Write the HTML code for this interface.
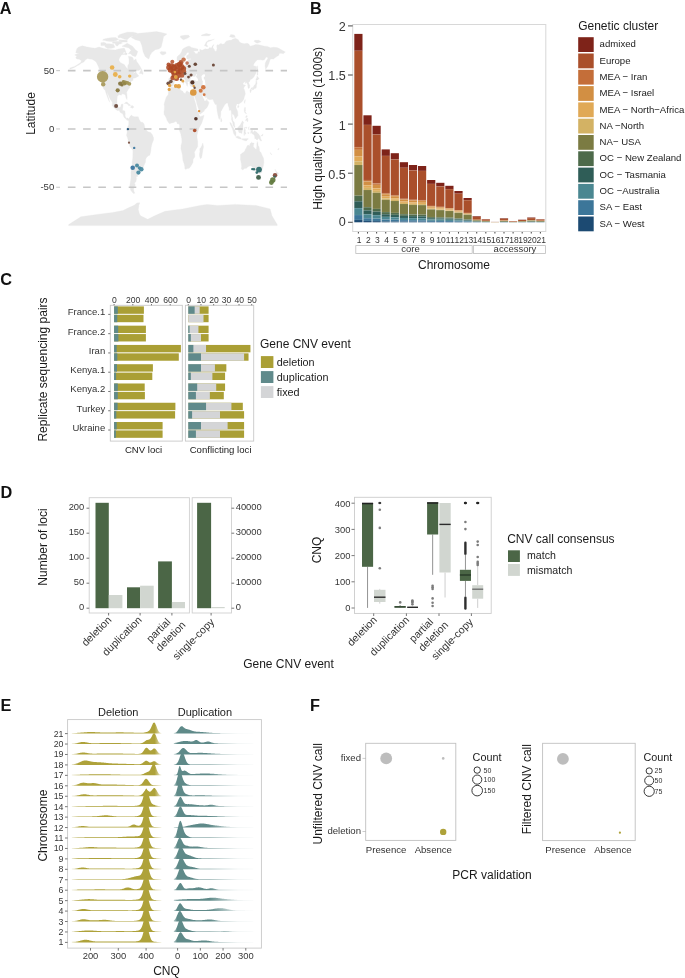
<!DOCTYPE html>
<html><head><meta charset="utf-8"><style>
html,body{margin:0;padding:0;background:#fff;}
svg{display:block;will-change:transform;}
text{font-family:"Liberation Sans", sans-serif;}
</style></head><body>
<svg width="685" height="978" viewBox="0 0 685 978">
<rect width="685" height="978" fill="#fff"/>
<text x="-0.3" y="14.4" font-size="16.3" text-anchor="start" fill="#111" font-weight="bold">A</text>
<text x="310.1" y="14.4" font-size="16.3" text-anchor="start" fill="#111" font-weight="bold">B</text>
<text x="0.3" y="285.2" font-size="16.3" text-anchor="start" fill="#111" font-weight="bold">C</text>
<text x="0.5" y="497.5" font-size="16.3" text-anchor="start" fill="#111" font-weight="bold">D</text>
<text x="0.5" y="710.9" font-size="16.3" text-anchor="start" fill="#111" font-weight="bold">E</text>
<text x="309.9" y="711" font-size="16.3" text-anchor="start" fill="#111" font-weight="bold">F</text>
<path d="M75.72 52.58 L76.89 48.73 L78.65 47.1 L82.45 45.81 L86.25 46.86 L91.52 47.8 L95.03 48.15 L99.12 47.1 L103.8 48.5 L106.73 49.08 L110.82 49.66 L115.5 49.9 L118.43 49.08 L121.35 48.5 L124.28 47.91 L126.03 51.99 L123.69 54.33 L121.35 54.91 L119.01 58.99 L119.01 60.51 L120.18 62.49 L122.52 63.65 L124.28 64.47 L126.03 67.15 L127.78 68.9 L127.78 65.4 L128.96 63.65 L128.96 58.99 L128.37 56.31 L131.3 56.66 L133.05 57.82 L133.63 60.39 L135.97 58.99 L136.56 61.32 L138.31 63.65 L140.66 67.15 L141.24 68.9 L138.9 70.42 L135.39 70.42 L132.47 74.15 L135.97 71.82 L136.27 72.98 L138.31 75.31 L138.9 75.9 L135.39 77.88 L133.05 78.23 L133.05 80.33 L130.71 81.73 L129.54 85.81 L129.83 87.56 L128.37 89.31 L126.62 92.22 L127.2 97.47 L126.97 99.57 L126.03 98.05 L125.44 95.14 L124.28 94.32 L121.94 93.74 L121.35 95.14 L119.01 94.44 L117.25 96.54 L116.96 100.97 L116.96 103.88 L117.84 106.8 L118.72 107.73 L120.77 107.03 L121.06 104.46 L123.11 103.88 L122.81 107.38 L122.34 110.29 L124.86 110.88 L125.27 113.79 L125.04 116.12 L126.32 118.46 L127.49 117.87 L128.66 119.04 L128.37 120.55 L127.2 120.2 L126.32 119.62 L123.98 117.29 L122.81 113.79 L120.47 112.63 L119.01 110.29 L117.55 110.64 L115.5 109.13 L112.28 105.63 L112.28 102.37 L110.24 99.22 L108.48 95.14 L106.9 91.99 L107.31 93.97 L108.48 97.47 L109.65 102.13 L108.48 99.8 L107.13 96.3 L105.73 92.22 L105.26 90.47 L103.51 88.72 L102.34 85.22 L101.46 81.73 L101.17 78.81 L101.46 75.31 L101.05 72.63 L102.05 71.82 L99.7 70.07 L97.95 65.4 L96.2 61.9 L93.86 60.16 L92.1 59.34 L89.76 58.99 L87.42 58.41 L85.08 60.16 L83.91 61.9 L81.57 63.07 L79.23 64.82 L77.77 65.4 L74.55 67.39 L69.87 69.13 L69.87 68.08 L74.55 66.45 L78.06 64.35 L80.4 62.72 L81.57 60.74 L79.23 59.22 L76.89 58.99 L75.72 57.82 L76.89 56.07 L74.55 54.91 L76.89 54.09 L79.82 53.74 L76.89 53.28 Z M131.3 37.42 L134.22 35.09 L138.9 33.34 L147.68 32.41 L156.45 31.59 L162.3 32.75 L166.98 33.92 L163.47 36.84 L162.88 40.33 L161.72 45 L161.13 47.33 L158.79 49.08 L155.28 49.66 L151.77 52.58 L150.01 55.49 L148.84 58.99 L147.09 58.06 L145.34 56.66 L144.16 54.33 L143 51.41 L142.41 47.91 L141.82 45.58 L140.07 40.92 L135.39 39.75 Z M128.66 119.04 L130.12 116.36 L131.88 114.96 L132.17 116.12 L134.22 116.71 L136.56 116.71 L138.31 116.71 L138.9 119.04 L140.66 121.95 L143 122.54 L144.16 124.29 L144.75 127.2 L145.34 128.95 L147.97 131.86 L150.6 132.45 L152.35 134.78 L153.53 137.69 L153.53 140.03 L152.06 143.52 L151.19 147.61 L150.6 152.27 L149.72 155.19 L148.26 155.77 L146.5 157.52 L145.63 159.27 L145.45 162.18 L144.16 165.1 L143 168.01 L142.12 169.53 L140.66 169.18 L139.78 168.83 L140.66 171.51 L140.36 173.26 L137.73 174.42 L137.55 176.52 L135.97 176.76 L136.56 178.5 L135.97 181.42 L134.51 183.17 L135.39 184.92 L133.93 187.83 L133.63 189.58 L133.93 191.33 L134.81 193.08 L133.93 193.66 L132.47 192.5 L130.71 190.16 L129.83 185.5 L130.71 180.25 L131 177.34 L130.89 172.09 L132.17 166.26 L132.17 162.18 L132.76 158.1 L132.93 150.52 L129.83 146.44 L128.96 142.94 L127.49 137.69 L126.5 135.36 L127.2 131.86 L126.62 130.12 L127.2 127.78 L127.96 126.62 L128.66 124.87 L128.78 121.95 L128.66 120.2 Z M163.94 111.81 L164.17 114.61 L165.22 116.12 L166.22 118.11 L167.27 120.79 L169.32 123.82 L171.66 122.89 L174 122.42 L175.17 121.6 L176.63 121.72 L177.51 123.94 L178.97 123.7 L179.56 125.45 L179.56 127.78 L179.26 130.12 L180.9 134.2 L181.2 135.95 L181.72 138.86 L181.9 142.36 L181.02 145.86 L180.9 148.77 L181.9 152.85 L182.48 155.19 L182.89 160.43 L183.94 163.35 L184.71 166.26 L184.82 168.59 L185.7 169.53 L187.16 168.59 L189.21 168.24 L190.38 166.84 L191.84 164.51 L193.01 162.18 L193.13 159.27 L194.77 156.93 L194.77 154.02 L194.3 152.27 L195.35 150.52 L197.69 146.44 L197.69 141.78 L196.99 137.11 L197.11 134.78 L197.99 131.28 L199.45 127.2 L201.79 123.12 L203.25 118.46 L204.01 115.19 L202.08 115.89 L200.03 116.71 L199.33 115.31 L198.86 114.37 L197.99 112.04 L196.81 109.71 L196.41 107.38 L195.76 103.88 L194.88 101.32 L194.18 98.63 L193.6 96.3 L193.01 93.97 L192.9 92.45 L190.97 92.92 L188.62 92.1 L186.87 90.71 L185.7 92.45 L185.7 93.39 L184.82 93.39 L183.07 92.22 L182.89 91.29 L180.73 90.24 L179.97 88.96 L180.44 87.56 L179.85 85.57 L178.68 85.92 L175.75 86.04 L173.41 87.56 L170.78 87.09 L170.31 88.14 L168.44 91.05 L168.27 94.55 L166.98 96.3 L166.28 96.88 L165.22 100.38 L164.46 102.71 L164.06 104.46 L164.46 106.21 L164.35 109.13 Z M168.74 78.81 L168.56 83.48 L168.79 85.81 L170.49 86.39 L170.78 86.97 L172.83 86.16 L174 83.83 L174.29 81.73 L175.87 80.09 L175.75 78.58 L177.51 78.7 L178.68 77.76 L179.85 77.65 L180.44 79.39 L181.31 80.56 L183.07 82.31 L183.36 84.64 L183.65 82.66 L184.06 81.73 L184.82 82.08 L183.36 80.56 L182.19 79.39 L181.31 77.06 L181.2 75.9 L181.96 75.55 L182.78 77.06 L184.24 78.81 L185.41 80.21 L185.41 82.31 L186.28 84.06 L186.87 85.81 L187.45 86.39 L187.45 84.64 L188.04 84.06 L187.45 82.31 L188.04 81.38 L189.21 81.38 L189.5 82.08 L189.33 82.89 L189.79 84.64 L190.09 85.81 L190.97 86.39 L192.72 86.74 L194.18 86.04 L195.06 86.39 L195.06 88.14 L194.59 90.47 L194.18 92.22 L193.01 92.57 L194.01 96.54 L194.47 95.72 L195.35 98.63 L196.23 100.97 L196.93 103.88 L197.87 106.8 L198.86 109.71 L199.33 113.79 L200.32 114.03 L202.08 112.63 L204.13 111.11 L204.6 109.71 L206.41 108.2 L207.34 107.03 L208.22 105.05 L208.98 102.71 L208.4 101.43 L207.34 100.97 L206.94 98.75 L206.76 99.92 L205.88 100.73 L204.42 100.97 L204.13 99.8 L203.84 98.63 L203.37 98.63 L203.02 97.47 L202.31 95.72 L202.02 93.97 L202.96 93.97 L203.54 95.14 L204.13 96.54 L205.59 97.82 L206.94 97.23 L207.64 98.98 L209.98 99.68 L211.44 99.45 L212.96 99.33 L213.49 100.97 L214.37 102.71 L215.24 104.46 L216.59 104.46 L216.7 106.8 L217 110.29 L217.58 113.21 L218.17 116.12 L218.75 118.57 L219.34 119.51 L219.75 118.57 L220.39 116.94 L220.74 114.96 L220.92 111.46 L221.97 109.71 L223.43 107.03 L224.89 104.46 L226.06 103.53 L226.94 103.06 L227.7 102.95 L228 104.46 L228.41 106.21 L229.17 107.96 L229.28 110.29 L229.87 110.53 L231.04 109.71 L231.45 113.79 L231.62 117.29 L231.51 119.62 L232.62 122.54 L233.08 125.45 L234.55 127.43 L234.96 127.32 L234.55 124.29 L234.37 122.54 L233.79 121.72 L232.79 120.2 L232.5 117.87 L232.03 116.12 L232.5 113.44 L232.97 114.14 L233.96 114.96 L235.31 118.92 L236.3 117.87 L237.88 115.54 L237.76 112.63 L237.47 110.88 L236.3 108.54 L235.89 106.8 L236.59 104.46 L237.47 103.76 L238.35 104.46 L239.23 103.76 L240.4 102.95 L241.27 102.37 L242.74 100.97 L243.91 98.63 L244.49 96.3 L245.37 93.97 L245.08 92.22 L244.49 89.89 L243.62 88.14 L244.49 86.39 L245.66 85.46 L244.78 84.88 L243.32 84.64 L243.03 83.24 L245.08 81.38 L245.55 81.96 L244.96 83.59 L246.54 82.54 L247.71 84.64 L248 88.14 L249.17 88.14 L249.7 86.97 L249.76 85.22 L249.06 83.94 L248.59 82.31 L249.87 81.14 L250.34 79.39 L251.81 79.05 L253.27 77.65 L254.44 75.9 L256.02 72.98 L256.19 70.65 L256.78 67.73 L256.49 66.57 L254.44 65.99 L253.27 65.17 L254.44 63.07 L256.19 60.74 L257.65 59.81 L260.58 59.81 L262.92 60.16 L264.68 59.57 L266.14 57.01 L268.19 57.82 L266.14 61.32 L265.26 63.07 L265.03 65.99 L265.67 69.48 L266.66 67.73 L267.6 66.57 L269.06 63.07 L269.53 61.32 L270.52 58.99 L273.45 58.99 L274.91 57.82 L277.54 56.07 L278.71 55.49 L279.3 53.39 L281.06 53.16 L283.28 53.86 L285.33 51.88 L282.23 50.24 L279.3 48.61 L276.96 47.56 L273.45 47.33 L270.52 47.8 L267.6 46.4 L264.68 46.16 L261.75 45.58 L258.82 44.76 L255.9 44.41 L252.97 45.46 L250.05 46.16 L248.88 44.07 L247.12 43.25 L244.2 43.83 L241.27 43.02 L239.52 42.08 L238.35 39.75 L235.43 38.35 L232.5 39.17 L231.33 40.33 L229.57 40.33 L226.65 40.92 L224.89 42.67 L224.6 43.83 L221.97 44.3 L221.09 43.25 L218.46 45 L217.88 44.41 L216.7 45.58 L217 48.5 L216.41 51.29 L214.95 51.18 L214.07 49.08 L212.9 47.91 L213.08 46.4 L214.07 44.41 L212.61 45.58 L211.44 47.91 L209.39 47.56 L208.51 49.08 L206.47 49.08 L205.3 48.73 L202.08 50.24 L199.74 49.2 L199.74 51.99 L198.28 51.64 L197.4 53.74 L195.35 53.39 L194.47 51.99 L193.31 51.06 L197.99 50.83 L197.99 49.08 L194.47 48.15 L191.55 47.56 L189.79 46.16 L188.04 46.16 L185.7 47.33 L183.36 48.5 L182.19 49.66 L181.6 51.41 L181.02 52.81 L180.14 54.33 L178.68 55.26 L177.22 56.66 L176.93 58.99 L177.22 60.39 L178.09 61.32 L178.97 61.09 L180.14 59.92 L180.55 60.74 L181.02 63.07 L181.49 64.12 L182.37 64.12 L183.36 63.42 L183.65 61.9 L183.65 60.16 L184.82 59.57 L184.53 58.06 L184.24 56.07 L185.99 54.91 L186.58 53.16 L188.04 52.23 L188.92 53.16 L188.8 54.33 L186.58 55.73 L186.58 57.82 L187.16 58.99 L188.62 58.64 L190.38 58.41 L191.55 58.99 L190.38 59.57 L188.04 59.81 L187.75 60.74 L188.33 61.9 L186.87 61.9 L186.28 62.72 L186.28 64.24 L185.41 65.4 L184.24 65.05 L182.48 65.99 L181.02 65.75 L180.44 65.99 L180.32 64.82 L179.85 61.9 L178.97 62.37 L178.8 64.24 L179.09 65.99 L178.09 66.57 L176.93 66.92 L176.34 68.55 L175.17 69.48 L174.88 70.65 L174 71 L173.24 71.12 L172.95 72.17 L171.37 72.4 L171.54 73.22 L172.71 73.91 L173.3 75.31 L173.24 77.3 L172.95 78.35 L171.66 78.23 L169.32 78 Z M68.7 225.61 L68.7 224.56 L80.81 216.87 L95.03 214.77 L112.58 212.44 L122.99 210.57 L130.01 207.07 L134.22 205.32 L136.85 202.99 L139.78 202.64 L138.9 205.32 L138.31 209.4 L139.49 214.07 L140.6 215.82 L147.62 219.31 L154.58 215.82 L164.99 211.27 L182.6 208.94 L199.97 205.44 L206.99 204.39 L217.7 205.44 L235.19 204.39 L256.19 205.44 L270.17 208.94 L271.99 215.82 L277.19 224.56 L277.19 225.61 Z M137.73 51.41 L136.56 54.91 L135.39 56.66 L132.17 55.49 L130.71 53.74 L128.37 53.74 L131 50.24 L128.96 47.91 L126.03 47.33 L121.94 46.16 L127.2 43.25 L132.47 46.16 L135.39 49.66 Z M105.56 47.33 L107.9 48.5 L111.99 48.26 L114.92 47.33 L113.75 44.41 L109.65 43.83 L104.97 43.83 L104.39 45.58 Z M102.63 40.33 L105.56 40.57 L108.48 40.92 L112.58 41.15 L116.67 40.57 L118.43 39.17 L115.5 37.42 L110.82 37.65 L106.14 38.58 L103.22 39.17 Z M112.58 43.25 L116.67 43.6 L120.18 44.07 L122.52 42.9 L120.18 41.5 L115.5 41.5 L112.58 42.08 Z M127.2 39.75 L129.54 37.42 L133.05 35.67 L137.73 33.34 L133.05 32.17 L127.2 32.17 L121.35 33.92 L119.01 35.09 L121.35 38 L124.86 39.17 Z M118.43 39.75 L127.2 40.33 L127.2 42.08 L120.18 42.08 Z M100.88 45.58 L103.8 45.58 L106.14 43.25 L103.8 42.2 L100.88 42.67 Z M115.5 45 L117.25 46.16 L119.01 44.41 L117.84 42.67 L115.5 43.25 Z M106.14 40.92 L112.58 41.5 L115.5 40.92 L112.58 39.17 L107.31 39.17 L105.56 40.33 Z M118.43 38 L124.28 36.84 L122.52 34.5 L117.84 35.67 Z M123.11 54.33 L126.62 54.91 L127.2 53.16 L123.69 51.99 Z M139.31 73.45 L141.53 68.78 L142.41 71.23 L143.17 73.56 L142.7 74.5 L141.24 73.56 Z M98.94 69.72 L101.75 72.52 L101.17 72.28 L99.7 70.65 Z M124.28 103.53 L126.03 102.02 L127.2 102.13 L128.66 103.65 L130.12 104.81 L130.59 105.4 L128.66 105.75 L128.37 104.81 L126.62 103.76 L124.86 103.41 Z M130.42 107.38 L131.41 105.75 L133.05 105.86 L133.93 107.26 L132.47 108.31 Z M170.67 70.65 L172.25 69.95 L174.76 69.37 L174.99 67.5 L174.18 66.69 L173.71 65.4 L173.12 64.24 L172.71 63.07 L172.95 61.79 L171.95 60.62 L171.07 60.62 L170.78 61.9 L170.67 63.42 L171.07 64.24 L171.95 65.29 L172.25 66.22 L171.37 66.92 L171.54 68.08 L170.9 68.55 L171.95 69.02 Z M170.49 68.08 L170.37 66.22 L170.78 65.17 L169.91 64.47 L169.03 64.82 L168.15 65.99 L168.27 67.73 L167.97 68.55 L169.03 68.78 Z M161.13 54.33 L159.96 52.58 L161.13 51.53 L163.47 51.76 L165.52 51.64 L166.1 53.16 L165.22 54.09 L163 55.03 Z M180.44 37.42 L183.36 39.75 L186.87 38.58 L189.79 36.84 L188.62 35.32 L184.53 35.32 L180.44 35.9 Z M204.42 45.58 L206.76 46.63 L207.93 46.51 L206.47 44.41 L207.34 42.08 L210.27 40.92 L214.37 39.17 L212.61 39.75 L208.51 40.33 L206.18 42.08 L205.59 43.25 Z M229.57 36.84 L232.5 37.42 L235.43 37.19 L234.25 35.09 L230.75 34.5 Z M254.14 41.5 L257.07 43.25 L261.16 41.85 L258.82 40.33 L254.73 40.33 Z M201.5 35.67 L209.1 35.67 L210.85 34.5 L206.18 33.57 L201.5 35.09 Z M257.07 75.31 L257.95 74.73 L257.65 71.82 L258.53 71.82 L257.77 68.55 L257.65 65.64 L257.25 66.57 L256.95 68.9 L257.07 71.82 Z M250.58 89.31 L251.51 87.67 L253.27 87.44 L254.03 85.46 L255.02 84.76 L255.9 82.89 L255.84 81.61 L256.37 80.79 L256.78 81.73 L257.07 83.48 L256.49 85.22 L256.37 87.21 L255.9 88.14 L255.02 88.61 L254.14 88.61 L253.27 89.89 L252.97 88.61 L251.81 88.96 Z M249.82 90.12 L250.34 92.8 L250.93 92.22 L251.16 89.89 L250.52 89.42 Z M251.51 90.47 L252.86 89.54 L252.57 89.07 L251.69 89.42 Z M255.9 80.56 L256.6 80.21 L257.83 79.98 L259.12 78.46 L258.53 77.65 L256.95 75.9 L256.78 78.23 L255.9 78.81 Z M244.32 102.71 L244.67 103.41 L245.31 100.38 L245.08 99.45 L244.32 101.55 Z M237.59 107.38 L238.35 107.73 L238.94 106.21 L238.64 105.4 L237.76 105.63 Z M220.68 119.62 L220.8 117.52 L221.5 119.04 L221.85 120.79 L221.38 121.95 L220.8 121.72 Z M244.2 110.29 L244.55 107.38 L245.49 107.38 L245.37 109.13 L245.66 110.29 L245.08 112.04 L246.54 113.21 L246.13 113.79 L245.08 112.98 L244.55 112.28 Z M245.37 120.79 L246.54 120.2 L247.42 121.95 L248 120.79 L247.71 118.11 L246.25 118.81 Z M245.37 117.29 L246.54 115.54 L247.42 116.12 L246.54 117.52 Z M229.75 122.42 L231.04 122.89 L232.73 126.38 L234.55 129.53 L236.01 132.45 L235.89 135.71 L235.13 135.83 L233.67 133.61 L232.79 130.12 L231.62 127.2 L230.45 124.87 Z M235.54 136.88 L237.18 136.3 L238.94 136.41 L240.98 137.93 L240.98 139.09 L238.94 138.63 L236.3 137.58 Z M241.27 138.86 L243.62 138.63 L245.95 138.63 L247.12 138.51 L248.3 138.63 L247.71 139.44 L246.25 140.96 L244.2 140.61 L241.86 139.44 Z M237.76 127.2 L238.35 126.97 L239.23 126.03 L240.1 125.22 L241.57 122.54 L242.44 120.79 L243.73 122.77 L243.03 123.7 L243.03 127.78 L242.74 128.95 L242.15 131.86 L241.86 133.61 L240.98 133.03 L238.94 132.45 L238.35 130.7 L237.76 128.95 Z M243.91 135.36 L244.49 135.36 L244.49 132.45 L245.08 134.2 L245.95 133.85 L245.08 130.7 L245.95 129.88 L244.78 129.53 L244.78 127.78 L246.83 128.37 L247.12 127.2 L244.49 127.43 L244.02 128.95 L243.91 132.45 Z M250.63 130.7 L252.39 129.88 L252.97 132.8 L254.44 130.7 L256.49 131.98 L258.82 134.2 L259.41 135.36 L260.29 136.53 L260.58 138.28 L261.75 141.08 L260 140.61 L258.82 138.28 L257.95 139.44 L257.36 139.79 L256.49 139.68 L255.31 138.51 L254.73 138.74 L254.73 137.11 L254.14 134.78 L252.97 134.2 L251.81 133.61 L251.22 132.45 Z M260.87 135.36 L262.04 135.36 L262.92 133.85 L262.92 135.36 L261.75 136.3 Z M248.59 127.2 L249.17 126.62 L248.88 128.95 L249.35 129.88 L248.59 129.53 Z M247.71 132.45 L248.88 132.68 L248.88 133.38 L247.83 133.38 Z M250.05 132.45 L250.63 132.68 L250.52 133.38 Z M240.4 154.6 L240.81 154.37 L242.27 152.97 L243.62 152.27 L245.08 150.52 L245.55 148.77 L246.25 148.19 L247.12 145.86 L248.3 145.04 L249.46 146.21 L249.93 144.11 L250.63 143.18 L251.51 142.36 L252.39 142.94 L253.56 142.94 L254.14 143.52 L253.56 144.69 L253.27 146.44 L254.14 147.61 L255.61 149.35 L256.37 149.24 L256.78 146.44 L256.84 143.52 L257.36 141.43 L257.95 143.52 L258.12 145.86 L259 146.44 L259.41 149.35 L259.59 151.1 L261.05 152.85 L262.04 155.19 L263.5 158.1 L263.86 162.18 L263.5 165.1 L262.92 167.43 L262.04 170.34 L261.69 172.67 L260.29 173.26 L259.29 173.96 L258.53 173.37 L257.95 174.19 L256.49 173.26 L255.72 172.33 L255.61 170.69 L254.73 170.46 L255.02 169.18 L254.44 169.53 L254.44 168.01 L253.56 169.53 L253.15 169.18 L252.57 167.19 L250.93 165.68 L248.88 166.26 L247.12 167.43 L246.25 168.48 L244.78 168.36 L243.62 169.18 L242.74 169.88 L241.39 168.94 L241.27 168.01 L241.68 166.84 L241.27 163.35 L240.69 160.43 L240.28 159.27 L240.57 157.52 Z M258.65 176.41 L260.76 176.64 L260.58 179.09 L259.88 179.79 L259.12 178.85 Z M275.03 169.18 L276.08 170.93 L276.67 172.09 L278.42 172.91 L278.07 174.66 L277.49 175.01 L276.96 177.11 L276.49 177.46 L276.14 176.99 L276.38 175.59 L275.67 174.66 L276.14 173.26 L276.08 172.09 L275.2 170.34 Z M275.03 176.17 L275.97 176.99 L275.5 178.5 L275.03 180.02 L274.15 180.84 L273.86 182.35 L273.16 183.29 L271.69 182.94 L271.4 182 L272.46 180.25 L273.74 179.09 L274.62 177.34 Z M202.84 142.94 L203.54 147.02 L202.96 149.35 L202.37 153.44 L201.61 157.87 L200.32 158.68 L199.56 156.35 L199.45 154.02 L199.92 151.69 L199.74 148.77 L201.09 147.37 L201.96 145.27 Z M270.52 152.85 L271.69 154.6 L271.4 154.95 L270.12 152.62 Z M278.13 148.77 L279.01 148.19 L278.42 149.94 L277.72 149.7 Z M71.04 226.89 L71.04 226.89 Z" fill="#e8e8e8" stroke="#e8e8e8" stroke-width="0.3"/>
<path d="M190.09 79.98 L190.67 78.23 L191.26 76.25 L191.84 74.73 L192.72 74.73 L193.6 77.06 L194.77 76.48 L195.35 76.13 L196.23 74.15 L196.99 73.91 L196.23 76.48 L195.65 76.71 L196.52 77.3 L197.4 78.35 L198.28 80.56 L196.81 81.14 L195.06 80.33 L193.89 79.98 L192.13 80.91 L190.97 80.91 L190.38 80.44 Z M201.5 75.9 L202.66 74.73 L203.84 74.15 L205 74.5 L205 76.48 L203.84 77.06 L203.84 78.81 L204.83 79.98 L205 81.73 L205.3 82.89 L205.3 85.46 L203.84 86.04 L202.66 85.22 L202.66 82.31 L202.96 81.73 L202.08 79.98 L201.79 78.81 L201.5 77.06 Z" fill="#ffffff"/>
<line x1="67.9" y1="70.65" x2="287" y2="70.65" stroke="#c6c6c6" stroke-width="1.6" stroke-dasharray="7.6 7.6"/>
<line x1="56.2" y1="70.65" x2="60" y2="70.65" stroke="#c0c0c0" stroke-width="0.9"/>
<text x="54.3" y="73.55" font-size="9.6" text-anchor="end" fill="#363636">50</text>
<line x1="67.9" y1="128.95" x2="287" y2="128.95" stroke="#c6c6c6" stroke-width="1.6" stroke-dasharray="7.6 7.6"/>
<line x1="56.2" y1="128.95" x2="60" y2="128.95" stroke="#c0c0c0" stroke-width="0.9"/>
<text x="54.3" y="131.85" font-size="9.6" text-anchor="end" fill="#363636">0</text>
<line x1="67.9" y1="187.25" x2="287" y2="187.25" stroke="#c6c6c6" stroke-width="1.6" stroke-dasharray="7.6 7.6"/>
<line x1="56.2" y1="187.25" x2="60" y2="187.25" stroke="#c0c0c0" stroke-width="0.9"/>
<text x="54.3" y="190.15" font-size="9.6" text-anchor="end" fill="#363636">-50</text>
<text x="34.8" y="113.5" font-size="12" text-anchor="middle" fill="#1a1a1a" transform="rotate(-90 34.8 113.5)">Latitude</text>
<circle cx="102.6" cy="76.7" r="5.7" fill="#aa9b5d" fill-opacity="0.95"/>
<circle cx="103.2" cy="84.2" r="2.2" fill="#aa9b5d" fill-opacity="0.95"/>
<circle cx="112.1" cy="67.5" r="2.3" fill="#e9b04c" fill-opacity="0.95"/>
<circle cx="115.3" cy="74.5" r="2.4" fill="#e9b04c" fill-opacity="0.95"/>
<circle cx="119.7" cy="76.7" r="1.8" fill="#e9b04c" fill-opacity="0.95"/>
<circle cx="129.7" cy="76.1" r="1.7" fill="#e9b04c" fill-opacity="0.95"/>
<circle cx="120.3" cy="83.6" r="2.2" fill="#857540" fill-opacity="0.95"/>
<circle cx="123.5" cy="82" r="2" fill="#938648" fill-opacity="0.95"/>
<circle cx="125.5" cy="82.6" r="2" fill="#9c8f52" fill-opacity="0.95"/>
<circle cx="127.5" cy="82.9" r="1.9" fill="#a09355" fill-opacity="0.95"/>
<circle cx="129.4" cy="83.8" r="1.9" fill="#a59858" fill-opacity="0.95"/>
<circle cx="122" cy="85" r="1.6" fill="#857540" fill-opacity="0.95"/>
<circle cx="124.5" cy="83.8" r="1.8" fill="#938648" fill-opacity="0.95"/>
<circle cx="117.7" cy="90.3" r="2.1" fill="#8a7a42" fill-opacity="0.95"/>
<circle cx="116.1" cy="106" r="2" fill="#6c4a3c" fill-opacity="0.95"/>
<circle cx="169" cy="67.5" r="2.8" fill="#ac4722" fill-opacity="0.88"/>
<circle cx="171.5" cy="66" r="2.8" fill="#ac4722" fill-opacity="0.88"/>
<circle cx="174" cy="67.5" r="3" fill="#ac4722" fill-opacity="0.88"/>
<circle cx="177" cy="66" r="3" fill="#ac4722" fill-opacity="0.88"/>
<circle cx="179.5" cy="64.5" r="2.8" fill="#ac4722" fill-opacity="0.88"/>
<circle cx="181.5" cy="67" r="3" fill="#ac4722" fill-opacity="0.88"/>
<circle cx="183.5" cy="68.5" r="2.6" fill="#ac4722" fill-opacity="0.88"/>
<circle cx="170.5" cy="70" r="2.8" fill="#ac4722" fill-opacity="0.88"/>
<circle cx="173.5" cy="71.5" r="3" fill="#ac4722" fill-opacity="0.88"/>
<circle cx="177" cy="70.5" r="3.2" fill="#ac4722" fill-opacity="0.88"/>
<circle cx="180.5" cy="71.5" r="3" fill="#ac4722" fill-opacity="0.88"/>
<circle cx="184" cy="71.5" r="2.2" fill="#b65a34" fill-opacity="0.95"/>
<circle cx="174.5" cy="75" r="3" fill="#ac4722" fill-opacity="0.88"/>
<circle cx="178.5" cy="75" r="3" fill="#ac4722" fill-opacity="0.88"/>
<circle cx="182" cy="75.5" r="2.3" fill="#b85c38" fill-opacity="0.95"/>
<circle cx="176.5" cy="78.5" r="2.5" fill="#ac4722" fill-opacity="0.88"/>
<circle cx="172.5" cy="78" r="2.2" fill="#ac4722" fill-opacity="0.88"/>
<circle cx="168.5" cy="64.5" r="2" fill="#ac4722" fill-opacity="0.88"/>
<circle cx="181" cy="62.5" r="2.4" fill="#ac4722" fill-opacity="0.88"/>
<circle cx="172.3" cy="61.8" r="2" fill="#c06543" fill-opacity="0.95"/>
<circle cx="183.6" cy="59.6" r="2.2" fill="#c87650" fill-opacity="0.95"/>
<circle cx="187.1" cy="63.1" r="1.8" fill="#c2735a" fill-opacity="0.95"/>
<circle cx="174.9" cy="72.1" r="1.3" fill="#e3a245" fill-opacity="0.95"/>
<circle cx="175.8" cy="77.1" r="2" fill="#e3a648" fill-opacity="0.95"/>
<circle cx="195.3" cy="64.2" r="1.8" fill="#63402f" fill-opacity="0.95"/>
<circle cx="189.3" cy="66.2" r="1.5" fill="#6a4636" fill-opacity="0.95"/>
<circle cx="213.4" cy="65.1" r="1.5" fill="#6a4636" fill-opacity="0.95"/>
<circle cx="185" cy="73.6" r="1.5" fill="#6a4636" fill-opacity="0.95"/>
<circle cx="191.1" cy="75" r="1.6" fill="#6a4636" fill-opacity="0.95"/>
<circle cx="188.5" cy="77.1" r="1.4" fill="#6a4636" fill-opacity="0.95"/>
<circle cx="192.4" cy="82.4" r="2.1" fill="#4c2c22" fill-opacity="0.95"/>
<circle cx="168.3" cy="83.3" r="1.9" fill="#6a4a3c" fill-opacity="0.95"/>
<circle cx="170.9" cy="81.5" r="1.8" fill="#6a4a3c" fill-opacity="0.95"/>
<circle cx="181" cy="79.8" r="1.2" fill="#6a4a3c" fill-opacity="0.95"/>
<circle cx="169.6" cy="85.5" r="1.7" fill="#e2a043" fill-opacity="0.95"/>
<circle cx="169.2" cy="89.4" r="1.6" fill="#e2a043" fill-opacity="0.95"/>
<circle cx="175.8" cy="85.9" r="2" fill="#e2a043" fill-opacity="0.95"/>
<circle cx="178.8" cy="86.3" r="2.2" fill="#e2a043" fill-opacity="0.95"/>
<circle cx="182.8" cy="81.1" r="1.5" fill="#e2a043" fill-opacity="0.95"/>
<circle cx="193.7" cy="85.9" r="1.2" fill="#e2a043" fill-opacity="0.95"/>
<circle cx="193.3" cy="92.5" r="3.3" fill="#da953a" fill-opacity="0.95"/>
<circle cx="194.6" cy="87.7" r="1.2" fill="#6a4a3c" fill-opacity="0.95"/>
<circle cx="203.3" cy="87.2" r="2.3" fill="#d2743d" fill-opacity="0.95"/>
<circle cx="200.7" cy="90.7" r="2" fill="#d2743d" fill-opacity="0.95"/>
<circle cx="204.2" cy="94.7" r="1.4" fill="#d2743d" fill-opacity="0.95"/>
<circle cx="199.1" cy="111.1" r="1.2" fill="#e08d33" fill-opacity="0.95"/>
<circle cx="195.9" cy="118.7" r="1.8" fill="#4c2c22" fill-opacity="0.95"/>
<circle cx="194.7" cy="130.5" r="1.8" fill="#ad4b27" fill-opacity="0.95"/>
<circle cx="127.9" cy="129.1" r="1.2" fill="#1d4d74" fill-opacity="0.95"/>
<circle cx="129" cy="142.7" r="1.1" fill="#7a5040" fill-opacity="0.95"/>
<circle cx="134.2" cy="147.9" r="1.2" fill="#3d78a0" fill-opacity="0.95"/>
<circle cx="132.7" cy="167.8" r="2.3" fill="#3b76a0" fill-opacity="0.95"/>
<circle cx="137" cy="165.6" r="2" fill="#4a8aa0" fill-opacity="0.95"/>
<circle cx="141.3" cy="169.2" r="2.3" fill="#4a8aa0" fill-opacity="0.95"/>
<circle cx="139.5" cy="168" r="1.8" fill="#4a8aa0" fill-opacity="0.95"/>
<circle cx="138.4" cy="172.6" r="2.1" fill="#4a8aa0" fill-opacity="0.95"/>
<circle cx="259" cy="169.6" r="2.9" fill="#2f6b6b" fill-opacity="0.95"/>
<circle cx="252.3" cy="169.1" r="1.2" fill="#2f6b6b" fill-opacity="0.95"/>
<circle cx="254" cy="169.2" r="1.2" fill="#2f6b6b" fill-opacity="0.95"/>
<circle cx="256.8" cy="172.6" r="1.3" fill="#2f6b6b" fill-opacity="0.95"/>
<circle cx="258.5" cy="177.4" r="2.4" fill="#3f5f49" fill-opacity="0.95"/>
<circle cx="275" cy="175.2" r="2.2" fill="#8a4c3c" fill-opacity="0.95"/>
<circle cx="274.7" cy="176.6" r="1.2" fill="#3b6a60" fill-opacity="0.95"/>
<circle cx="272.8" cy="180" r="2.7" fill="#637b40" fill-opacity="0.95"/>
<circle cx="271.4" cy="182.5" r="2.4" fill="#637b40" fill-opacity="0.95"/>
<rect x="352.7" y="24.5" width="193.1" height="207" fill="none" stroke="#d8d8d8" stroke-width="1"/>
<rect x="354.3" y="33.9" width="8.2" height="16.9" fill="#7e2319"/>
<rect x="354.3" y="50.8" width="8.2" height="96.4" fill="#aa4f2b"/>
<rect x="354.3" y="147.2" width="8.2" height="2.67" fill="#c46e39"/>
<rect x="354.3" y="149.87" width="8.2" height="6.76" fill="#d28f43"/>
<rect x="354.3" y="156.63" width="8.2" height="4.63" fill="#e0a956"/>
<rect x="354.3" y="161.26" width="8.2" height="3.74" fill="#d3b264"/>
<rect x="354.3" y="165" width="8.2" height="30.7" fill="#7b7b42"/>
<rect x="354.3" y="195.7" width="8.2" height="5.51" fill="#4d6a4a"/>
<rect x="354.3" y="201.21" width="8.2" height="6.92" fill="#2f5d57"/>
<rect x="354.3" y="208.12" width="8.2" height="6.92" fill="#4a8791"/>
<rect x="354.3" y="215.04" width="8.2" height="4.89" fill="#3c7699"/>
<rect x="354.3" y="219.93" width="8.2" height="2.37" fill="#1c4a72"/>
<line x1="354.3" y1="50.8" x2="362.5" y2="50.8" stroke="#ffffff" stroke-width="0.3" stroke-opacity="0.22"/>
<line x1="354.3" y1="147.2" x2="362.5" y2="147.2" stroke="#ffffff" stroke-width="0.3" stroke-opacity="0.22"/>
<line x1="354.3" y1="149.87" x2="362.5" y2="149.87" stroke="#ffffff" stroke-width="0.3" stroke-opacity="0.22"/>
<line x1="354.3" y1="156.63" x2="362.5" y2="156.63" stroke="#ffffff" stroke-width="0.3" stroke-opacity="0.22"/>
<line x1="354.3" y1="161.26" x2="362.5" y2="161.26" stroke="#ffffff" stroke-width="0.3" stroke-opacity="0.22"/>
<line x1="354.3" y1="165" x2="362.5" y2="165" stroke="#ffffff" stroke-width="0.3" stroke-opacity="0.22"/>
<line x1="354.3" y1="195.7" x2="362.5" y2="195.7" stroke="#ffffff" stroke-width="0.3" stroke-opacity="0.22"/>
<line x1="354.3" y1="201.21" x2="362.5" y2="201.21" stroke="#ffffff" stroke-width="0.3" stroke-opacity="0.22"/>
<line x1="354.3" y1="208.12" x2="362.5" y2="208.12" stroke="#ffffff" stroke-width="0.3" stroke-opacity="0.22"/>
<line x1="354.3" y1="215.04" x2="362.5" y2="215.04" stroke="#ffffff" stroke-width="0.3" stroke-opacity="0.22"/>
<line x1="354.3" y1="219.93" x2="362.5" y2="219.93" stroke="#ffffff" stroke-width="0.3" stroke-opacity="0.22"/>
<line x1="358.4" y1="232" x2="358.4" y2="233.6" stroke="#555" stroke-width="1.1"/>
<text x="359.2" y="242.6" font-size="8.5" text-anchor="middle" fill="#363636">1</text>
<rect x="363.4" y="115.3" width="8.2" height="9.6" fill="#7e2319"/>
<rect x="363.4" y="124.9" width="8.2" height="55.1" fill="#aa4f2b"/>
<rect x="363.4" y="180" width="8.2" height="1.5" fill="#c46e39"/>
<rect x="363.4" y="181.5" width="8.2" height="3.8" fill="#d28f43"/>
<rect x="363.4" y="185.3" width="8.2" height="2.6" fill="#e0a956"/>
<rect x="363.4" y="187.9" width="8.2" height="2.1" fill="#d3b264"/>
<rect x="363.4" y="190" width="8.2" height="17.2" fill="#7b7b42"/>
<rect x="363.4" y="207.2" width="8.2" height="3.13" fill="#4d6a4a"/>
<rect x="363.4" y="210.33" width="8.2" height="3.93" fill="#2f5d57"/>
<rect x="363.4" y="214.25" width="8.2" height="3.93" fill="#4a8791"/>
<rect x="363.4" y="218.18" width="8.2" height="2.78" fill="#3c7699"/>
<rect x="363.4" y="220.96" width="8.2" height="1.34" fill="#1c4a72"/>
<line x1="363.4" y1="124.9" x2="371.6" y2="124.9" stroke="#ffffff" stroke-width="0.3" stroke-opacity="0.22"/>
<line x1="363.4" y1="180" x2="371.6" y2="180" stroke="#ffffff" stroke-width="0.3" stroke-opacity="0.22"/>
<line x1="363.4" y1="181.5" x2="371.6" y2="181.5" stroke="#ffffff" stroke-width="0.3" stroke-opacity="0.22"/>
<line x1="363.4" y1="185.3" x2="371.6" y2="185.3" stroke="#ffffff" stroke-width="0.3" stroke-opacity="0.22"/>
<line x1="363.4" y1="187.9" x2="371.6" y2="187.9" stroke="#ffffff" stroke-width="0.3" stroke-opacity="0.22"/>
<line x1="363.4" y1="190" x2="371.6" y2="190" stroke="#ffffff" stroke-width="0.3" stroke-opacity="0.22"/>
<line x1="363.4" y1="207.2" x2="371.6" y2="207.2" stroke="#ffffff" stroke-width="0.3" stroke-opacity="0.22"/>
<line x1="363.4" y1="210.33" x2="371.6" y2="210.33" stroke="#ffffff" stroke-width="0.3" stroke-opacity="0.22"/>
<line x1="363.4" y1="214.25" x2="371.6" y2="214.25" stroke="#ffffff" stroke-width="0.3" stroke-opacity="0.22"/>
<line x1="363.4" y1="218.18" x2="371.6" y2="218.18" stroke="#ffffff" stroke-width="0.3" stroke-opacity="0.22"/>
<line x1="363.4" y1="220.96" x2="371.6" y2="220.96" stroke="#ffffff" stroke-width="0.3" stroke-opacity="0.22"/>
<line x1="367.5" y1="232" x2="367.5" y2="233.6" stroke="#555" stroke-width="1.1"/>
<text x="368.3" y="242.6" font-size="8.5" text-anchor="middle" fill="#363636">2</text>
<rect x="372.5" y="125.8" width="8.2" height="8.7" fill="#7e2319"/>
<rect x="372.5" y="134.5" width="8.2" height="49" fill="#aa4f2b"/>
<rect x="372.5" y="183.5" width="8.2" height="1.4" fill="#c46e39"/>
<rect x="372.5" y="184.9" width="8.2" height="3.53" fill="#d28f43"/>
<rect x="372.5" y="188.43" width="8.2" height="2.42" fill="#e0a956"/>
<rect x="372.5" y="190.85" width="8.2" height="1.95" fill="#d3b264"/>
<rect x="372.5" y="192.8" width="8.2" height="16.1" fill="#7b7b42"/>
<rect x="372.5" y="208.9" width="8.2" height="2.77" fill="#4d6a4a"/>
<rect x="372.5" y="211.67" width="8.2" height="3.48" fill="#2f5d57"/>
<rect x="372.5" y="215.16" width="8.2" height="3.48" fill="#4a8791"/>
<rect x="372.5" y="218.64" width="8.2" height="2.47" fill="#3c7699"/>
<rect x="372.5" y="221.11" width="8.2" height="1.19" fill="#1c4a72"/>
<line x1="372.5" y1="134.5" x2="380.7" y2="134.5" stroke="#ffffff" stroke-width="0.3" stroke-opacity="0.22"/>
<line x1="372.5" y1="183.5" x2="380.7" y2="183.5" stroke="#ffffff" stroke-width="0.3" stroke-opacity="0.22"/>
<line x1="372.5" y1="184.9" x2="380.7" y2="184.9" stroke="#ffffff" stroke-width="0.3" stroke-opacity="0.22"/>
<line x1="372.5" y1="188.43" x2="380.7" y2="188.43" stroke="#ffffff" stroke-width="0.3" stroke-opacity="0.22"/>
<line x1="372.5" y1="190.85" x2="380.7" y2="190.85" stroke="#ffffff" stroke-width="0.3" stroke-opacity="0.22"/>
<line x1="372.5" y1="192.8" x2="380.7" y2="192.8" stroke="#ffffff" stroke-width="0.3" stroke-opacity="0.22"/>
<line x1="372.5" y1="208.9" x2="380.7" y2="208.9" stroke="#ffffff" stroke-width="0.3" stroke-opacity="0.22"/>
<line x1="372.5" y1="211.67" x2="380.7" y2="211.67" stroke="#ffffff" stroke-width="0.3" stroke-opacity="0.22"/>
<line x1="372.5" y1="215.16" x2="380.7" y2="215.16" stroke="#ffffff" stroke-width="0.3" stroke-opacity="0.22"/>
<line x1="372.5" y1="218.64" x2="380.7" y2="218.64" stroke="#ffffff" stroke-width="0.3" stroke-opacity="0.22"/>
<line x1="372.5" y1="221.11" x2="380.7" y2="221.11" stroke="#ffffff" stroke-width="0.3" stroke-opacity="0.22"/>
<line x1="376.6" y1="232" x2="376.6" y2="233.6" stroke="#555" stroke-width="1.1"/>
<text x="377.4" y="242.6" font-size="8.5" text-anchor="middle" fill="#363636">3</text>
<rect x="381.6" y="149.4" width="8.2" height="6.5" fill="#7e2319"/>
<rect x="381.6" y="155.9" width="8.2" height="37.3" fill="#aa4f2b"/>
<rect x="381.6" y="193.2" width="8.2" height="0.99" fill="#c46e39"/>
<rect x="381.6" y="194.19" width="8.2" height="2.51" fill="#d28f43"/>
<rect x="381.6" y="196.7" width="8.2" height="1.72" fill="#e0a956"/>
<rect x="381.6" y="198.41" width="8.2" height="1.39" fill="#d3b264"/>
<rect x="381.6" y="199.8" width="8.2" height="12.3" fill="#7b7b42"/>
<rect x="381.6" y="212.1" width="8.2" height="2.11" fill="#4d6a4a"/>
<rect x="381.6" y="214.21" width="8.2" height="2.65" fill="#2f5d57"/>
<rect x="381.6" y="216.86" width="8.2" height="2.65" fill="#4a8791"/>
<rect x="381.6" y="219.52" width="8.2" height="1.88" fill="#3c7699"/>
<rect x="381.6" y="221.39" width="8.2" height="0.91" fill="#1c4a72"/>
<line x1="381.6" y1="155.9" x2="389.8" y2="155.9" stroke="#ffffff" stroke-width="0.3" stroke-opacity="0.22"/>
<line x1="381.6" y1="193.2" x2="389.8" y2="193.2" stroke="#ffffff" stroke-width="0.3" stroke-opacity="0.22"/>
<line x1="381.6" y1="194.19" x2="389.8" y2="194.19" stroke="#ffffff" stroke-width="0.3" stroke-opacity="0.22"/>
<line x1="381.6" y1="196.7" x2="389.8" y2="196.7" stroke="#ffffff" stroke-width="0.3" stroke-opacity="0.22"/>
<line x1="381.6" y1="198.41" x2="389.8" y2="198.41" stroke="#ffffff" stroke-width="0.3" stroke-opacity="0.22"/>
<line x1="381.6" y1="199.8" x2="389.8" y2="199.8" stroke="#ffffff" stroke-width="0.3" stroke-opacity="0.22"/>
<line x1="381.6" y1="212.1" x2="389.8" y2="212.1" stroke="#ffffff" stroke-width="0.3" stroke-opacity="0.22"/>
<line x1="381.6" y1="214.21" x2="389.8" y2="214.21" stroke="#ffffff" stroke-width="0.3" stroke-opacity="0.22"/>
<line x1="381.6" y1="216.86" x2="389.8" y2="216.86" stroke="#ffffff" stroke-width="0.3" stroke-opacity="0.22"/>
<line x1="381.6" y1="219.52" x2="389.8" y2="219.52" stroke="#ffffff" stroke-width="0.3" stroke-opacity="0.22"/>
<line x1="381.6" y1="221.39" x2="389.8" y2="221.39" stroke="#ffffff" stroke-width="0.3" stroke-opacity="0.22"/>
<line x1="385.7" y1="232" x2="385.7" y2="233.6" stroke="#555" stroke-width="1.1"/>
<text x="386.5" y="242.6" font-size="8.5" text-anchor="middle" fill="#363636">4</text>
<rect x="390.7" y="153.2" width="8.2" height="6.3" fill="#7e2319"/>
<rect x="390.7" y="159.5" width="8.2" height="35.8" fill="#aa4f2b"/>
<rect x="390.7" y="195.3" width="8.2" height="0.85" fill="#c46e39"/>
<rect x="390.7" y="196.16" width="8.2" height="2.17" fill="#d28f43"/>
<rect x="390.7" y="198.32" width="8.2" height="1.48" fill="#e0a956"/>
<rect x="390.7" y="199.8" width="8.2" height="1.2" fill="#d3b264"/>
<rect x="390.7" y="201" width="8.2" height="11.9" fill="#7b7b42"/>
<rect x="390.7" y="212.9" width="8.2" height="1.95" fill="#4d6a4a"/>
<rect x="390.7" y="214.85" width="8.2" height="2.44" fill="#2f5d57"/>
<rect x="390.7" y="217.29" width="8.2" height="2.44" fill="#4a8791"/>
<rect x="390.7" y="219.73" width="8.2" height="1.73" fill="#3c7699"/>
<rect x="390.7" y="221.46" width="8.2" height="0.84" fill="#1c4a72"/>
<line x1="390.7" y1="159.5" x2="398.9" y2="159.5" stroke="#ffffff" stroke-width="0.3" stroke-opacity="0.22"/>
<line x1="390.7" y1="195.3" x2="398.9" y2="195.3" stroke="#ffffff" stroke-width="0.3" stroke-opacity="0.22"/>
<line x1="390.7" y1="196.16" x2="398.9" y2="196.16" stroke="#ffffff" stroke-width="0.3" stroke-opacity="0.22"/>
<line x1="390.7" y1="198.32" x2="398.9" y2="198.32" stroke="#ffffff" stroke-width="0.3" stroke-opacity="0.22"/>
<line x1="390.7" y1="199.8" x2="398.9" y2="199.8" stroke="#ffffff" stroke-width="0.3" stroke-opacity="0.22"/>
<line x1="390.7" y1="201" x2="398.9" y2="201" stroke="#ffffff" stroke-width="0.3" stroke-opacity="0.22"/>
<line x1="390.7" y1="212.9" x2="398.9" y2="212.9" stroke="#ffffff" stroke-width="0.3" stroke-opacity="0.22"/>
<line x1="390.7" y1="214.85" x2="398.9" y2="214.85" stroke="#ffffff" stroke-width="0.3" stroke-opacity="0.22"/>
<line x1="390.7" y1="217.29" x2="398.9" y2="217.29" stroke="#ffffff" stroke-width="0.3" stroke-opacity="0.22"/>
<line x1="390.7" y1="219.73" x2="398.9" y2="219.73" stroke="#ffffff" stroke-width="0.3" stroke-opacity="0.22"/>
<line x1="390.7" y1="221.46" x2="398.9" y2="221.46" stroke="#ffffff" stroke-width="0.3" stroke-opacity="0.22"/>
<line x1="394.8" y1="232" x2="394.8" y2="233.6" stroke="#555" stroke-width="1.1"/>
<text x="395.6" y="242.6" font-size="8.5" text-anchor="middle" fill="#363636">5</text>
<rect x="399.8" y="162.2" width="8.2" height="5.6" fill="#7e2319"/>
<rect x="399.8" y="167.8" width="8.2" height="31" fill="#aa4f2b"/>
<rect x="399.8" y="198.8" width="8.2" height="0.78" fill="#c46e39"/>
<rect x="399.8" y="199.58" width="8.2" height="1.98" fill="#d28f43"/>
<rect x="399.8" y="201.56" width="8.2" height="1.35" fill="#e0a956"/>
<rect x="399.8" y="202.91" width="8.2" height="1.09" fill="#d3b264"/>
<rect x="399.8" y="204" width="8.2" height="10.2" fill="#7b7b42"/>
<rect x="399.8" y="214.2" width="8.2" height="1.68" fill="#4d6a4a"/>
<rect x="399.8" y="215.88" width="8.2" height="2.11" fill="#2f5d57"/>
<rect x="399.8" y="217.98" width="8.2" height="2.11" fill="#4a8791"/>
<rect x="399.8" y="220.09" width="8.2" height="1.49" fill="#3c7699"/>
<rect x="399.8" y="221.58" width="8.2" height="0.72" fill="#1c4a72"/>
<line x1="399.8" y1="167.8" x2="408" y2="167.8" stroke="#ffffff" stroke-width="0.3" stroke-opacity="0.22"/>
<line x1="399.8" y1="198.8" x2="408" y2="198.8" stroke="#ffffff" stroke-width="0.3" stroke-opacity="0.22"/>
<line x1="399.8" y1="199.58" x2="408" y2="199.58" stroke="#ffffff" stroke-width="0.3" stroke-opacity="0.22"/>
<line x1="399.8" y1="201.56" x2="408" y2="201.56" stroke="#ffffff" stroke-width="0.3" stroke-opacity="0.22"/>
<line x1="399.8" y1="202.91" x2="408" y2="202.91" stroke="#ffffff" stroke-width="0.3" stroke-opacity="0.22"/>
<line x1="399.8" y1="204" x2="408" y2="204" stroke="#ffffff" stroke-width="0.3" stroke-opacity="0.22"/>
<line x1="399.8" y1="214.2" x2="408" y2="214.2" stroke="#ffffff" stroke-width="0.3" stroke-opacity="0.22"/>
<line x1="399.8" y1="215.88" x2="408" y2="215.88" stroke="#ffffff" stroke-width="0.3" stroke-opacity="0.22"/>
<line x1="399.8" y1="217.98" x2="408" y2="217.98" stroke="#ffffff" stroke-width="0.3" stroke-opacity="0.22"/>
<line x1="399.8" y1="220.09" x2="408" y2="220.09" stroke="#ffffff" stroke-width="0.3" stroke-opacity="0.22"/>
<line x1="399.8" y1="221.58" x2="408" y2="221.58" stroke="#ffffff" stroke-width="0.3" stroke-opacity="0.22"/>
<line x1="403.9" y1="232" x2="403.9" y2="233.6" stroke="#555" stroke-width="1.1"/>
<text x="404.7" y="242.6" font-size="8.5" text-anchor="middle" fill="#363636">6</text>
<rect x="408.9" y="165" width="8.2" height="5.4" fill="#7e2319"/>
<rect x="408.9" y="170.4" width="8.2" height="29.4" fill="#aa4f2b"/>
<rect x="408.9" y="199.8" width="8.2" height="0.76" fill="#c46e39"/>
<rect x="408.9" y="200.56" width="8.2" height="1.94" fill="#d28f43"/>
<rect x="408.9" y="202.5" width="8.2" height="1.33" fill="#e0a956"/>
<rect x="408.9" y="203.83" width="8.2" height="1.07" fill="#d3b264"/>
<rect x="408.9" y="204.9" width="8.2" height="9.6" fill="#7b7b42"/>
<rect x="408.9" y="214.5" width="8.2" height="1.61" fill="#4d6a4a"/>
<rect x="408.9" y="216.11" width="8.2" height="2.03" fill="#2f5d57"/>
<rect x="408.9" y="218.14" width="8.2" height="2.03" fill="#4a8791"/>
<rect x="408.9" y="220.17" width="8.2" height="1.44" fill="#3c7699"/>
<rect x="408.9" y="221.61" width="8.2" height="0.69" fill="#1c4a72"/>
<line x1="408.9" y1="170.4" x2="417.1" y2="170.4" stroke="#ffffff" stroke-width="0.3" stroke-opacity="0.22"/>
<line x1="408.9" y1="199.8" x2="417.1" y2="199.8" stroke="#ffffff" stroke-width="0.3" stroke-opacity="0.22"/>
<line x1="408.9" y1="200.56" x2="417.1" y2="200.56" stroke="#ffffff" stroke-width="0.3" stroke-opacity="0.22"/>
<line x1="408.9" y1="202.5" x2="417.1" y2="202.5" stroke="#ffffff" stroke-width="0.3" stroke-opacity="0.22"/>
<line x1="408.9" y1="203.83" x2="417.1" y2="203.83" stroke="#ffffff" stroke-width="0.3" stroke-opacity="0.22"/>
<line x1="408.9" y1="204.9" x2="417.1" y2="204.9" stroke="#ffffff" stroke-width="0.3" stroke-opacity="0.22"/>
<line x1="408.9" y1="214.5" x2="417.1" y2="214.5" stroke="#ffffff" stroke-width="0.3" stroke-opacity="0.22"/>
<line x1="408.9" y1="216.11" x2="417.1" y2="216.11" stroke="#ffffff" stroke-width="0.3" stroke-opacity="0.22"/>
<line x1="408.9" y1="218.14" x2="417.1" y2="218.14" stroke="#ffffff" stroke-width="0.3" stroke-opacity="0.22"/>
<line x1="408.9" y1="220.17" x2="417.1" y2="220.17" stroke="#ffffff" stroke-width="0.3" stroke-opacity="0.22"/>
<line x1="408.9" y1="221.61" x2="417.1" y2="221.61" stroke="#ffffff" stroke-width="0.3" stroke-opacity="0.22"/>
<line x1="413" y1="232" x2="413" y2="233.6" stroke="#555" stroke-width="1.1"/>
<text x="413.8" y="242.6" font-size="8.5" text-anchor="middle" fill="#363636">7</text>
<rect x="418" y="166" width="8.2" height="4.9" fill="#7e2319"/>
<rect x="418" y="170.9" width="8.2" height="29.3" fill="#aa4f2b"/>
<rect x="418" y="200.2" width="8.2" height="0.74" fill="#c46e39"/>
<rect x="418" y="200.94" width="8.2" height="1.86" fill="#d28f43"/>
<rect x="418" y="202.8" width="8.2" height="1.27" fill="#e0a956"/>
<rect x="418" y="204.07" width="8.2" height="1.03" fill="#d3b264"/>
<rect x="418" y="205.1" width="8.2" height="9.6" fill="#7b7b42"/>
<rect x="418" y="214.7" width="8.2" height="1.57" fill="#4d6a4a"/>
<rect x="418" y="216.27" width="8.2" height="1.98" fill="#2f5d57"/>
<rect x="418" y="218.25" width="8.2" height="1.98" fill="#4a8791"/>
<rect x="418" y="220.23" width="8.2" height="1.4" fill="#3c7699"/>
<rect x="418" y="221.62" width="8.2" height="0.68" fill="#1c4a72"/>
<line x1="418" y1="170.9" x2="426.2" y2="170.9" stroke="#ffffff" stroke-width="0.3" stroke-opacity="0.22"/>
<line x1="418" y1="200.2" x2="426.2" y2="200.2" stroke="#ffffff" stroke-width="0.3" stroke-opacity="0.22"/>
<line x1="418" y1="200.94" x2="426.2" y2="200.94" stroke="#ffffff" stroke-width="0.3" stroke-opacity="0.22"/>
<line x1="418" y1="202.8" x2="426.2" y2="202.8" stroke="#ffffff" stroke-width="0.3" stroke-opacity="0.22"/>
<line x1="418" y1="204.07" x2="426.2" y2="204.07" stroke="#ffffff" stroke-width="0.3" stroke-opacity="0.22"/>
<line x1="418" y1="205.1" x2="426.2" y2="205.1" stroke="#ffffff" stroke-width="0.3" stroke-opacity="0.22"/>
<line x1="418" y1="214.7" x2="426.2" y2="214.7" stroke="#ffffff" stroke-width="0.3" stroke-opacity="0.22"/>
<line x1="418" y1="216.27" x2="426.2" y2="216.27" stroke="#ffffff" stroke-width="0.3" stroke-opacity="0.22"/>
<line x1="418" y1="218.25" x2="426.2" y2="218.25" stroke="#ffffff" stroke-width="0.3" stroke-opacity="0.22"/>
<line x1="418" y1="220.23" x2="426.2" y2="220.23" stroke="#ffffff" stroke-width="0.3" stroke-opacity="0.22"/>
<line x1="418" y1="221.62" x2="426.2" y2="221.62" stroke="#ffffff" stroke-width="0.3" stroke-opacity="0.22"/>
<line x1="422.1" y1="232" x2="422.1" y2="233.6" stroke="#555" stroke-width="1.1"/>
<text x="422.9" y="242.6" font-size="8.5" text-anchor="middle" fill="#363636">8</text>
<rect x="427.1" y="180" width="8.2" height="3.9" fill="#7e2319"/>
<rect x="427.1" y="183.9" width="8.2" height="22" fill="#aa4f2b"/>
<rect x="427.1" y="205.9" width="8.2" height="0.53" fill="#c46e39"/>
<rect x="427.1" y="206.43" width="8.2" height="1.33" fill="#d28f43"/>
<rect x="427.1" y="207.76" width="8.2" height="0.91" fill="#e0a956"/>
<rect x="427.1" y="208.67" width="8.2" height="0.74" fill="#d3b264"/>
<rect x="427.1" y="209.4" width="8.2" height="7.7" fill="#7b7b42"/>
<rect x="427.1" y="217.1" width="8.2" height="1.08" fill="#4d6a4a"/>
<rect x="427.1" y="218.18" width="8.2" height="1.35" fill="#2f5d57"/>
<rect x="427.1" y="219.53" width="8.2" height="1.35" fill="#4a8791"/>
<rect x="427.1" y="220.88" width="8.2" height="0.96" fill="#3c7699"/>
<rect x="427.1" y="221.84" width="8.2" height="0.46" fill="#1c4a72"/>
<line x1="427.1" y1="183.9" x2="435.3" y2="183.9" stroke="#ffffff" stroke-width="0.3" stroke-opacity="0.22"/>
<line x1="427.1" y1="206.43" x2="435.3" y2="206.43" stroke="#ffffff" stroke-width="0.3" stroke-opacity="0.22"/>
<line x1="427.1" y1="207.76" x2="435.3" y2="207.76" stroke="#ffffff" stroke-width="0.3" stroke-opacity="0.22"/>
<line x1="427.1" y1="208.67" x2="435.3" y2="208.67" stroke="#ffffff" stroke-width="0.3" stroke-opacity="0.22"/>
<line x1="427.1" y1="209.4" x2="435.3" y2="209.4" stroke="#ffffff" stroke-width="0.3" stroke-opacity="0.22"/>
<line x1="427.1" y1="217.1" x2="435.3" y2="217.1" stroke="#ffffff" stroke-width="0.3" stroke-opacity="0.22"/>
<line x1="427.1" y1="218.18" x2="435.3" y2="218.18" stroke="#ffffff" stroke-width="0.3" stroke-opacity="0.22"/>
<line x1="427.1" y1="219.53" x2="435.3" y2="219.53" stroke="#ffffff" stroke-width="0.3" stroke-opacity="0.22"/>
<line x1="427.1" y1="220.88" x2="435.3" y2="220.88" stroke="#ffffff" stroke-width="0.3" stroke-opacity="0.22"/>
<line x1="431.2" y1="232" x2="431.2" y2="233.6" stroke="#555" stroke-width="1.1"/>
<text x="432" y="242.6" font-size="8.5" text-anchor="middle" fill="#363636">9</text>
<rect x="436.2" y="182.8" width="8.2" height="3.7" fill="#7e2319"/>
<rect x="436.2" y="186.5" width="8.2" height="20.3" fill="#aa4f2b"/>
<rect x="436.2" y="206.8" width="8.2" height="0.5" fill="#c46e39"/>
<rect x="436.2" y="207.3" width="8.2" height="1.25" fill="#d28f43"/>
<rect x="436.2" y="208.55" width="8.2" height="0.86" fill="#e0a956"/>
<rect x="436.2" y="209.41" width="8.2" height="0.69" fill="#d3b264"/>
<rect x="436.2" y="210.1" width="8.2" height="7.2" fill="#7b7b42"/>
<rect x="436.2" y="217.3" width="8.2" height="1.03" fill="#4d6a4a"/>
<rect x="436.2" y="218.34" width="8.2" height="1.3" fill="#2f5d57"/>
<rect x="436.2" y="219.64" width="8.2" height="1.3" fill="#4a8791"/>
<rect x="436.2" y="220.94" width="8.2" height="0.92" fill="#3c7699"/>
<rect x="436.2" y="221.86" width="8.2" height="0.44" fill="#1c4a72"/>
<line x1="436.2" y1="186.5" x2="444.4" y2="186.5" stroke="#ffffff" stroke-width="0.3" stroke-opacity="0.22"/>
<line x1="436.2" y1="207.3" x2="444.4" y2="207.3" stroke="#ffffff" stroke-width="0.3" stroke-opacity="0.22"/>
<line x1="436.2" y1="208.55" x2="444.4" y2="208.55" stroke="#ffffff" stroke-width="0.3" stroke-opacity="0.22"/>
<line x1="436.2" y1="209.41" x2="444.4" y2="209.41" stroke="#ffffff" stroke-width="0.3" stroke-opacity="0.22"/>
<line x1="436.2" y1="210.1" x2="444.4" y2="210.1" stroke="#ffffff" stroke-width="0.3" stroke-opacity="0.22"/>
<line x1="436.2" y1="217.3" x2="444.4" y2="217.3" stroke="#ffffff" stroke-width="0.3" stroke-opacity="0.22"/>
<line x1="436.2" y1="218.34" x2="444.4" y2="218.34" stroke="#ffffff" stroke-width="0.3" stroke-opacity="0.22"/>
<line x1="436.2" y1="219.64" x2="444.4" y2="219.64" stroke="#ffffff" stroke-width="0.3" stroke-opacity="0.22"/>
<line x1="436.2" y1="220.94" x2="444.4" y2="220.94" stroke="#ffffff" stroke-width="0.3" stroke-opacity="0.22"/>
<line x1="440.3" y1="232" x2="440.3" y2="233.6" stroke="#555" stroke-width="1.1"/>
<text x="441.1" y="242.6" font-size="8.5" text-anchor="middle" fill="#363636">10</text>
<rect x="445.3" y="185.8" width="8.2" height="3.3" fill="#7e2319"/>
<rect x="445.3" y="189.1" width="8.2" height="18.9" fill="#aa4f2b"/>
<rect x="445.3" y="208" width="8.2" height="0.45" fill="#c46e39"/>
<rect x="445.3" y="208.45" width="8.2" height="1.14" fill="#d28f43"/>
<rect x="445.3" y="209.59" width="8.2" height="0.78" fill="#e0a956"/>
<rect x="445.3" y="210.37" width="8.2" height="0.63" fill="#d3b264"/>
<rect x="445.3" y="211" width="8.2" height="6.6" fill="#7b7b42"/>
<rect x="445.3" y="217.6" width="8.2" height="0.97" fill="#4d6a4a"/>
<rect x="445.3" y="218.57" width="8.2" height="1.22" fill="#2f5d57"/>
<rect x="445.3" y="219.79" width="8.2" height="1.22" fill="#4a8791"/>
<rect x="445.3" y="221.02" width="8.2" height="0.86" fill="#3c7699"/>
<rect x="445.3" y="221.88" width="8.2" height="0.42" fill="#1c4a72"/>
<line x1="445.3" y1="189.1" x2="453.5" y2="189.1" stroke="#ffffff" stroke-width="0.3" stroke-opacity="0.22"/>
<line x1="445.3" y1="208.45" x2="453.5" y2="208.45" stroke="#ffffff" stroke-width="0.3" stroke-opacity="0.22"/>
<line x1="445.3" y1="209.59" x2="453.5" y2="209.59" stroke="#ffffff" stroke-width="0.3" stroke-opacity="0.22"/>
<line x1="445.3" y1="210.37" x2="453.5" y2="210.37" stroke="#ffffff" stroke-width="0.3" stroke-opacity="0.22"/>
<line x1="445.3" y1="211" x2="453.5" y2="211" stroke="#ffffff" stroke-width="0.3" stroke-opacity="0.22"/>
<line x1="445.3" y1="217.6" x2="453.5" y2="217.6" stroke="#ffffff" stroke-width="0.3" stroke-opacity="0.22"/>
<line x1="445.3" y1="218.57" x2="453.5" y2="218.57" stroke="#ffffff" stroke-width="0.3" stroke-opacity="0.22"/>
<line x1="445.3" y1="219.79" x2="453.5" y2="219.79" stroke="#ffffff" stroke-width="0.3" stroke-opacity="0.22"/>
<line x1="445.3" y1="221.02" x2="453.5" y2="221.02" stroke="#ffffff" stroke-width="0.3" stroke-opacity="0.22"/>
<line x1="449.4" y1="232" x2="449.4" y2="233.6" stroke="#555" stroke-width="1.1"/>
<text x="450.2" y="242.6" font-size="8.5" text-anchor="middle" fill="#363636">11</text>
<rect x="454.4" y="191" width="8.2" height="2.7" fill="#7e2319"/>
<rect x="454.4" y="193.7" width="8.2" height="16.4" fill="#aa4f2b"/>
<rect x="454.4" y="210.1" width="8.2" height="0.41" fill="#c46e39"/>
<rect x="454.4" y="210.5" width="8.2" height="1.03" fill="#d28f43"/>
<rect x="454.4" y="211.53" width="8.2" height="0.7" fill="#e0a956"/>
<rect x="454.4" y="212.23" width="8.2" height="0.57" fill="#d3b264"/>
<rect x="454.4" y="212.8" width="8.2" height="5.7" fill="#7b7b42"/>
<rect x="454.4" y="218.5" width="8.2" height="0.79" fill="#4d6a4a"/>
<rect x="454.4" y="219.29" width="8.2" height="0.99" fill="#2f5d57"/>
<rect x="454.4" y="220.27" width="8.2" height="0.99" fill="#4a8791"/>
<rect x="454.4" y="221.26" width="8.2" height="0.7" fill="#3c7699"/>
<rect x="454.4" y="221.96" width="8.2" height="0.34" fill="#1c4a72"/>
<line x1="454.4" y1="193.7" x2="462.6" y2="193.7" stroke="#ffffff" stroke-width="0.3" stroke-opacity="0.22"/>
<line x1="454.4" y1="210.5" x2="462.6" y2="210.5" stroke="#ffffff" stroke-width="0.3" stroke-opacity="0.22"/>
<line x1="454.4" y1="211.53" x2="462.6" y2="211.53" stroke="#ffffff" stroke-width="0.3" stroke-opacity="0.22"/>
<line x1="454.4" y1="212.8" x2="462.6" y2="212.8" stroke="#ffffff" stroke-width="0.3" stroke-opacity="0.22"/>
<line x1="454.4" y1="218.5" x2="462.6" y2="218.5" stroke="#ffffff" stroke-width="0.3" stroke-opacity="0.22"/>
<line x1="454.4" y1="219.29" x2="462.6" y2="219.29" stroke="#ffffff" stroke-width="0.3" stroke-opacity="0.22"/>
<line x1="454.4" y1="220.27" x2="462.6" y2="220.27" stroke="#ffffff" stroke-width="0.3" stroke-opacity="0.22"/>
<line x1="454.4" y1="221.26" x2="462.6" y2="221.26" stroke="#ffffff" stroke-width="0.3" stroke-opacity="0.22"/>
<line x1="458.5" y1="232" x2="458.5" y2="233.6" stroke="#555" stroke-width="1.1"/>
<text x="459.3" y="242.6" font-size="8.5" text-anchor="middle" fill="#363636">12</text>
<rect x="463.5" y="198" width="8.2" height="2.2" fill="#7e2319"/>
<rect x="463.5" y="200.2" width="8.2" height="12.7" fill="#aa4f2b"/>
<rect x="463.5" y="212.9" width="8.2" height="0.27" fill="#c46e39"/>
<rect x="463.5" y="213.17" width="8.2" height="0.68" fill="#d28f43"/>
<rect x="463.5" y="213.85" width="8.2" height="0.47" fill="#e0a956"/>
<rect x="463.5" y="214.32" width="8.2" height="0.38" fill="#d3b264"/>
<rect x="463.5" y="214.7" width="8.2" height="4.7" fill="#7b7b42"/>
<rect x="463.5" y="219.4" width="8.2" height="0.6" fill="#4d6a4a"/>
<rect x="463.5" y="220" width="8.2" height="0.75" fill="#2f5d57"/>
<rect x="463.5" y="220.75" width="8.2" height="0.75" fill="#4a8791"/>
<rect x="463.5" y="221.51" width="8.2" height="0.53" fill="#3c7699"/>
<rect x="463.5" y="222.04" width="8.2" height="0.26" fill="#1c4a72"/>
<line x1="463.5" y1="200.2" x2="471.7" y2="200.2" stroke="#ffffff" stroke-width="0.3" stroke-opacity="0.22"/>
<line x1="463.5" y1="213.17" x2="471.7" y2="213.17" stroke="#ffffff" stroke-width="0.3" stroke-opacity="0.22"/>
<line x1="463.5" y1="214.7" x2="471.7" y2="214.7" stroke="#ffffff" stroke-width="0.3" stroke-opacity="0.22"/>
<line x1="463.5" y1="219.4" x2="471.7" y2="219.4" stroke="#ffffff" stroke-width="0.3" stroke-opacity="0.22"/>
<line x1="463.5" y1="220" x2="471.7" y2="220" stroke="#ffffff" stroke-width="0.3" stroke-opacity="0.22"/>
<line x1="463.5" y1="220.75" x2="471.7" y2="220.75" stroke="#ffffff" stroke-width="0.3" stroke-opacity="0.22"/>
<line x1="467.6" y1="232" x2="467.6" y2="233.6" stroke="#555" stroke-width="1.1"/>
<text x="468.4" y="242.6" font-size="8.5" text-anchor="middle" fill="#363636">13</text>
<rect x="472.6" y="216.1" width="8.2" height="0.7" fill="#7e2319"/>
<rect x="472.6" y="216.8" width="8.2" height="2.9" fill="#aa4f2b"/>
<rect x="472.6" y="219.7" width="8.2" height="0.09" fill="#c46e39"/>
<rect x="472.6" y="219.79" width="8.2" height="0.23" fill="#d28f43"/>
<rect x="472.6" y="220.02" width="8.2" height="0.16" fill="#e0a956"/>
<rect x="472.6" y="220.17" width="8.2" height="0.13" fill="#d3b264"/>
<rect x="472.6" y="220.3" width="8.2" height="1" fill="#7b7b42"/>
<rect x="472.6" y="221.3" width="8.2" height="0.21" fill="#4d6a4a"/>
<rect x="472.6" y="221.51" width="8.2" height="0.26" fill="#2f5d57"/>
<rect x="472.6" y="221.77" width="8.2" height="0.26" fill="#4a8791"/>
<rect x="472.6" y="222.03" width="8.2" height="0.18" fill="#3c7699"/>
<rect x="472.6" y="222.21" width="8.2" height="0.09" fill="#1c4a72"/>
<line x1="472.6" y1="216.8" x2="480.8" y2="216.8" stroke="#ffffff" stroke-width="0.3" stroke-opacity="0.22"/>
<line x1="472.6" y1="220.3" x2="480.8" y2="220.3" stroke="#ffffff" stroke-width="0.3" stroke-opacity="0.22"/>
<line x1="476.7" y1="232" x2="476.7" y2="233.6" stroke="#555" stroke-width="1.1"/>
<text x="477.5" y="242.6" font-size="8.5" text-anchor="middle" fill="#363636">14</text>
<rect x="481.7" y="219" width="8.2" height="0.4" fill="#7e2319"/>
<rect x="481.7" y="219.4" width="8.2" height="1.4" fill="#aa4f2b"/>
<rect x="481.7" y="220.8" width="8.2" height="0.06" fill="#c46e39"/>
<rect x="481.7" y="220.86" width="8.2" height="0.15" fill="#d28f43"/>
<rect x="481.7" y="221.01" width="8.2" height="0.1" fill="#e0a956"/>
<rect x="481.7" y="221.12" width="8.2" height="0.08" fill="#d3b264"/>
<rect x="481.7" y="221.2" width="8.2" height="0.6" fill="#7b7b42"/>
<rect x="481.7" y="221.8" width="8.2" height="0.1" fill="#4d6a4a"/>
<rect x="481.7" y="221.9" width="8.2" height="0.13" fill="#2f5d57"/>
<rect x="481.7" y="222.03" width="8.2" height="0.13" fill="#4a8791"/>
<rect x="481.7" y="222.16" width="8.2" height="0.09" fill="#3c7699"/>
<rect x="481.7" y="222.26" width="8.2" height="0.04" fill="#1c4a72"/>
<line x1="481.7" y1="219.4" x2="489.9" y2="219.4" stroke="#ffffff" stroke-width="0.3" stroke-opacity="0.22"/>
<line x1="481.7" y1="221.2" x2="489.9" y2="221.2" stroke="#ffffff" stroke-width="0.3" stroke-opacity="0.22"/>
<line x1="485.8" y1="232" x2="485.8" y2="233.6" stroke="#555" stroke-width="1.1"/>
<text x="486.6" y="242.6" font-size="8.5" text-anchor="middle" fill="#363636">15</text>
<rect x="490.8" y="221.9" width="8.2" height="0.1" fill="#7e2319"/>
<rect x="490.8" y="222" width="8.2" height="0.1" fill="#aa4f2b"/>
<rect x="490.8" y="222.1" width="8.2" height="0.01" fill="#c46e39"/>
<rect x="490.8" y="222.11" width="8.2" height="0.04" fill="#d28f43"/>
<rect x="490.8" y="222.15" width="8.2" height="0.03" fill="#e0a956"/>
<rect x="490.8" y="222.18" width="8.2" height="0.02" fill="#d3b264"/>
<rect x="490.8" y="222.2" width="8.2" height="0.05" fill="#7b7b42"/>
<rect x="490.8" y="222.25" width="8.2" height="0.01" fill="#4d6a4a"/>
<rect x="490.8" y="222.26" width="8.2" height="0.01" fill="#2f5d57"/>
<rect x="490.8" y="222.27" width="8.2" height="0.01" fill="#4a8791"/>
<line x1="494.9" y1="232" x2="494.9" y2="233.6" stroke="#555" stroke-width="1.1"/>
<text x="495.7" y="242.6" font-size="8.5" text-anchor="middle" fill="#363636">16</text>
<rect x="499.9" y="218.2" width="8.2" height="0.6" fill="#7e2319"/>
<rect x="499.9" y="218.8" width="8.2" height="1.7" fill="#aa4f2b"/>
<rect x="499.9" y="220.5" width="8.2" height="0.07" fill="#c46e39"/>
<rect x="499.9" y="220.57" width="8.2" height="0.19" fill="#d28f43"/>
<rect x="499.9" y="220.76" width="8.2" height="0.13" fill="#e0a956"/>
<rect x="499.9" y="220.89" width="8.2" height="0.1" fill="#d3b264"/>
<rect x="499.9" y="221" width="8.2" height="0.7" fill="#7b7b42"/>
<rect x="499.9" y="221.7" width="8.2" height="0.12" fill="#4d6a4a"/>
<rect x="499.9" y="221.82" width="8.2" height="0.16" fill="#2f5d57"/>
<rect x="499.9" y="221.98" width="8.2" height="0.16" fill="#4a8791"/>
<rect x="499.9" y="222.14" width="8.2" height="0.11" fill="#3c7699"/>
<rect x="499.9" y="222.25" width="8.2" height="0.05" fill="#1c4a72"/>
<line x1="499.9" y1="218.8" x2="508.1" y2="218.8" stroke="#ffffff" stroke-width="0.3" stroke-opacity="0.22"/>
<line x1="499.9" y1="221" x2="508.1" y2="221" stroke="#ffffff" stroke-width="0.3" stroke-opacity="0.22"/>
<line x1="504" y1="232" x2="504" y2="233.6" stroke="#555" stroke-width="1.1"/>
<text x="504.8" y="242.6" font-size="8.5" text-anchor="middle" fill="#363636">17</text>
<rect x="509" y="221.2" width="8.2" height="0.2" fill="#7e2319"/>
<rect x="509" y="221.4" width="8.2" height="0.5" fill="#aa4f2b"/>
<rect x="509" y="221.9" width="8.2" height="0.01" fill="#c46e39"/>
<rect x="509" y="221.91" width="8.2" height="0.04" fill="#d28f43"/>
<rect x="509" y="221.95" width="8.2" height="0.03" fill="#e0a956"/>
<rect x="509" y="221.98" width="8.2" height="0.02" fill="#d3b264"/>
<rect x="509" y="222" width="8.2" height="0.2" fill="#7b7b42"/>
<rect x="509" y="222.2" width="8.2" height="0.02" fill="#4d6a4a"/>
<rect x="509" y="222.22" width="8.2" height="0.03" fill="#2f5d57"/>
<rect x="509" y="222.25" width="8.2" height="0.03" fill="#4a8791"/>
<rect x="509" y="222.27" width="8.2" height="0.02" fill="#3c7699"/>
<line x1="513.1" y1="232" x2="513.1" y2="233.6" stroke="#555" stroke-width="1.1"/>
<text x="513.9" y="242.6" font-size="8.5" text-anchor="middle" fill="#363636">18</text>
<rect x="518.1" y="219.7" width="8.2" height="0.3" fill="#7e2319"/>
<rect x="518.1" y="220" width="8.2" height="1" fill="#aa4f2b"/>
<rect x="518.1" y="221" width="8.2" height="0.06" fill="#c46e39"/>
<rect x="518.1" y="221.06" width="8.2" height="0.15" fill="#d28f43"/>
<rect x="518.1" y="221.21" width="8.2" height="0.1" fill="#e0a956"/>
<rect x="518.1" y="221.32" width="8.2" height="0.08" fill="#d3b264"/>
<rect x="518.1" y="221.4" width="8.2" height="0.5" fill="#7b7b42"/>
<rect x="518.1" y="221.9" width="8.2" height="0.08" fill="#4d6a4a"/>
<rect x="518.1" y="221.98" width="8.2" height="0.1" fill="#2f5d57"/>
<rect x="518.1" y="222.09" width="8.2" height="0.1" fill="#4a8791"/>
<rect x="518.1" y="222.19" width="8.2" height="0.07" fill="#3c7699"/>
<rect x="518.1" y="222.26" width="8.2" height="0.04" fill="#1c4a72"/>
<line x1="518.1" y1="220" x2="526.3" y2="220" stroke="#ffffff" stroke-width="0.3" stroke-opacity="0.22"/>
<line x1="522.2" y1="232" x2="522.2" y2="233.6" stroke="#555" stroke-width="1.1"/>
<text x="523" y="242.6" font-size="8.5" text-anchor="middle" fill="#363636">19</text>
<rect x="527.2" y="217.5" width="8.2" height="0.6" fill="#7e2319"/>
<rect x="527.2" y="218.1" width="8.2" height="1.9" fill="#aa4f2b"/>
<rect x="527.2" y="220" width="8.2" height="0.09" fill="#c46e39"/>
<rect x="527.2" y="220.09" width="8.2" height="0.23" fill="#d28f43"/>
<rect x="527.2" y="220.32" width="8.2" height="0.16" fill="#e0a956"/>
<rect x="527.2" y="220.47" width="8.2" height="0.13" fill="#d3b264"/>
<rect x="527.2" y="220.6" width="8.2" height="0.9" fill="#7b7b42"/>
<rect x="527.2" y="221.5" width="8.2" height="0.17" fill="#4d6a4a"/>
<rect x="527.2" y="221.67" width="8.2" height="0.21" fill="#2f5d57"/>
<rect x="527.2" y="221.87" width="8.2" height="0.21" fill="#4a8791"/>
<rect x="527.2" y="222.08" width="8.2" height="0.15" fill="#3c7699"/>
<rect x="527.2" y="222.23" width="8.2" height="0.07" fill="#1c4a72"/>
<line x1="527.2" y1="218.1" x2="535.4" y2="218.1" stroke="#ffffff" stroke-width="0.3" stroke-opacity="0.22"/>
<line x1="527.2" y1="220.6" x2="535.4" y2="220.6" stroke="#ffffff" stroke-width="0.3" stroke-opacity="0.22"/>
<line x1="531.3" y1="232" x2="531.3" y2="233.6" stroke="#555" stroke-width="1.1"/>
<text x="532.1" y="242.6" font-size="8.5" text-anchor="middle" fill="#363636">20</text>
<rect x="536.3" y="219.1" width="8.2" height="0.4" fill="#7e2319"/>
<rect x="536.3" y="219.5" width="8.2" height="1.2" fill="#aa4f2b"/>
<rect x="536.3" y="220.7" width="8.2" height="0.06" fill="#c46e39"/>
<rect x="536.3" y="220.76" width="8.2" height="0.15" fill="#d28f43"/>
<rect x="536.3" y="220.91" width="8.2" height="0.1" fill="#e0a956"/>
<rect x="536.3" y="221.02" width="8.2" height="0.08" fill="#d3b264"/>
<rect x="536.3" y="221.1" width="8.2" height="0.7" fill="#7b7b42"/>
<rect x="536.3" y="221.8" width="8.2" height="0.1" fill="#4d6a4a"/>
<rect x="536.3" y="221.9" width="8.2" height="0.13" fill="#2f5d57"/>
<rect x="536.3" y="222.03" width="8.2" height="0.13" fill="#4a8791"/>
<rect x="536.3" y="222.16" width="8.2" height="0.09" fill="#3c7699"/>
<rect x="536.3" y="222.26" width="8.2" height="0.04" fill="#1c4a72"/>
<line x1="536.3" y1="219.5" x2="544.5" y2="219.5" stroke="#ffffff" stroke-width="0.3" stroke-opacity="0.22"/>
<line x1="536.3" y1="221.1" x2="544.5" y2="221.1" stroke="#ffffff" stroke-width="0.3" stroke-opacity="0.22"/>
<line x1="540.4" y1="232" x2="540.4" y2="233.6" stroke="#555" stroke-width="1.1"/>
<text x="541.2" y="242.6" font-size="8.5" text-anchor="middle" fill="#363636">21</text>
<line x1="348" y1="222.3" x2="352.7" y2="222.3" stroke="#555" stroke-width="1.1"/>
<text x="345.7" y="225.5" font-size="12.6" text-anchor="end" fill="#363636">0</text>
<line x1="348" y1="173.2" x2="352.7" y2="173.2" stroke="#555" stroke-width="1.1"/>
<text x="345.7" y="178.6" font-size="12.6" text-anchor="end" fill="#363636">0.5</text>
<line x1="348" y1="124.1" x2="352.7" y2="124.1" stroke="#555" stroke-width="1.1"/>
<text x="345.7" y="129.9" font-size="12.6" text-anchor="end" fill="#363636">1</text>
<line x1="348" y1="75" x2="352.7" y2="75" stroke="#555" stroke-width="1.1"/>
<text x="345.7" y="80.4" font-size="12.6" text-anchor="end" fill="#363636">1.5</text>
<line x1="348" y1="25.9" x2="352.7" y2="25.9" stroke="#555" stroke-width="1.1"/>
<text x="345.7" y="31.4" font-size="12.6" text-anchor="end" fill="#363636">2</text>
<text x="321.6" y="128.3" font-size="12" text-anchor="middle" fill="#1a1a1a" transform="rotate(-90 321.6 128.3)">High quality CNV calls (1000s)</text>
<rect x="355.8" y="245.6" width="116.4" height="7.8" fill="none" stroke="#bdbdbd" stroke-width="0.8"/>
<rect x="473.4" y="245.6" width="72.1" height="7.8" fill="none" stroke="#bdbdbd" stroke-width="0.8"/>
<text x="410.5" y="252.2" font-size="9.5" text-anchor="middle" fill="#333">core</text>
<text x="515" y="252.2" font-size="9.5" text-anchor="middle" fill="#333">accessory</text>
<text x="454" y="269.2" font-size="12" text-anchor="middle" fill="#1a1a1a">Chromosome</text>
<text x="578.2" y="29.8" font-size="12" text-anchor="start" fill="#1a1a1a">Genetic cluster</text>
<rect x="578.2" y="37.2" width="15.5" height="14.8" fill="#7e2319"/>
<text x="599.6" y="47.3" font-size="9.6" text-anchor="start" fill="#222">admixed</text>
<rect x="578.2" y="53.5" width="15.5" height="14.8" fill="#aa4f2b"/>
<text x="599.6" y="63.6" font-size="9.6" text-anchor="start" fill="#222">Europe</text>
<rect x="578.2" y="69.8" width="15.5" height="14.8" fill="#c46e39"/>
<text x="599.6" y="79.9" font-size="9.6" text-anchor="start" fill="#222">MEA − Iran</text>
<rect x="578.2" y="86.1" width="15.5" height="14.8" fill="#d28f43"/>
<text x="599.6" y="96.2" font-size="9.6" text-anchor="start" fill="#222">MEA − Israel</text>
<rect x="578.2" y="102.4" width="15.5" height="14.8" fill="#e0a956"/>
<text x="599.6" y="112.5" font-size="9.6" text-anchor="start" fill="#222">MEA − North−Africa</text>
<rect x="578.2" y="118.7" width="15.5" height="14.8" fill="#d3b264"/>
<text x="599.6" y="128.8" font-size="9.6" text-anchor="start" fill="#222">NA −North</text>
<rect x="578.2" y="135" width="15.5" height="14.8" fill="#7b7b42"/>
<text x="599.6" y="145.1" font-size="9.6" text-anchor="start" fill="#222">NA− USA</text>
<rect x="578.2" y="151.3" width="15.5" height="14.8" fill="#4d6a4a"/>
<text x="599.6" y="161.4" font-size="9.6" text-anchor="start" fill="#222">OC − New Zealand</text>
<rect x="578.2" y="167.6" width="15.5" height="14.8" fill="#2f5d57"/>
<text x="599.6" y="177.7" font-size="9.6" text-anchor="start" fill="#222">OC − Tasmania</text>
<rect x="578.2" y="183.9" width="15.5" height="14.8" fill="#4a8791"/>
<text x="599.6" y="194" font-size="9.6" text-anchor="start" fill="#222">OC −Australia</text>
<rect x="578.2" y="200.2" width="15.5" height="14.8" fill="#3c7699"/>
<text x="599.6" y="210.3" font-size="9.6" text-anchor="start" fill="#222">SA − East</text>
<rect x="578.2" y="216.5" width="15.5" height="14.8" fill="#1c4a72"/>
<text x="599.6" y="226.6" font-size="9.6" text-anchor="start" fill="#222">SA − West</text>
<rect x="110.3" y="305.3" width="72" height="135.8" fill="none" stroke="#c8c8c8" stroke-width="0.9"/>
<rect x="185.4" y="305.3" width="68.3" height="135.8" fill="none" stroke="#c8c8c8" stroke-width="0.9"/>
<rect x="114.1" y="306.4" width="29.8" height="7.4" fill="#aa9f35"/>
<rect x="114.1" y="306.4" width="3.7" height="7.4" fill="#608a8b"/>
<rect x="188.3" y="306.4" width="20.29" height="7.4" fill="#aa9f35"/>
<rect x="188.3" y="306.4" width="11.41" height="7.4" fill="#d4d5d7"/>
<rect x="188.3" y="306.4" width="6.34" height="7.4" fill="#608a8b"/>
<rect x="114.1" y="314.8" width="29.4" height="7.4" fill="#aa9f35"/>
<rect x="114.1" y="314.8" width="3.2" height="7.4" fill="#608a8b"/>
<rect x="188.3" y="314.8" width="20.29" height="7.4" fill="#aa9f35"/>
<rect x="188.3" y="314.8" width="15.22" height="7.4" fill="#d4d5d7"/>
<line x1="108.2" y1="314.4" x2="110.3" y2="314.4" stroke="#555" stroke-width="0.8"/>
<text x="105.2" y="315.4" font-size="9.5" text-anchor="end" fill="#333">France.1</text>
<rect x="114.1" y="325.67" width="31.8" height="7.4" fill="#aa9f35"/>
<rect x="114.1" y="325.67" width="4.1" height="7.4" fill="#608a8b"/>
<rect x="188.3" y="325.67" width="20.29" height="7.4" fill="#aa9f35"/>
<rect x="188.3" y="325.67" width="10.14" height="7.4" fill="#d4d5d7"/>
<rect x="188.3" y="325.67" width="1.27" height="7.4" fill="#608a8b"/>
<rect x="114.1" y="334.07" width="31.8" height="7.4" fill="#aa9f35"/>
<rect x="114.1" y="334.07" width="4.3" height="7.4" fill="#608a8b"/>
<rect x="188.3" y="334.07" width="20.29" height="7.4" fill="#aa9f35"/>
<rect x="188.3" y="334.07" width="12.68" height="7.4" fill="#d4d5d7"/>
<rect x="188.3" y="334.07" width="2.54" height="7.4" fill="#608a8b"/>
<line x1="108.2" y1="333.67" x2="110.3" y2="333.67" stroke="#555" stroke-width="0.8"/>
<text x="105.2" y="334.67" font-size="9.5" text-anchor="end" fill="#333">France.2</text>
<rect x="114.1" y="344.94" width="66.8" height="7.4" fill="#aa9f35"/>
<rect x="114.1" y="344.94" width="2.6" height="7.4" fill="#608a8b"/>
<rect x="188.3" y="344.94" width="62.13" height="7.4" fill="#aa9f35"/>
<rect x="188.3" y="344.94" width="17.75" height="7.4" fill="#d4d5d7"/>
<rect x="188.3" y="344.94" width="5.07" height="7.4" fill="#608a8b"/>
<rect x="114.1" y="353.34" width="64.7" height="7.4" fill="#aa9f35"/>
<rect x="114.1" y="353.34" width="3.2" height="7.4" fill="#608a8b"/>
<rect x="188.3" y="353.34" width="60.23" height="7.4" fill="#aa9f35"/>
<rect x="188.3" y="353.34" width="55.79" height="7.4" fill="#d4d5d7"/>
<rect x="188.3" y="353.34" width="12.68" height="7.4" fill="#608a8b"/>
<line x1="108.2" y1="352.94" x2="110.3" y2="352.94" stroke="#555" stroke-width="0.8"/>
<text x="105.2" y="353.94" font-size="9.5" text-anchor="end" fill="#333">Iran</text>
<rect x="114.1" y="364.21" width="38.8" height="7.4" fill="#aa9f35"/>
<rect x="114.1" y="364.21" width="2.9" height="7.4" fill="#608a8b"/>
<rect x="188.3" y="364.21" width="38.04" height="7.4" fill="#aa9f35"/>
<rect x="188.3" y="364.21" width="26.63" height="7.4" fill="#d4d5d7"/>
<rect x="188.3" y="364.21" width="12.68" height="7.4" fill="#608a8b"/>
<rect x="114.1" y="372.61" width="38.2" height="7.4" fill="#aa9f35"/>
<rect x="114.1" y="372.61" width="2" height="7.4" fill="#608a8b"/>
<rect x="188.3" y="372.61" width="36.77" height="7.4" fill="#aa9f35"/>
<rect x="188.3" y="372.61" width="24.09" height="7.4" fill="#d4d5d7"/>
<rect x="188.3" y="372.61" width="2.54" height="7.4" fill="#608a8b"/>
<line x1="108.2" y1="372.21" x2="110.3" y2="372.21" stroke="#555" stroke-width="0.8"/>
<text x="105.2" y="373.21" font-size="9.5" text-anchor="end" fill="#333">Kenya.1</text>
<rect x="114.1" y="383.48" width="30.6" height="7.4" fill="#aa9f35"/>
<rect x="114.1" y="383.48" width="3.7" height="7.4" fill="#608a8b"/>
<rect x="188.3" y="383.48" width="36.77" height="7.4" fill="#aa9f35"/>
<rect x="188.3" y="383.48" width="27.9" height="7.4" fill="#d4d5d7"/>
<rect x="188.3" y="383.48" width="8.88" height="7.4" fill="#608a8b"/>
<rect x="114.1" y="391.88" width="30.8" height="7.4" fill="#aa9f35"/>
<rect x="114.1" y="391.88" width="3.7" height="7.4" fill="#608a8b"/>
<rect x="188.3" y="391.88" width="35.5" height="7.4" fill="#aa9f35"/>
<rect x="188.3" y="391.88" width="21.56" height="7.4" fill="#d4d5d7"/>
<rect x="188.3" y="391.88" width="7.61" height="7.4" fill="#608a8b"/>
<line x1="108.2" y1="391.48" x2="110.3" y2="391.48" stroke="#555" stroke-width="0.8"/>
<text x="105.2" y="392.48" font-size="9.5" text-anchor="end" fill="#333">Kenya.2</text>
<rect x="114.1" y="402.75" width="61.3" height="7.4" fill="#aa9f35"/>
<rect x="114.1" y="402.75" width="3.5" height="7.4" fill="#608a8b"/>
<rect x="188.3" y="402.75" width="54.52" height="7.4" fill="#aa9f35"/>
<rect x="188.3" y="402.75" width="43.11" height="7.4" fill="#d4d5d7"/>
<rect x="188.3" y="402.75" width="17.75" height="7.4" fill="#608a8b"/>
<rect x="114.1" y="411.15" width="61" height="7.4" fill="#aa9f35"/>
<rect x="114.1" y="411.15" width="2.2" height="7.4" fill="#608a8b"/>
<rect x="188.3" y="411.15" width="55.79" height="7.4" fill="#aa9f35"/>
<rect x="188.3" y="411.15" width="31.7" height="7.4" fill="#d4d5d7"/>
<rect x="188.3" y="411.15" width="3.8" height="7.4" fill="#608a8b"/>
<line x1="108.2" y1="410.75" x2="110.3" y2="410.75" stroke="#555" stroke-width="0.8"/>
<text x="105.2" y="411.75" font-size="9.5" text-anchor="end" fill="#333">Turkey</text>
<rect x="114.1" y="422.02" width="48.5" height="7.4" fill="#aa9f35"/>
<rect x="114.1" y="422.02" width="2.6" height="7.4" fill="#608a8b"/>
<rect x="188.3" y="422.02" width="55.79" height="7.4" fill="#aa9f35"/>
<rect x="188.3" y="422.02" width="39.31" height="7.4" fill="#d4d5d7"/>
<rect x="188.3" y="422.02" width="12.68" height="7.4" fill="#608a8b"/>
<rect x="114.1" y="430.42" width="48.5" height="7.4" fill="#aa9f35"/>
<rect x="114.1" y="430.42" width="1.8" height="7.4" fill="#608a8b"/>
<rect x="188.3" y="430.42" width="55.79" height="7.4" fill="#aa9f35"/>
<rect x="188.3" y="430.42" width="31.7" height="7.4" fill="#d4d5d7"/>
<rect x="188.3" y="430.42" width="7.61" height="7.4" fill="#608a8b"/>
<line x1="108.2" y1="430.02" x2="110.3" y2="430.02" stroke="#555" stroke-width="0.8"/>
<text x="105.2" y="431.02" font-size="9.5" text-anchor="end" fill="#333">Ukraine</text>
<line x1="114.1" y1="304" x2="114.1" y2="305.3" stroke="#555" stroke-width="0.8"/>
<text x="114.4" y="302.8" font-size="8.6" text-anchor="middle" fill="#363636">0</text>
<line x1="132.8" y1="304" x2="132.8" y2="305.3" stroke="#555" stroke-width="0.8"/>
<text x="133.1" y="302.8" font-size="8.6" text-anchor="middle" fill="#363636">200</text>
<line x1="151.5" y1="304" x2="151.5" y2="305.3" stroke="#555" stroke-width="0.8"/>
<text x="151.8" y="302.8" font-size="8.6" text-anchor="middle" fill="#363636">400</text>
<line x1="170.2" y1="304" x2="170.2" y2="305.3" stroke="#555" stroke-width="0.8"/>
<text x="170.5" y="302.8" font-size="8.6" text-anchor="middle" fill="#363636">600</text>
<line x1="188.3" y1="304" x2="188.3" y2="305.3" stroke="#555" stroke-width="0.8"/>
<text x="188.6" y="302.8" font-size="8.6" text-anchor="middle" fill="#363636">0</text>
<line x1="200.98" y1="304" x2="200.98" y2="305.3" stroke="#555" stroke-width="0.8"/>
<text x="201.28" y="302.8" font-size="8.6" text-anchor="middle" fill="#363636">10</text>
<line x1="213.66" y1="304" x2="213.66" y2="305.3" stroke="#555" stroke-width="0.8"/>
<text x="213.96" y="302.8" font-size="8.6" text-anchor="middle" fill="#363636">20</text>
<line x1="226.34" y1="304" x2="226.34" y2="305.3" stroke="#555" stroke-width="0.8"/>
<text x="226.64" y="302.8" font-size="8.6" text-anchor="middle" fill="#363636">30</text>
<line x1="239.02" y1="304" x2="239.02" y2="305.3" stroke="#555" stroke-width="0.8"/>
<text x="239.32" y="302.8" font-size="8.6" text-anchor="middle" fill="#363636">40</text>
<line x1="251.7" y1="304" x2="251.7" y2="305.3" stroke="#555" stroke-width="0.8"/>
<text x="252" y="302.8" font-size="8.6" text-anchor="middle" fill="#363636">50</text>
<text x="143.6" y="453.2" font-size="9.6" text-anchor="middle" fill="#222">CNV loci</text>
<text x="220.6" y="453.2" font-size="9.6" text-anchor="middle" fill="#222">Conflicting loci</text>
<text x="46.5" y="369.5" font-size="12" text-anchor="middle" fill="#1a1a1a" transform="rotate(-90 46.5 369.5)">Replicate sequencing pairs</text>
<text x="260" y="348" font-size="12" text-anchor="start" fill="#1a1a1a">Gene CNV event</text>
<rect x="260.9" y="356.1" width="12.5" height="11.9" fill="#aa9f35"/>
<text x="276.8" y="365.5" font-size="10.8" text-anchor="start" fill="#222">deletion</text>
<rect x="260.9" y="371.1" width="12.5" height="11.9" fill="#608a8b"/>
<text x="276.8" y="380.5" font-size="10.8" text-anchor="start" fill="#222">duplication</text>
<rect x="260.9" y="386.1" width="12.5" height="11.9" fill="#d4d5d7"/>
<text x="276.8" y="395.5" font-size="10.8" text-anchor="start" fill="#222">fixed</text>
<rect x="89.2" y="497.7" width="100.2" height="115.3" fill="none" stroke="#d0d0d0" stroke-width="0.9"/>
<rect x="192.2" y="497.7" width="39.3" height="115.3" fill="none" stroke="#d0d0d0" stroke-width="0.9"/>
<line x1="86.5" y1="608.2" x2="89.2" y2="608.2" stroke="#555" stroke-width="0.8"/>
<text x="84.3" y="610.2" font-size="9.4" text-anchor="end" fill="#363636">0</text>
<line x1="86.5" y1="583.2" x2="89.2" y2="583.2" stroke="#555" stroke-width="0.8"/>
<text x="84.3" y="585.2" font-size="9.4" text-anchor="end" fill="#363636">50</text>
<line x1="86.5" y1="558.2" x2="89.2" y2="558.2" stroke="#555" stroke-width="0.8"/>
<text x="84.3" y="560.2" font-size="9.4" text-anchor="end" fill="#363636">100</text>
<line x1="86.5" y1="533.2" x2="89.2" y2="533.2" stroke="#555" stroke-width="0.8"/>
<text x="84.3" y="535.2" font-size="9.4" text-anchor="end" fill="#363636">150</text>
<line x1="86.5" y1="508.2" x2="89.2" y2="508.2" stroke="#555" stroke-width="0.8"/>
<text x="84.3" y="510.2" font-size="9.4" text-anchor="end" fill="#363636">200</text>
<line x1="231.5" y1="608.2" x2="234.2" y2="608.2" stroke="#555" stroke-width="0.8"/>
<text x="235.7" y="610.2" font-size="9.4" text-anchor="start" fill="#363636">0</text>
<line x1="231.5" y1="583.2" x2="234.2" y2="583.2" stroke="#555" stroke-width="0.8"/>
<text x="235.7" y="585.2" font-size="9.4" text-anchor="start" fill="#363636">10000</text>
<line x1="231.5" y1="558.2" x2="234.2" y2="558.2" stroke="#555" stroke-width="0.8"/>
<text x="235.7" y="560.2" font-size="9.4" text-anchor="start" fill="#363636">20000</text>
<line x1="231.5" y1="533.2" x2="234.2" y2="533.2" stroke="#555" stroke-width="0.8"/>
<text x="235.7" y="535.2" font-size="9.4" text-anchor="start" fill="#363636">30000</text>
<line x1="231.5" y1="508.2" x2="234.2" y2="508.2" stroke="#555" stroke-width="0.8"/>
<text x="235.7" y="510.2" font-size="9.4" text-anchor="start" fill="#363636">40000</text>
<rect x="95.5" y="502.8" width="13.3" height="105.4" fill="#4b6646"/>
<rect x="108.8" y="595" width="13.6" height="13.2" fill="#d1d6d0"/>
<rect x="127" y="587.3" width="13.1" height="20.9" fill="#4b6646"/>
<rect x="140.1" y="585.7" width="13.6" height="22.5" fill="#d1d6d0"/>
<rect x="158.1" y="561.4" width="13.8" height="46.8" fill="#4b6646"/>
<rect x="171.9" y="602" width="13.1" height="6.2" fill="#d1d6d0"/>
<rect x="197.1" y="502.8" width="14" height="105.4" fill="#4b6646"/>
<rect x="211.1" y="607" width="13.6" height="1.2" fill="#d1d6d0"/>
<line x1="108.6" y1="613" x2="108.6" y2="615.5" stroke="#555" stroke-width="0.8"/>
<line x1="140.1" y1="613" x2="140.1" y2="615.5" stroke="#555" stroke-width="0.8"/>
<line x1="171.9" y1="613" x2="171.9" y2="615.5" stroke="#555" stroke-width="0.8"/>
<line x1="211.1" y1="613" x2="211.1" y2="615.5" stroke="#555" stroke-width="0.8"/>
<text x="47" y="547" font-size="12" text-anchor="middle" fill="#1a1a1a" transform="rotate(-90 47 547)">Number of loci</text>
<text x="112.2" y="620.6" font-size="10.6" text-anchor="end" fill="#333" transform="rotate(-45 112.2 620.6)">deletion</text>
<text x="142.4" y="620.6" font-size="10.6" text-anchor="end" fill="#333" transform="rotate(-45 142.4 620.6)">duplication</text>
<text x="171.1" y="622.6" font-size="10.6" text-anchor="end" fill="#333" transform="rotate(-45 171.1 622.6)">partial</text>
<text x="186.3" y="625.7" font-size="10.6" text-anchor="end" fill="#333" transform="rotate(-45 186.3 625.7)">deletion</text>
<text x="214.9" y="622.7" font-size="10.6" text-anchor="end" fill="#333" transform="rotate(-45 214.9 622.7)">single-copy</text>
<text x="288.5" y="667.5" font-size="12" text-anchor="middle" fill="#1a1a1a">Gene CNV event</text>
<rect x="354.5" y="497.3" width="136.7" height="116.1" fill="none" stroke="#cccccc" stroke-width="0.9"/>
<line x1="351.5" y1="608" x2="354.5" y2="608" stroke="#555" stroke-width="0.8"/>
<text x="350.5" y="611.3" font-size="9.4" text-anchor="end" fill="#363636">0</text>
<line x1="351.5" y1="581.8" x2="354.5" y2="581.8" stroke="#555" stroke-width="0.8"/>
<text x="350.5" y="585.1" font-size="9.4" text-anchor="end" fill="#363636">100</text>
<line x1="351.5" y1="555.6" x2="354.5" y2="555.6" stroke="#555" stroke-width="0.8"/>
<text x="350.5" y="558.9" font-size="9.4" text-anchor="end" fill="#363636">200</text>
<line x1="351.5" y1="529.4" x2="354.5" y2="529.4" stroke="#555" stroke-width="0.8"/>
<text x="350.5" y="532.7" font-size="9.4" text-anchor="end" fill="#363636">300</text>
<line x1="351.5" y1="503.2" x2="354.5" y2="503.2" stroke="#555" stroke-width="0.8"/>
<text x="350.5" y="506.5" font-size="9.4" text-anchor="end" fill="#363636">400</text>
<line x1="373.7" y1="613.4" x2="373.7" y2="616" stroke="#555" stroke-width="0.8"/>
<line x1="406.4" y1="613.4" x2="406.4" y2="616" stroke="#555" stroke-width="0.8"/>
<line x1="439" y1="613.4" x2="439" y2="616" stroke="#555" stroke-width="0.8"/>
<line x1="471.4" y1="613.4" x2="471.4" y2="616" stroke="#555" stroke-width="0.8"/>
<text x="321" y="550" font-size="12" text-anchor="middle" fill="#1a1a1a" transform="rotate(-90 321 550)">CNQ</text>
<line x1="367.55" y1="503" x2="367.55" y2="503" stroke="#6f6f6f" stroke-width="0.75"/>
<line x1="367.55" y1="566.8" x2="367.55" y2="607.9" stroke="#6f6f6f" stroke-width="0.75"/>
<rect x="362" y="503" width="11.1" height="63.8" fill="#4b6646"/>
<line x1="362" y1="503.5" x2="373.1" y2="503.5" stroke="#222" stroke-width="1.6"/>
<line x1="379.75" y1="588.9" x2="379.75" y2="589.8" stroke="#bdbdbd" stroke-width="0.75"/>
<line x1="379.75" y1="602" x2="379.75" y2="603.6" stroke="#bdbdbd" stroke-width="0.75"/>
<rect x="374" y="589.8" width="11.5" height="12.2" fill="#d1d6d0"/>
<line x1="374" y1="597.2" x2="385.5" y2="597.2" stroke="#2b2b2b" stroke-width="1.4"/>
<circle cx="379.8" cy="503" r="1.3" fill="#7c7c7c"/>
<circle cx="379.8" cy="509.7" r="1.3" fill="#7c7c7c"/>
<circle cx="379.8" cy="527.9" r="1.3" fill="#7c7c7c"/>
<circle cx="379.8" cy="568.3" r="1.3" fill="#7c7c7c"/>
<ellipse cx="379.8" cy="503" rx="1.5" ry="1.1" fill="#333"/>
<line x1="400.1" y1="605" x2="400.1" y2="606" stroke="#6f6f6f" stroke-width="0.75"/>
<line x1="400.1" y1="607.6" x2="400.1" y2="608" stroke="#6f6f6f" stroke-width="0.75"/>
<rect x="394.5" y="606" width="11.2" height="1.6" fill="#4b6646"/>
<line x1="394.5" y1="607" x2="405.7" y2="607" stroke="#2a3a2a" stroke-width="1"/>
<circle cx="400.2" cy="602.4" r="1.3" fill="#7c7c7c"/>
<line x1="412.6" y1="605.5" x2="412.6" y2="606.7" stroke="#bdbdbd" stroke-width="0.75"/>
<line x1="412.6" y1="607.9" x2="412.6" y2="608" stroke="#bdbdbd" stroke-width="0.75"/>
<rect x="407.2" y="606.7" width="10.8" height="1.2" fill="#d1d6d0"/>
<line x1="407.2" y1="607.3" x2="418" y2="607.3" stroke="#2b2b2b" stroke-width="1.4"/>
<circle cx="412.4" cy="600.5" r="1.3" fill="#7c7c7c"/>
<circle cx="412.4" cy="601.5" r="1.3" fill="#7c7c7c"/>
<circle cx="412.4" cy="602.4" r="1.3" fill="#7c7c7c"/>
<circle cx="412.4" cy="604.2" r="1.3" fill="#7c7c7c"/>
<line x1="432.65" y1="502.4" x2="432.65" y2="502.4" stroke="#6f6f6f" stroke-width="0.75"/>
<line x1="432.65" y1="534.5" x2="432.65" y2="574.8" stroke="#6f6f6f" stroke-width="0.75"/>
<rect x="427.1" y="502.4" width="11.1" height="32.1" fill="#4b6646"/>
<line x1="427.1" y1="503" x2="438.2" y2="503" stroke="#222" stroke-width="1.6"/>
<circle cx="432.6" cy="585.8" r="1.3" fill="#7c7c7c"/>
<circle cx="432.6" cy="587.3" r="1.3" fill="#7c7c7c"/>
<circle cx="432.6" cy="588.9" r="1.3" fill="#7c7c7c"/>
<circle cx="432.6" cy="598.4" r="1.3" fill="#7c7c7c"/>
<circle cx="432.6" cy="602.7" r="1.3" fill="#7c7c7c"/>
<circle cx="432.6" cy="606" r="1.3" fill="#7c7c7c"/>
<line x1="445.05" y1="503" x2="445.05" y2="503" stroke="#bdbdbd" stroke-width="0.75"/>
<line x1="445.05" y1="572.5" x2="445.05" y2="597.5" stroke="#bdbdbd" stroke-width="0.75"/>
<rect x="439.4" y="503" width="11.3" height="69.5" fill="#d1d6d0"/>
<line x1="439.4" y1="524.4" x2="450.7" y2="524.4" stroke="#2b2b2b" stroke-width="1.4"/>
<rect x="464.2" y="541.5" width="2.4" height="13.5" rx="1.2" fill="#2e2e2e"/>
<rect x="464.2" y="596.5" width="2.4" height="13.3" rx="1.2" fill="#2e2e2e"/>
<line x1="465.45" y1="554.4" x2="465.45" y2="569.8" stroke="#6f6f6f" stroke-width="0.75"/>
<line x1="465.45" y1="580.9" x2="465.45" y2="596.8" stroke="#6f6f6f" stroke-width="0.75"/>
<rect x="459.9" y="569.8" width="11.1" height="11.1" fill="#4b6646"/>
<line x1="459.9" y1="575" x2="471" y2="575" stroke="#283828" stroke-width="1.4"/>
<circle cx="465.4" cy="503" r="1.3" fill="#7c7c7c"/>
<circle cx="465.4" cy="522" r="1.3" fill="#7c7c7c"/>
<circle cx="465.4" cy="529.1" r="1.3" fill="#7c7c7c"/>
<ellipse cx="465.4" cy="503" rx="1.6" ry="1.2" fill="#222"/>
<line x1="477.7" y1="565.9" x2="477.7" y2="585.2" stroke="#bdbdbd" stroke-width="0.75"/>
<line x1="477.7" y1="598.7" x2="477.7" y2="607.9" stroke="#bdbdbd" stroke-width="0.75"/>
<rect x="472.2" y="585.2" width="11" height="13.5" fill="#d1d6d0"/>
<line x1="472.2" y1="589.2" x2="483.2" y2="589.2" stroke="#6a6a6a" stroke-width="1.3"/>
<circle cx="477.7" cy="541.6" r="1.3" fill="#7c7c7c"/>
<circle cx="477.7" cy="545" r="1.3" fill="#7c7c7c"/>
<circle cx="477.7" cy="557" r="1.3" fill="#7c7c7c"/>
<circle cx="477.7" cy="561.9" r="1.3" fill="#7c7c7c"/>
<circle cx="477.7" cy="563.5" r="1.3" fill="#7c7c7c"/>
<circle cx="477.7" cy="565" r="1.3" fill="#7c7c7c"/>
<ellipse cx="477.7" cy="503" rx="1.7" ry="1.2" fill="#222"/>
<text x="377.7" y="620.6" font-size="10.6" text-anchor="end" fill="#333" transform="rotate(-45 377.7 620.6)">deletion</text>
<text x="409.9" y="620.6" font-size="10.6" text-anchor="end" fill="#333" transform="rotate(-45 409.9 620.6)">duplication</text>
<text x="433.9" y="622.6" font-size="10.6" text-anchor="end" fill="#333" transform="rotate(-45 433.9 622.6)">partial</text>
<text x="448.9" y="625.7" font-size="10.6" text-anchor="end" fill="#333" transform="rotate(-45 448.9 625.7)">deletion</text>
<text x="473.7" y="622.7" font-size="10.6" text-anchor="end" fill="#333" transform="rotate(-45 473.7 622.7)">single-copy</text>
<text x="507.2" y="543.2" font-size="12" text-anchor="start" fill="#1a1a1a">CNV call consensus</text>
<rect x="508" y="550.3" width="11.9" height="11.7" fill="#4b6646"/>
<rect x="508" y="564" width="11.9" height="11.9" fill="#d1d6d0"/>
<text x="527" y="558.9" font-size="10.6" text-anchor="start" fill="#222">match</text>
<text x="527" y="574.3" font-size="10.6" text-anchor="start" fill="#222">mismatch</text>
<rect x="67.6" y="719.6" width="193.8" height="228.5" fill="none" stroke="#c8c8c8" stroke-width="0.9"/>
<text x="118.2" y="716" font-size="11" text-anchor="middle" fill="#222">Deletion</text>
<text x="204.9" y="716" font-size="11" text-anchor="middle" fill="#222">Duplication</text>
<line x1="65" y1="942.4" x2="67.6" y2="942.4" stroke="#555" stroke-width="0.8"/>
<text x="63.5" y="945.4" font-size="8.8" text-anchor="end" fill="#363636">1</text>
<line x1="65" y1="931.96" x2="67.6" y2="931.96" stroke="#555" stroke-width="0.8"/>
<text x="63.5" y="934.96" font-size="8.8" text-anchor="end" fill="#363636">2</text>
<line x1="65" y1="921.52" x2="67.6" y2="921.52" stroke="#555" stroke-width="0.8"/>
<text x="63.5" y="924.52" font-size="8.8" text-anchor="end" fill="#363636">3</text>
<line x1="65" y1="911.08" x2="67.6" y2="911.08" stroke="#555" stroke-width="0.8"/>
<text x="63.5" y="914.08" font-size="8.8" text-anchor="end" fill="#363636">4</text>
<line x1="65" y1="900.64" x2="67.6" y2="900.64" stroke="#555" stroke-width="0.8"/>
<text x="63.5" y="903.64" font-size="8.8" text-anchor="end" fill="#363636">5</text>
<line x1="65" y1="890.2" x2="67.6" y2="890.2" stroke="#555" stroke-width="0.8"/>
<text x="63.5" y="893.2" font-size="8.8" text-anchor="end" fill="#363636">6</text>
<line x1="65" y1="879.76" x2="67.6" y2="879.76" stroke="#555" stroke-width="0.8"/>
<text x="63.5" y="882.76" font-size="8.8" text-anchor="end" fill="#363636">7</text>
<line x1="65" y1="869.32" x2="67.6" y2="869.32" stroke="#555" stroke-width="0.8"/>
<text x="63.5" y="872.32" font-size="8.8" text-anchor="end" fill="#363636">8</text>
<line x1="65" y1="858.88" x2="67.6" y2="858.88" stroke="#555" stroke-width="0.8"/>
<text x="63.5" y="861.88" font-size="8.8" text-anchor="end" fill="#363636">9</text>
<line x1="65" y1="848.44" x2="67.6" y2="848.44" stroke="#555" stroke-width="0.8"/>
<text x="63.5" y="851.44" font-size="8.8" text-anchor="end" fill="#363636">10</text>
<line x1="65" y1="838" x2="67.6" y2="838" stroke="#555" stroke-width="0.8"/>
<text x="63.5" y="841" font-size="8.8" text-anchor="end" fill="#363636">11</text>
<line x1="65" y1="827.56" x2="67.6" y2="827.56" stroke="#555" stroke-width="0.8"/>
<text x="63.5" y="830.56" font-size="8.8" text-anchor="end" fill="#363636">12</text>
<line x1="65" y1="817.12" x2="67.6" y2="817.12" stroke="#555" stroke-width="0.8"/>
<text x="63.5" y="820.12" font-size="8.8" text-anchor="end" fill="#363636">13</text>
<line x1="65" y1="806.68" x2="67.6" y2="806.68" stroke="#555" stroke-width="0.8"/>
<text x="63.5" y="809.68" font-size="8.8" text-anchor="end" fill="#363636">14</text>
<line x1="65" y1="796.24" x2="67.6" y2="796.24" stroke="#555" stroke-width="0.8"/>
<text x="63.5" y="799.24" font-size="8.8" text-anchor="end" fill="#363636">15</text>
<line x1="65" y1="785.8" x2="67.6" y2="785.8" stroke="#555" stroke-width="0.8"/>
<text x="63.5" y="788.8" font-size="8.8" text-anchor="end" fill="#363636">16</text>
<line x1="65" y1="775.36" x2="67.6" y2="775.36" stroke="#555" stroke-width="0.8"/>
<text x="63.5" y="778.36" font-size="8.8" text-anchor="end" fill="#363636">17</text>
<line x1="65" y1="764.92" x2="67.6" y2="764.92" stroke="#555" stroke-width="0.8"/>
<text x="63.5" y="767.92" font-size="8.8" text-anchor="end" fill="#363636">18</text>
<line x1="65" y1="754.48" x2="67.6" y2="754.48" stroke="#555" stroke-width="0.8"/>
<text x="63.5" y="757.48" font-size="8.8" text-anchor="end" fill="#363636">19</text>
<line x1="65" y1="744.04" x2="67.6" y2="744.04" stroke="#555" stroke-width="0.8"/>
<text x="63.5" y="747.04" font-size="8.8" text-anchor="end" fill="#363636">20</text>
<line x1="65" y1="733.6" x2="67.6" y2="733.6" stroke="#555" stroke-width="0.8"/>
<text x="63.5" y="736.6" font-size="8.8" text-anchor="end" fill="#363636">21</text>
<line x1="90.5" y1="948.1" x2="90.5" y2="950.6" stroke="#555" stroke-width="0.8"/>
<text x="90.5" y="959.3" font-size="9.4" text-anchor="middle" fill="#363636">200</text>
<line x1="118.3" y1="948.1" x2="118.3" y2="950.6" stroke="#555" stroke-width="0.8"/>
<text x="118.3" y="959.3" font-size="9.4" text-anchor="middle" fill="#363636">300</text>
<line x1="146.1" y1="948.1" x2="146.1" y2="950.6" stroke="#555" stroke-width="0.8"/>
<text x="146.1" y="959.3" font-size="9.4" text-anchor="middle" fill="#363636">400</text>
<line x1="177.6" y1="948.1" x2="177.6" y2="950.6" stroke="#555" stroke-width="0.8"/>
<text x="177.6" y="959.3" font-size="9.4" text-anchor="middle" fill="#363636">0</text>
<line x1="200.33" y1="948.1" x2="200.33" y2="950.6" stroke="#555" stroke-width="0.8"/>
<text x="200.33" y="959.3" font-size="9.4" text-anchor="middle" fill="#363636">100</text>
<line x1="223.06" y1="948.1" x2="223.06" y2="950.6" stroke="#555" stroke-width="0.8"/>
<text x="223.06" y="959.3" font-size="9.4" text-anchor="middle" fill="#363636">200</text>
<line x1="245.79" y1="948.1" x2="245.79" y2="950.6" stroke="#555" stroke-width="0.8"/>
<text x="245.79" y="959.3" font-size="9.4" text-anchor="middle" fill="#363636">300</text>
<text x="166.5" y="974.5" font-size="12" text-anchor="middle" fill="#1a1a1a">CNQ</text>
<text x="47.3" y="825.6" font-size="12" text-anchor="middle" fill="#1a1a1a" transform="rotate(-90 47.3 825.6)">Chromosome</text>
<defs><linearGradient id="gdel" gradientUnits="userSpaceOnUse" x1="71" y1="0" x2="162" y2="0"><stop offset="0" stop-color="#aea23a" stop-opacity="0.2"/><stop offset="0.08" stop-color="#aea23a" stop-opacity="1"/><stop offset="0.92" stop-color="#aea23a" stop-opacity="1"/><stop offset="1" stop-color="#aea23a" stop-opacity="0.15"/></linearGradient><linearGradient id="gdup" gradientUnits="userSpaceOnUse" x1="173" y1="0" x2="254" y2="0"><stop offset="0" stop-color="#5f8a89" stop-opacity="0.3"/><stop offset="0.05" stop-color="#5f8a89" stop-opacity="1"/><stop offset="0.45" stop-color="#5f8a89" stop-opacity="1"/><stop offset="0.8" stop-color="#5f8a89" stop-opacity="0.15"/><stop offset="1" stop-color="#5f8a89" stop-opacity="0.05"/></linearGradient></defs>
<path d="M71.8 733.6 L71.8 733.07 L72.36 733.06 L72.92 733.04 L73.48 733.02 L74.04 733.01 L74.6 732.99 L75.16 732.96 L75.72 732.94 L76.28 732.91 L76.84 732.88 L77.4 732.85 L77.96 732.81 L78.52 732.78 L79.08 732.74 L79.64 732.7 L80.2 732.65 L80.76 732.61 L81.32 732.57 L81.88 732.52 L82.44 732.48 L83 732.43 L83.56 732.38 L84.12 732.34 L84.68 732.3 L85.24 732.26 L85.8 732.22 L86.36 732.18 L86.92 732.15 L87.48 732.12 L88.04 732.1 L88.6 732.08 L89.16 732.06 L89.72 732.05 L90.28 732.04 L90.84 732.03 L91.4 732.04 L91.96 732.04 L92.52 732.05 L93.08 732.06 L93.64 732.08 L94.2 732.1 L94.76 732.12 L95.32 732.14 L95.88 732.17 L96.44 732.19 L97 732.22 L97.56 732.25 L98.12 732.28 L98.68 732.3 L99.24 732.33 L99.8 732.35 L100.36 732.38 L100.92 732.4 L101.48 732.42 L102.04 732.44 L102.6 732.45 L103.16 732.47 L103.72 732.48 L104.28 732.48 L104.84 732.49 L105.4 732.5 L105.96 732.5 L106.52 732.5 L107.08 732.5 L107.64 732.49 L108.2 732.49 L108.76 732.48 L109.32 732.47 L109.88 732.47 L110.44 732.46 L111 732.45 L111.56 732.44 L112.12 732.43 L112.68 732.42 L113.24 732.41 L113.8 732.4 L114.36 732.39 L114.92 732.39 L115.48 732.38 L116.04 732.37 L116.6 732.37 L117.16 732.36 L117.72 732.36 L118.28 732.35 L118.84 732.35 L119.4 732.35 L119.96 732.35 L120.52 732.35 L121.08 732.35 L121.64 732.35 L122.2 732.36 L122.76 732.36 L123.32 732.37 L123.88 732.38 L124.44 732.38 L125 732.39 L125.56 732.4 L126.12 732.41 L126.68 732.43 L127.24 732.44 L127.8 732.45 L128.36 732.47 L128.92 732.48 L129.48 732.49 L130.04 732.51 L130.6 732.53 L131.16 732.54 L131.72 732.56 L132.28 732.58 L132.84 732.6 L133.4 732.61 L133.96 732.63 L134.52 732.65 L135.08 732.67 L135.64 732.69 L136.2 732.7 L136.76 732.72 L137.32 732.74 L137.88 732.76 L138.44 732.77 L139 732.79 L139.56 732.8 L140.12 732.81 L140.68 732.81 L141.24 732.81 L141.8 732.8 L142.36 732.77 L142.92 732.73 L143.48 732.68 L144.04 732.6 L144.6 732.49 L145.16 732.37 L145.72 732.23 L146.28 732.07 L146.84 731.89 L147.4 731.68 L147.96 731.43 L148.52 731.1 L149.08 730.66 L149.64 730.06 L150.2 729.25 L150.76 728.23 L151.32 727.03 L151.88 725.73 L152.44 724.45 L153 723.37 L153.56 722.64 L154.12 722.39 L154.68 722.68 L155.24 723.48 L155.8 724.68 L156.36 726.11 L156.92 727.6 L157.48 729 L158.04 730.21 L158.6 731.18 L159.16 731.89 L159.72 732.39 L160.28 732.71 L160.84 732.9 L161.4 733.02 L161.4 733.6 Z" fill="url(#gdel)"/>
<path d="M173.8 733.6 L173.8 733.04 L174.3 732.98 L174.79 732.87 L175.29 732.71 L175.79 732.47 L176.28 732.15 L176.78 731.73 L177.28 731.2 L177.78 730.56 L178.27 729.84 L178.77 729.07 L179.27 728.29 L179.76 727.58 L180.26 726.97 L180.76 726.53 L181.25 726.28 L181.75 726.22 L182.25 726.34 L182.74 726.61 L183.24 726.97 L183.74 727.38 L184.23 727.78 L184.73 728.15 L185.23 728.45 L185.73 728.7 L186.22 728.88 L186.72 729.03 L187.22 729.15 L187.71 729.26 L188.21 729.38 L188.71 729.51 L189.2 729.66 L189.7 729.83 L190.2 730.01 L190.69 730.2 L191.19 730.39 L191.69 730.59 L192.18 730.77 L192.68 730.94 L193.18 731.1 L193.68 731.23 L194.17 731.35 L194.67 731.45 L195.17 731.53 L195.66 731.6 L196.16 731.65 L196.66 731.69 L197.15 731.73 L197.65 731.76 L198.15 731.78 L198.64 731.81 L199.14 731.83 L199.64 731.86 L200.13 731.88 L200.63 731.91 L201.13 731.94 L201.62 731.97 L202.12 732.01 L202.62 732.05 L203.12 732.09 L203.61 732.13 L204.11 732.18 L204.61 732.23 L205.1 732.27 L205.6 732.32 L206.1 732.37 L206.59 732.42 L207.09 732.47 L207.59 732.52 L208.08 732.56 L208.58 732.61 L209.08 732.65 L209.58 732.69 L210.07 732.73 L210.57 732.77 L211.07 732.81 L211.56 732.84 L212.06 732.87 L212.56 732.9 L213.05 732.93 L213.55 732.95 L214.05 732.98 L214.54 733 L215.04 733.02 L215.54 733.03 L216.03 733.05 L216.53 733.06 L217.03 733.07 L217.53 733.08 L218.02 733.09 L218.52 733.1 L219.02 733.11 L219.51 733.12 L220.01 733.12 L220.51 733.13 L221 733.13 L221.5 733.13 L222 733.14 L222.49 733.14 L222.99 733.14 L223.49 733.14 L223.98 733.14 L224.48 733.14 L224.98 733.15 L225.48 733.15 L225.97 733.15 L226.47 733.15 L226.97 733.15 L227.46 733.15 L227.96 733.15 L228.46 733.15 L228.95 733.15 L229.45 733.15 L229.95 733.15 L230.44 733.15 L230.94 733.15 L231.44 733.15 L231.93 733.15 L232.43 733.15 L232.93 733.15 L233.43 733.15 L233.92 733.15 L234.42 733.15 L234.92 733.15 L235.41 733.15 L235.91 733.15 L236.41 733.15 L236.9 733.15 L237.4 733.15 L237.9 733.15 L238.39 733.15 L238.89 733.15 L239.39 733.15 L239.88 733.15 L240.38 733.15 L240.88 733.15 L241.38 733.15 L241.87 733.15 L242.37 733.15 L242.87 733.15 L243.36 733.15 L243.86 733.15 L244.36 733.15 L244.85 733.15 L245.35 733.15 L245.85 733.15 L246.34 733.15 L246.84 733.15 L247.34 733.15 L247.83 733.15 L248.33 733.15 L248.83 733.15 L249.33 733.15 L249.82 733.15 L250.32 733.15 L250.82 733.15 L251.31 733.15 L251.81 733.15 L252.31 733.15 L252.8 733.15 L253.3 733.15 L253.3 733.6 Z" fill="url(#gdup)"/>
<path d="M71.8 744.04 L71.8 743.54 L72.36 743.52 L72.92 743.5 L73.48 743.47 L74.04 743.43 L74.6 743.39 L75.16 743.33 L75.72 743.26 L76.28 743.18 L76.84 743.08 L77.4 742.97 L77.96 742.85 L78.52 742.72 L79.08 742.59 L79.64 742.46 L80.2 742.33 L80.76 742.22 L81.32 742.12 L81.88 742.04 L82.44 741.99 L83 741.97 L83.56 741.98 L84.12 742.01 L84.68 742.07 L85.24 742.15 L85.8 742.25 L86.36 742.36 L86.92 742.48 L87.48 742.59 L88.04 742.71 L88.6 742.81 L89.16 742.9 L89.72 742.98 L90.28 743.05 L90.84 743.1 L91.4 743.15 L91.96 743.18 L92.52 743.2 L93.08 743.21 L93.64 743.22 L94.2 743.22 L94.76 743.21 L95.32 743.21 L95.88 743.2 L96.44 743.19 L97 743.17 L97.56 743.16 L98.12 743.15 L98.68 743.14 L99.24 743.13 L99.8 743.11 L100.36 743.1 L100.92 743.09 L101.48 743.08 L102.04 743.07 L102.6 743.06 L103.16 743.05 L103.72 743.04 L104.28 743.03 L104.84 743.02 L105.4 743.02 L105.96 743.01 L106.52 743.01 L107.08 743 L107.64 743 L108.2 742.99 L108.76 742.99 L109.32 742.99 L109.88 742.99 L110.44 742.99 L111 742.99 L111.56 742.99 L112.12 743 L112.68 743 L113.24 743 L113.8 743.01 L114.36 743.01 L114.92 743.02 L115.48 743.03 L116.04 743.04 L116.6 743.05 L117.16 743.05 L117.72 743.06 L118.28 743.07 L118.84 743.09 L119.4 743.1 L119.96 743.11 L120.52 743.12 L121.08 743.13 L121.64 743.15 L122.2 743.16 L122.76 743.17 L123.32 743.19 L123.88 743.2 L124.44 743.21 L125 743.23 L125.56 743.24 L126.12 743.25 L126.68 743.27 L127.24 743.28 L127.8 743.29 L128.36 743.31 L128.92 743.32 L129.48 743.33 L130.04 743.34 L130.6 743.36 L131.16 743.37 L131.72 743.38 L132.28 743.39 L132.84 743.4 L133.4 743.41 L133.96 743.42 L134.52 743.43 L135.08 743.44 L135.64 743.45 L136.2 743.46 L136.76 743.47 L137.32 743.47 L137.88 743.47 L138.44 743.47 L139 743.46 L139.56 743.44 L140.12 743.4 L140.68 743.34 L141.24 743.23 L141.8 743.09 L142.36 742.88 L142.92 742.62 L143.48 742.29 L144.04 741.91 L144.6 741.5 L145.16 741.07 L145.72 740.68 L146.28 740.33 L146.84 740.06 L147.4 739.88 L147.96 739.77 L148.52 739.67 L149.08 739.54 L149.64 739.28 L150.2 738.83 L150.76 738.15 L151.32 737.23 L151.88 736.16 L152.44 735.05 L153 734.07 L153.56 733.4 L154.12 733.17 L154.68 733.45 L155.24 734.22 L155.8 735.37 L156.36 736.76 L156.92 738.21 L157.48 739.57 L158.04 740.75 L158.6 741.69 L159.16 742.38 L159.72 742.86 L160.28 743.18 L160.84 743.37 L161.4 743.47 L161.4 744.04 Z" fill="url(#gdel)"/>
<path d="M173.8 744.04 L173.8 743.11 L174.3 743.04 L174.79 742.96 L175.29 742.87 L175.79 742.77 L176.28 742.67 L176.78 742.56 L177.28 742.44 L177.78 742.32 L178.27 742.19 L178.77 742.06 L179.27 741.94 L179.76 741.81 L180.26 741.68 L180.76 741.56 L181.25 741.44 L181.75 741.33 L182.25 741.23 L182.74 741.14 L183.24 741.06 L183.74 741 L184.23 740.96 L184.73 740.93 L185.23 740.91 L185.73 740.91 L186.22 740.93 L186.72 740.96 L187.22 741.01 L187.71 741.07 L188.21 741.14 L188.71 741.21 L189.2 741.29 L189.7 741.37 L190.2 741.44 L190.69 741.5 L191.19 741.52 L191.69 741.51 L192.18 741.45 L192.68 741.33 L193.18 741.16 L193.68 740.94 L194.17 740.68 L194.67 740.43 L195.17 740.21 L195.66 740.06 L196.16 740.01 L196.66 740.06 L197.15 740.23 L197.65 740.49 L198.15 740.82 L198.64 741.19 L199.14 741.55 L199.64 741.87 L200.13 742.15 L200.63 742.36 L201.13 742.51 L201.62 742.59 L202.12 742.62 L202.62 742.6 L203.12 742.55 L203.61 742.46 L204.11 742.34 L204.61 742.2 L205.1 742.06 L205.6 741.91 L206.1 741.78 L206.59 741.66 L207.09 741.57 L207.59 741.52 L208.08 741.51 L208.58 741.54 L209.08 741.62 L209.58 741.74 L210.07 741.88 L210.57 742.04 L211.07 742.22 L211.56 742.39 L212.06 742.56 L212.56 742.71 L213.05 742.85 L213.55 742.97 L214.05 743.06 L214.54 743.14 L215.04 743.21 L215.54 743.26 L216.03 743.3 L216.53 743.33 L217.03 743.35 L217.53 743.37 L218.02 743.39 L218.52 743.4 L219.02 743.42 L219.51 743.43 L220.01 743.44 L220.51 743.45 L221 743.46 L221.5 743.47 L222 743.48 L222.49 743.49 L222.99 743.49 L223.49 743.5 L223.98 743.51 L224.48 743.52 L224.98 743.52 L225.48 743.53 L225.97 743.53 L226.47 743.54 L226.97 743.54 L227.46 743.55 L227.96 743.55 L228.46 743.55 L228.95 743.56 L229.45 743.56 L229.95 743.56 L230.44 743.57 L230.94 743.57 L231.44 743.57 L231.93 743.57 L232.43 743.57 L232.93 743.58 L233.43 743.58 L233.92 743.58 L234.42 743.58 L234.92 743.58 L235.41 743.58 L235.91 743.58 L236.41 743.58 L236.9 743.58 L237.4 743.59 L237.9 743.59 L238.39 743.59 L238.89 743.59 L239.39 743.59 L239.88 743.59 L240.38 743.59 L240.88 743.59 L241.38 743.59 L241.87 743.59 L242.37 743.59 L242.87 743.59 L243.36 743.59 L243.86 743.59 L244.36 743.59 L244.85 743.59 L245.35 743.59 L245.85 743.59 L246.34 743.59 L246.84 743.59 L247.34 743.59 L247.83 743.59 L248.33 743.59 L248.83 743.59 L249.33 743.59 L249.82 743.59 L250.32 743.59 L250.82 743.59 L251.31 743.59 L251.81 743.59 L252.31 743.59 L252.8 743.59 L253.3 743.59 L253.3 744.04 Z" fill="url(#gdup)"/>
<path d="M71.8 754.48 L71.8 753.98 L72.36 753.96 L72.92 753.94 L73.48 753.92 L74.04 753.88 L74.6 753.84 L75.16 753.78 L75.72 753.72 L76.28 753.64 L76.84 753.55 L77.4 753.45 L77.96 753.34 L78.52 753.22 L79.08 753.09 L79.64 752.97 L80.2 752.85 L80.76 752.74 L81.32 752.65 L81.88 752.58 L82.44 752.53 L83 752.51 L83.56 752.52 L84.12 752.55 L84.68 752.6 L85.24 752.68 L85.8 752.77 L86.36 752.87 L86.92 752.98 L87.48 753.09 L88.04 753.19 L88.6 753.29 L89.16 753.37 L89.72 753.45 L90.28 753.51 L90.84 753.56 L91.4 753.6 L91.96 753.62 L92.52 753.64 L93.08 753.65 L93.64 753.66 L94.2 753.66 L94.76 753.65 L95.32 753.65 L95.88 753.64 L96.44 753.63 L97 753.61 L97.56 753.6 L98.12 753.59 L98.68 753.58 L99.24 753.57 L99.8 753.55 L100.36 753.54 L100.92 753.53 L101.48 753.52 L102.04 753.51 L102.6 753.5 L103.16 753.49 L103.72 753.48 L104.28 753.47 L104.84 753.46 L105.4 753.46 L105.96 753.45 L106.52 753.45 L107.08 753.44 L107.64 753.44 L108.2 753.43 L108.76 753.43 L109.32 753.43 L109.88 753.43 L110.44 753.43 L111 753.43 L111.56 753.43 L112.12 753.44 L112.68 753.44 L113.24 753.44 L113.8 753.45 L114.36 753.45 L114.92 753.46 L115.48 753.47 L116.04 753.48 L116.6 753.49 L117.16 753.49 L117.72 753.5 L118.28 753.51 L118.84 753.53 L119.4 753.54 L119.96 753.55 L120.52 753.56 L121.08 753.57 L121.64 753.59 L122.2 753.6 L122.76 753.61 L123.32 753.63 L123.88 753.64 L124.44 753.65 L125 753.67 L125.56 753.68 L126.12 753.69 L126.68 753.71 L127.24 753.72 L127.8 753.73 L128.36 753.75 L128.92 753.76 L129.48 753.77 L130.04 753.78 L130.6 753.8 L131.16 753.81 L131.72 753.82 L132.28 753.83 L132.84 753.84 L133.4 753.85 L133.96 753.86 L134.52 753.87 L135.08 753.88 L135.64 753.89 L136.2 753.9 L136.76 753.9 L137.32 753.91 L137.88 753.91 L138.44 753.9 L139 753.87 L139.56 753.81 L140.12 753.71 L140.68 753.54 L141.24 753.28 L141.8 752.91 L142.36 752.4 L142.92 751.75 L143.48 750.99 L144.04 750.16 L144.6 749.34 L145.16 748.61 L145.72 748.07 L146.28 747.79 L146.84 747.79 L147.4 748.07 L147.96 748.55 L148.52 749.15 L149.08 749.74 L149.64 750.21 L150.2 750.48 L150.76 750.51 L151.32 750.3 L151.88 749.9 L152.44 749.4 L153 748.92 L153.56 748.55 L154.12 748.38 L154.68 748.46 L155.24 748.79 L155.8 749.34 L156.36 750.03 L156.92 750.79 L157.48 751.53 L158.04 752.2 L158.6 752.75 L159.16 753.18 L159.72 753.49 L160.28 753.71 L160.84 753.85 L161.4 753.93 L161.4 754.48 Z" fill="url(#gdel)"/>
<path d="M173.8 754.48 L173.8 753.95 L174.3 753.91 L174.79 753.87 L175.29 753.79 L175.79 753.69 L176.28 753.55 L176.78 753.36 L177.28 753.11 L177.78 752.8 L178.27 752.41 L178.77 751.96 L179.27 751.44 L179.76 750.87 L180.26 750.27 L180.76 749.68 L181.25 749.12 L181.75 748.64 L182.25 748.27 L182.74 748.03 L183.24 747.94 L183.74 748 L184.23 748.22 L184.73 748.56 L185.23 749.01 L185.73 749.53 L186.22 750.07 L186.72 750.62 L187.22 751.13 L187.71 751.59 L188.21 751.99 L188.71 752.32 L189.2 752.58 L189.7 752.77 L190.2 752.91 L190.69 753 L191.19 753.05 L191.69 753.07 L192.18 753.08 L192.68 753.07 L193.18 753.06 L193.68 753.03 L194.17 753.01 L194.67 752.99 L195.17 752.96 L195.66 752.94 L196.16 752.91 L196.66 752.89 L197.15 752.88 L197.65 752.86 L198.15 752.85 L198.64 752.84 L199.14 752.83 L199.64 752.83 L200.13 752.83 L200.63 752.83 L201.13 752.84 L201.62 752.85 L202.12 752.86 L202.62 752.87 L203.12 752.89 L203.61 752.91 L204.11 752.93 L204.61 752.95 L205.1 752.98 L205.6 753 L206.1 753.03 L206.59 753.06 L207.09 753.1 L207.59 753.13 L208.08 753.16 L208.58 753.2 L209.08 753.24 L209.58 753.27 L210.07 753.31 L210.57 753.34 L211.07 753.38 L211.56 753.42 L212.06 753.45 L212.56 753.48 L213.05 753.52 L213.55 753.55 L214.05 753.58 L214.54 753.61 L215.04 753.64 L215.54 753.67 L216.03 753.7 L216.53 753.72 L217.03 753.75 L217.53 753.77 L218.02 753.79 L218.52 753.81 L219.02 753.83 L219.51 753.85 L220.01 753.87 L220.51 753.88 L221 753.9 L221.5 753.91 L222 753.92 L222.49 753.93 L222.99 753.94 L223.49 753.95 L223.98 753.96 L224.48 753.97 L224.98 753.98 L225.48 753.98 L225.97 753.99 L226.47 753.99 L226.97 754 L227.46 754 L227.96 754.01 L228.46 754.01 L228.95 754.01 L229.45 754.01 L229.95 754.02 L230.44 754.02 L230.94 754.02 L231.44 754.02 L231.93 754.02 L232.43 754.02 L232.93 754.02 L233.43 754.03 L233.92 754.03 L234.42 754.03 L234.92 754.03 L235.41 754.03 L235.91 754.03 L236.41 754.03 L236.9 754.03 L237.4 754.03 L237.9 754.03 L238.39 754.03 L238.89 754.03 L239.39 754.03 L239.88 754.03 L240.38 754.03 L240.88 754.03 L241.38 754.03 L241.87 754.03 L242.37 754.03 L242.87 754.03 L243.36 754.03 L243.86 754.03 L244.36 754.03 L244.85 754.03 L245.35 754.03 L245.85 754.03 L246.34 754.03 L246.84 754.03 L247.34 754.03 L247.83 754.03 L248.33 754.03 L248.83 754.03 L249.33 754.03 L249.82 754.03 L250.32 754.03 L250.82 754.03 L251.31 754.03 L251.81 754.03 L252.31 754.03 L252.8 754.03 L253.3 754.03 L253.3 754.48 Z" fill="url(#gdup)"/>
<path d="M71.8 764.92 L71.8 764.31 L72.36 764.27 L72.92 764.21 L73.48 764.14 L74.04 764.05 L74.6 763.95 L75.16 763.83 L75.72 763.69 L76.28 763.52 L76.84 763.34 L77.4 763.14 L77.96 762.92 L78.52 762.69 L79.08 762.44 L79.64 762.19 L80.2 761.94 L80.76 761.69 L81.32 761.45 L81.88 761.22 L82.44 761.02 L83 760.84 L83.56 760.7 L84.12 760.59 L84.68 760.52 L85.24 760.48 L85.8 760.48 L86.36 760.52 L86.92 760.58 L87.48 760.67 L88.04 760.78 L88.6 760.91 L89.16 761.04 L89.72 761.17 L90.28 761.31 L90.84 761.44 L91.4 761.56 L91.96 761.66 L92.52 761.76 L93.08 761.84 L93.64 761.91 L94.2 761.97 L94.76 762.02 L95.32 762.05 L95.88 762.08 L96.44 762.11 L97 762.14 L97.56 762.16 L98.12 762.18 L98.68 762.21 L99.24 762.24 L99.8 762.27 L100.36 762.3 L100.92 762.34 L101.48 762.39 L102.04 762.44 L102.6 762.49 L103.16 762.54 L103.72 762.6 L104.28 762.66 L104.84 762.72 L105.4 762.78 L105.96 762.84 L106.52 762.9 L107.08 762.96 L107.64 763.02 L108.2 763.07 L108.76 763.13 L109.32 763.18 L109.88 763.22 L110.44 763.27 L111 763.31 L111.56 763.35 L112.12 763.38 L112.68 763.42 L113.24 763.45 L113.8 763.47 L114.36 763.5 L114.92 763.52 L115.48 763.55 L116.04 763.57 L116.6 763.59 L117.16 763.6 L117.72 763.62 L118.28 763.64 L118.84 763.65 L119.4 763.67 L119.96 763.68 L120.52 763.7 L121.08 763.71 L121.64 763.73 L122.2 763.74 L122.76 763.76 L123.32 763.78 L123.88 763.79 L124.44 763.81 L125 763.83 L125.56 763.84 L126.12 763.86 L126.68 763.88 L127.24 763.9 L127.8 763.91 L128.36 763.93 L128.92 763.95 L129.48 763.97 L130.04 763.99 L130.6 764 L131.16 764.02 L131.72 764.04 L132.28 764.06 L132.84 764.08 L133.4 764.09 L133.96 764.11 L134.52 764.13 L135.08 764.14 L135.64 764.16 L136.2 764.17 L136.76 764.19 L137.32 764.2 L137.88 764.21 L138.44 764.2 L139 764.19 L139.56 764.15 L140.12 764.09 L140.68 763.97 L141.24 763.79 L141.8 763.54 L142.36 763.21 L142.92 762.81 L143.48 762.35 L144.04 761.87 L144.6 761.42 L145.16 761.06 L145.72 760.83 L146.28 760.76 L146.84 760.86 L147.4 761.1 L147.96 761.45 L148.52 761.82 L149.08 762.16 L149.64 762.41 L150.2 762.53 L150.76 762.5 L151.32 762.34 L151.88 762.08 L152.44 761.78 L153 761.5 L153.56 761.3 L154.12 761.22 L154.68 761.29 L155.24 761.51 L155.8 761.84 L156.36 762.25 L156.92 762.68 L157.48 763.1 L158.04 763.47 L158.6 763.78 L159.16 764.01 L159.72 764.18 L160.28 764.3 L160.84 764.37 L161.4 764.41 L161.4 764.92 Z" fill="url(#gdel)"/>
<path d="M173.8 764.92 L173.8 764.43 L174.3 764.4 L174.79 764.34 L175.29 764.23 L175.79 764.07 L176.28 763.81 L176.78 763.42 L177.28 762.87 L177.78 762.14 L178.27 761.19 L178.77 760.04 L179.27 758.73 L179.76 757.3 L180.26 755.87 L180.76 754.55 L181.25 753.48 L181.75 752.76 L182.25 752.47 L182.74 752.66 L183.24 753.29 L183.74 754.3 L184.23 755.57 L184.73 756.99 L185.23 758.43 L185.73 759.78 L186.22 760.96 L186.72 761.95 L187.22 762.73 L187.71 763.32 L188.21 763.74 L188.71 764.02 L189.2 764.2 L189.7 764.32 L190.2 764.39 L190.69 764.43 L191.19 764.45 L191.69 764.46 L192.18 764.47 L192.68 764.47 L193.18 764.47 L193.68 764.47 L194.17 764.47 L194.67 764.47 L195.17 764.47 L195.66 764.47 L196.16 764.47 L196.66 764.47 L197.15 764.47 L197.65 764.47 L198.15 764.47 L198.64 764.47 L199.14 764.47 L199.64 764.47 L200.13 764.47 L200.63 764.47 L201.13 764.47 L201.62 764.47 L202.12 764.47 L202.62 764.47 L203.12 764.47 L203.61 764.47 L204.11 764.47 L204.61 764.47 L205.1 764.47 L205.6 764.47 L206.1 764.47 L206.59 764.47 L207.09 764.47 L207.59 764.47 L208.08 764.47 L208.58 764.47 L209.08 764.47 L209.58 764.47 L210.07 764.47 L210.57 764.47 L211.07 764.47 L211.56 764.47 L212.06 764.47 L212.56 764.47 L213.05 764.47 L213.55 764.47 L214.05 764.47 L214.54 764.47 L215.04 764.47 L215.54 764.47 L216.03 764.47 L216.53 764.47 L217.03 764.47 L217.53 764.47 L218.02 764.47 L218.52 764.47 L219.02 764.47 L219.51 764.47 L220.01 764.47 L220.51 764.47 L221 764.47 L221.5 764.47 L222 764.47 L222.49 764.47 L222.99 764.47 L223.49 764.47 L223.98 764.47 L224.48 764.47 L224.98 764.47 L225.48 764.47 L225.97 764.47 L226.47 764.47 L226.97 764.47 L227.46 764.47 L227.96 764.47 L228.46 764.47 L228.95 764.47 L229.45 764.47 L229.95 764.47 L230.44 764.47 L230.94 764.47 L231.44 764.47 L231.93 764.47 L232.43 764.47 L232.93 764.47 L233.43 764.47 L233.92 764.47 L234.42 764.47 L234.92 764.47 L235.41 764.47 L235.91 764.47 L236.41 764.47 L236.9 764.47 L237.4 764.47 L237.9 764.47 L238.39 764.47 L238.89 764.47 L239.39 764.47 L239.88 764.47 L240.38 764.47 L240.88 764.47 L241.38 764.47 L241.87 764.47 L242.37 764.47 L242.87 764.47 L243.36 764.47 L243.86 764.47 L244.36 764.47 L244.85 764.47 L245.35 764.47 L245.85 764.47 L246.34 764.47 L246.84 764.47 L247.34 764.47 L247.83 764.47 L248.33 764.47 L248.83 764.47 L249.33 764.47 L249.82 764.47 L250.32 764.47 L250.82 764.47 L251.31 764.47 L251.81 764.47 L252.31 764.47 L252.8 764.47 L253.3 764.47 L253.3 764.92 Z" fill="url(#gdup)"/>
<path d="M71.8 775.36 L71.8 774.79 L72.36 774.78 L72.92 774.77 L73.48 774.76 L74.04 774.75 L74.6 774.74 L75.16 774.73 L75.72 774.72 L76.28 774.71 L76.84 774.7 L77.4 774.69 L77.96 774.67 L78.52 774.66 L79.08 774.65 L79.64 774.63 L80.2 774.62 L80.76 774.6 L81.32 774.59 L81.88 774.57 L82.44 774.56 L83 774.54 L83.56 774.53 L84.12 774.51 L84.68 774.49 L85.24 774.48 L85.8 774.46 L86.36 774.45 L86.92 774.43 L87.48 774.42 L88.04 774.4 L88.6 774.39 L89.16 774.37 L89.72 774.36 L90.28 774.34 L90.84 774.33 L91.4 774.32 L91.96 774.3 L92.52 774.29 L93.08 774.28 L93.64 774.27 L94.2 774.26 L94.76 774.25 L95.32 774.24 L95.88 774.24 L96.44 774.23 L97 774.22 L97.56 774.22 L98.12 774.22 L98.68 774.21 L99.24 774.21 L99.8 774.21 L100.36 774.21 L100.92 774.21 L101.48 774.21 L102.04 774.22 L102.6 774.22 L103.16 774.23 L103.72 774.23 L104.28 774.24 L104.84 774.25 L105.4 774.25 L105.96 774.26 L106.52 774.27 L107.08 774.28 L107.64 774.3 L108.2 774.31 L108.76 774.32 L109.32 774.33 L109.88 774.35 L110.44 774.36 L111 774.38 L111.56 774.39 L112.12 774.4 L112.68 774.42 L113.24 774.44 L113.8 774.45 L114.36 774.47 L114.92 774.48 L115.48 774.5 L116.04 774.51 L116.6 774.53 L117.16 774.55 L117.72 774.56 L118.28 774.58 L118.84 774.59 L119.4 774.61 L119.96 774.62 L120.52 774.64 L121.08 774.65 L121.64 774.66 L122.2 774.68 L122.76 774.69 L123.32 774.7 L123.88 774.71 L124.44 774.72 L125 774.74 L125.56 774.75 L126.12 774.76 L126.68 774.77 L127.24 774.78 L127.8 774.78 L128.36 774.79 L128.92 774.8 L129.48 774.81 L130.04 774.82 L130.6 774.82 L131.16 774.83 L131.72 774.84 L132.28 774.84 L132.84 774.85 L133.4 774.85 L133.96 774.86 L134.52 774.86 L135.08 774.86 L135.64 774.87 L136.2 774.87 L136.76 774.87 L137.32 774.87 L137.88 774.87 L138.44 774.86 L139 774.84 L139.56 774.81 L140.12 774.77 L140.68 774.7 L141.24 774.61 L141.8 774.48 L142.36 774.32 L142.92 774.12 L143.48 773.88 L144.04 773.61 L144.6 773.33 L145.16 773.04 L145.72 772.77 L146.28 772.52 L146.84 772.3 L147.4 772.09 L147.96 771.87 L148.52 771.57 L149.08 771.14 L149.64 770.52 L150.2 769.67 L150.76 768.59 L151.32 767.35 L151.88 766.06 L152.44 764.9 L153 764.04 L153.56 763.64 L154.12 763.79 L154.68 764.48 L155.24 765.63 L155.8 767.08 L156.36 768.65 L156.92 770.17 L157.48 771.5 L158.04 772.59 L158.6 773.42 L159.16 774 L159.72 774.38 L160.28 774.62 L160.84 774.76 L161.4 774.84 L161.4 775.36 Z" fill="url(#gdel)"/>
<path d="M173.8 775.36 L173.8 774.86 L174.3 774.85 L174.79 774.84 L175.29 774.81 L175.79 774.75 L176.28 774.6 L176.78 774.23 L177.28 773.44 L177.78 772.06 L178.27 770.12 L178.77 768 L179.27 766.38 L179.76 765.87 L180.26 766.59 L180.76 768.06 L181.25 769.57 L181.75 770.62 L182.25 771.08 L182.74 771.11 L183.24 770.94 L183.74 770.74 L184.23 770.61 L184.73 770.59 L185.23 770.68 L185.73 770.89 L186.22 771.19 L186.72 771.55 L187.22 771.94 L187.71 772.34 L188.21 772.72 L188.71 773.06 L189.2 773.35 L189.7 773.58 L190.2 773.75 L190.69 773.88 L191.19 773.96 L191.69 774.01 L192.18 774.03 L192.68 774.03 L193.18 774.02 L193.68 773.99 L194.17 773.97 L194.67 773.94 L195.17 773.91 L195.66 773.87 L196.16 773.84 L196.66 773.81 L197.15 773.78 L197.65 773.75 L198.15 773.72 L198.64 773.69 L199.14 773.67 L199.64 773.64 L200.13 773.62 L200.63 773.6 L201.13 773.58 L201.62 773.56 L202.12 773.55 L202.62 773.54 L203.12 773.53 L203.61 773.52 L204.11 773.51 L204.61 773.51 L205.1 773.51 L205.6 773.51 L206.1 773.52 L206.59 773.52 L207.09 773.53 L207.59 773.54 L208.08 773.56 L208.58 773.57 L209.08 773.59 L209.58 773.61 L210.07 773.63 L210.57 773.65 L211.07 773.68 L211.56 773.7 L212.06 773.73 L212.56 773.76 L213.05 773.79 L213.55 773.82 L214.05 773.86 L214.54 773.89 L215.04 773.92 L215.54 773.96 L216.03 773.99 L216.53 774.03 L217.03 774.06 L217.53 774.1 L218.02 774.13 L218.52 774.17 L219.02 774.2 L219.51 774.24 L220.01 774.27 L220.51 774.3 L221 774.33 L221.5 774.37 L222 774.4 L222.49 774.43 L222.99 774.45 L223.49 774.48 L223.98 774.51 L224.48 774.54 L224.98 774.56 L225.48 774.58 L225.97 774.61 L226.47 774.63 L226.97 774.65 L227.46 774.67 L227.96 774.69 L228.46 774.7 L228.95 774.72 L229.45 774.73 L229.95 774.75 L230.44 774.76 L230.94 774.77 L231.44 774.79 L231.93 774.8 L232.43 774.81 L232.93 774.82 L233.43 774.83 L233.92 774.83 L234.42 774.84 L234.92 774.85 L235.41 774.85 L235.91 774.86 L236.41 774.86 L236.9 774.87 L237.4 774.87 L237.9 774.88 L238.39 774.88 L238.89 774.88 L239.39 774.89 L239.88 774.89 L240.38 774.89 L240.88 774.89 L241.38 774.9 L241.87 774.9 L242.37 774.9 L242.87 774.9 L243.36 774.9 L243.86 774.9 L244.36 774.9 L244.85 774.9 L245.35 774.91 L245.85 774.91 L246.34 774.91 L246.84 774.91 L247.34 774.91 L247.83 774.91 L248.33 774.91 L248.83 774.91 L249.33 774.91 L249.82 774.91 L250.32 774.91 L250.82 774.91 L251.31 774.91 L251.81 774.91 L252.31 774.91 L252.8 774.91 L253.3 774.91 L253.3 775.36 Z" fill="url(#gdup)"/>
<path d="M71.8 785.8 L71.8 785.27 L72.36 785.24 L72.92 785.21 L73.48 785.16 L74.04 785.1 L74.6 785.02 L75.16 784.93 L75.72 784.81 L76.28 784.68 L76.84 784.52 L77.4 784.34 L77.96 784.14 L78.52 783.92 L79.08 783.71 L79.64 783.49 L80.2 783.27 L80.76 783.08 L81.32 782.91 L81.88 782.78 L82.44 782.69 L83 782.63 L83.56 782.62 L84.12 782.65 L84.68 782.71 L85.24 782.79 L85.8 782.89 L86.36 783 L86.92 783.09 L87.48 783.18 L88.04 783.24 L88.6 783.27 L89.16 783.28 L89.72 783.27 L90.28 783.23 L90.84 783.19 L91.4 783.14 L91.96 783.09 L92.52 783.05 L93.08 783.03 L93.64 783.04 L94.2 783.07 L94.76 783.13 L95.32 783.21 L95.88 783.31 L96.44 783.44 L97 783.57 L97.56 783.7 L98.12 783.84 L98.68 783.97 L99.24 784.09 L99.8 784.19 L100.36 784.29 L100.92 784.36 L101.48 784.42 L102.04 784.47 L102.6 784.51 L103.16 784.53 L103.72 784.55 L104.28 784.56 L104.84 784.56 L105.4 784.57 L105.96 784.56 L106.52 784.56 L107.08 784.56 L107.64 784.56 L108.2 784.55 L108.76 784.55 L109.32 784.55 L109.88 784.55 L110.44 784.55 L111 784.55 L111.56 784.55 L112.12 784.56 L112.68 784.56 L113.24 784.57 L113.8 784.58 L114.36 784.58 L114.92 784.59 L115.48 784.6 L116.04 784.61 L116.6 784.62 L117.16 784.64 L117.72 784.65 L118.28 784.66 L118.84 784.68 L119.4 784.69 L119.96 784.71 L120.52 784.72 L121.08 784.74 L121.64 784.76 L122.2 784.78 L122.76 784.79 L123.32 784.81 L123.88 784.83 L124.44 784.85 L125 784.86 L125.56 784.88 L126.12 784.9 L126.68 784.92 L127.24 784.94 L127.8 784.95 L128.36 784.97 L128.92 784.99 L129.48 785.01 L130.04 785.02 L130.6 785.04 L131.16 785.05 L131.72 785.07 L132.28 785.08 L132.84 785.1 L133.4 785.11 L133.96 785.13 L134.52 785.14 L135.08 785.15 L135.64 785.16 L136.2 785.17 L136.76 785.18 L137.32 785.18 L137.88 785.17 L138.44 785.14 L139 785.08 L139.56 784.98 L140.12 784.81 L140.68 784.56 L141.24 784.19 L141.8 783.69 L142.36 783.05 L142.92 782.3 L143.48 781.47 L144.04 780.62 L144.6 779.83 L145.16 779.21 L145.72 778.81 L146.28 778.71 L146.84 778.91 L147.4 779.38 L147.96 780.07 L148.52 780.89 L149.08 781.75 L149.64 782.58 L150.2 783.31 L150.76 783.91 L151.32 784.38 L151.88 784.73 L152.44 784.96 L153 785.12 L153.56 785.22 L154.12 785.28 L154.68 785.31 L155.24 785.33 L155.8 785.34 L156.36 785.34 L156.92 785.34 L157.48 785.34 L158.04 785.35 L158.6 785.35 L159.16 785.35 L159.72 785.35 L160.28 785.35 L160.84 785.35 L161.4 785.35 L161.4 785.8 Z" fill="url(#gdel)"/>
<path d="M173.8 785.8 L173.8 784.97 L174.3 784.68 L174.79 784.21 L175.29 783.51 L175.79 782.53 L176.28 781.23 L176.78 779.64 L177.28 777.82 L177.78 775.91 L178.27 774.09 L178.77 772.57 L179.27 771.53 L179.76 771.12 L180.26 771.36 L180.76 772.2 L181.25 773.51 L181.75 775.09 L182.25 776.76 L182.74 778.33 L183.24 779.72 L183.74 780.85 L184.23 781.74 L184.73 782.42 L185.23 782.94 L185.73 783.34 L186.22 783.66 L186.72 783.94 L187.22 784.18 L187.71 784.4 L188.21 784.6 L188.71 784.76 L189.2 784.9 L189.7 785.02 L190.2 785.11 L190.69 785.18 L191.19 785.24 L191.69 785.27 L192.18 785.3 L192.68 785.32 L193.18 785.33 L193.68 785.34 L194.17 785.34 L194.67 785.35 L195.17 785.35 L195.66 785.35 L196.16 785.35 L196.66 785.35 L197.15 785.35 L197.65 785.35 L198.15 785.35 L198.64 785.35 L199.14 785.35 L199.64 785.35 L200.13 785.35 L200.63 785.35 L201.13 785.35 L201.62 785.35 L202.12 785.35 L202.62 785.35 L203.12 785.35 L203.61 785.35 L204.11 785.35 L204.61 785.35 L205.1 785.35 L205.6 785.35 L206.1 785.35 L206.59 785.35 L207.09 785.35 L207.59 785.35 L208.08 785.35 L208.58 785.35 L209.08 785.35 L209.58 785.35 L210.07 785.35 L210.57 785.35 L211.07 785.35 L211.56 785.35 L212.06 785.35 L212.56 785.35 L213.05 785.35 L213.55 785.35 L214.05 785.35 L214.54 785.35 L215.04 785.35 L215.54 785.35 L216.03 785.35 L216.53 785.35 L217.03 785.35 L217.53 785.35 L218.02 785.35 L218.52 785.35 L219.02 785.35 L219.51 785.35 L220.01 785.35 L220.51 785.35 L221 785.35 L221.5 785.35 L222 785.35 L222.49 785.35 L222.99 785.35 L223.49 785.35 L223.98 785.35 L224.48 785.35 L224.98 785.35 L225.48 785.35 L225.97 785.35 L226.47 785.35 L226.97 785.35 L227.46 785.35 L227.96 785.35 L228.46 785.35 L228.95 785.35 L229.45 785.35 L229.95 785.35 L230.44 785.35 L230.94 785.35 L231.44 785.35 L231.93 785.35 L232.43 785.35 L232.93 785.35 L233.43 785.35 L233.92 785.35 L234.42 785.35 L234.92 785.35 L235.41 785.35 L235.91 785.35 L236.41 785.35 L236.9 785.35 L237.4 785.35 L237.9 785.35 L238.39 785.35 L238.89 785.35 L239.39 785.35 L239.88 785.35 L240.38 785.35 L240.88 785.35 L241.38 785.35 L241.87 785.35 L242.37 785.35 L242.87 785.35 L243.36 785.35 L243.86 785.35 L244.36 785.35 L244.85 785.35 L245.35 785.35 L245.85 785.35 L246.34 785.35 L246.84 785.35 L247.34 785.35 L247.83 785.35 L248.33 785.35 L248.83 785.35 L249.33 785.35 L249.82 785.35 L250.32 785.35 L250.82 785.35 L251.31 785.35 L251.81 785.35 L252.31 785.35 L252.8 785.35 L253.3 785.35 L253.3 785.8 Z" fill="url(#gdup)"/>
<path d="M71.8 796.24 L71.8 795.75 L72.36 795.74 L72.92 795.73 L73.48 795.71 L74.04 795.69 L74.6 795.66 L75.16 795.63 L75.72 795.58 L76.28 795.52 L76.84 795.46 L77.4 795.37 L77.96 795.28 L78.52 795.18 L79.08 795.06 L79.64 794.94 L80.2 794.82 L80.76 794.69 L81.32 794.58 L81.88 794.47 L82.44 794.38 L83 794.31 L83.56 794.27 L84.12 794.26 L84.68 794.27 L85.24 794.3 L85.8 794.36 L86.36 794.44 L86.92 794.53 L87.48 794.64 L88.04 794.74 L88.6 794.85 L89.16 794.95 L89.72 795.05 L90.28 795.13 L90.84 795.2 L91.4 795.26 L91.96 795.31 L92.52 795.34 L93.08 795.37 L93.64 795.38 L94.2 795.39 L94.76 795.39 L95.32 795.39 L95.88 795.39 L96.44 795.38 L97 795.37 L97.56 795.36 L98.12 795.35 L98.68 795.34 L99.24 795.33 L99.8 795.31 L100.36 795.3 L100.92 795.29 L101.48 795.28 L102.04 795.27 L102.6 795.26 L103.16 795.25 L103.72 795.24 L104.28 795.23 L104.84 795.22 L105.4 795.22 L105.96 795.21 L106.52 795.21 L107.08 795.2 L107.64 795.2 L108.2 795.19 L108.76 795.19 L109.32 795.19 L109.88 795.19 L110.44 795.19 L111 795.19 L111.56 795.19 L112.12 795.2 L112.68 795.2 L113.24 795.2 L113.8 795.21 L114.36 795.21 L114.92 795.22 L115.48 795.23 L116.04 795.24 L116.6 795.25 L117.16 795.25 L117.72 795.26 L118.28 795.27 L118.84 795.29 L119.4 795.3 L119.96 795.31 L120.52 795.32 L121.08 795.33 L121.64 795.35 L122.2 795.36 L122.76 795.37 L123.32 795.39 L123.88 795.4 L124.44 795.41 L125 795.43 L125.56 795.44 L126.12 795.45 L126.68 795.47 L127.24 795.48 L127.8 795.49 L128.36 795.51 L128.92 795.52 L129.48 795.53 L130.04 795.54 L130.6 795.56 L131.16 795.57 L131.72 795.58 L132.28 795.59 L132.84 795.6 L133.4 795.61 L133.96 795.62 L134.52 795.63 L135.08 795.64 L135.64 795.65 L136.2 795.66 L136.76 795.66 L137.32 795.66 L137.88 795.65 L138.44 795.63 L139 795.58 L139.56 795.5 L140.12 795.37 L140.68 795.16 L141.24 794.85 L141.8 794.43 L142.36 793.89 L142.92 793.24 L143.48 792.52 L144.04 791.77 L144.6 791.06 L145.16 790.47 L145.72 790.06 L146.28 789.89 L146.84 789.96 L147.4 790.23 L147.96 790.64 L148.52 791.08 L149.08 791.46 L149.64 791.67 L150.2 791.64 L150.76 791.36 L151.32 790.83 L151.88 790.14 L152.44 789.38 L153 788.69 L153.56 788.17 L154.12 787.94 L154.68 788.03 L155.24 788.46 L155.8 789.17 L156.36 790.08 L156.92 791.09 L157.48 792.09 L158.04 793.01 L158.6 793.8 L159.16 794.43 L159.72 794.9 L160.28 795.23 L160.84 795.46 L161.4 795.6 L161.4 796.24 Z" fill="url(#gdel)"/>
<path d="M173.8 796.24 L173.8 795.43 L174.3 795.15 L174.79 794.69 L175.29 794 L175.79 793.02 L176.28 791.72 L176.78 790.09 L177.28 788.21 L177.78 786.2 L178.27 784.26 L178.77 782.61 L179.27 781.45 L179.76 780.94 L180.26 781.15 L180.76 782.02 L181.25 783.41 L181.75 785.13 L182.25 786.95 L182.74 788.69 L183.24 790.2 L183.74 791.43 L184.23 792.36 L184.73 793.04 L185.23 793.51 L185.73 793.85 L186.22 794.09 L186.72 794.29 L187.22 794.46 L187.71 794.62 L188.21 794.77 L188.71 794.9 L189.2 795.03 L189.7 795.13 L190.2 795.22 L190.69 795.29 L191.19 795.34 L191.69 795.37 L192.18 795.39 L192.68 795.4 L193.18 795.41 L193.68 795.4 L194.17 795.39 L194.67 795.38 L195.17 795.37 L195.66 795.36 L196.16 795.34 L196.66 795.33 L197.15 795.32 L197.65 795.31 L198.15 795.3 L198.64 795.3 L199.14 795.29 L199.64 795.29 L200.13 795.29 L200.63 795.29 L201.13 795.29 L201.62 795.3 L202.12 795.31 L202.62 795.32 L203.12 795.33 L203.61 795.34 L204.11 795.35 L204.61 795.37 L205.1 795.38 L205.6 795.4 L206.1 795.42 L206.59 795.43 L207.09 795.45 L207.59 795.47 L208.08 795.49 L208.58 795.51 L209.08 795.53 L209.58 795.55 L210.07 795.56 L210.57 795.58 L211.07 795.6 L211.56 795.61 L212.06 795.63 L212.56 795.64 L213.05 795.66 L213.55 795.67 L214.05 795.68 L214.54 795.69 L215.04 795.7 L215.54 795.71 L216.03 795.72 L216.53 795.73 L217.03 795.74 L217.53 795.74 L218.02 795.75 L218.52 795.76 L219.02 795.76 L219.51 795.76 L220.01 795.77 L220.51 795.77 L221 795.77 L221.5 795.78 L222 795.78 L222.49 795.78 L222.99 795.78 L223.49 795.78 L223.98 795.78 L224.48 795.79 L224.98 795.79 L225.48 795.79 L225.97 795.79 L226.47 795.79 L226.97 795.79 L227.46 795.79 L227.96 795.79 L228.46 795.79 L228.95 795.79 L229.45 795.79 L229.95 795.79 L230.44 795.79 L230.94 795.79 L231.44 795.79 L231.93 795.79 L232.43 795.79 L232.93 795.79 L233.43 795.79 L233.92 795.79 L234.42 795.79 L234.92 795.79 L235.41 795.79 L235.91 795.79 L236.41 795.79 L236.9 795.79 L237.4 795.79 L237.9 795.79 L238.39 795.79 L238.89 795.79 L239.39 795.79 L239.88 795.79 L240.38 795.79 L240.88 795.79 L241.38 795.79 L241.87 795.79 L242.37 795.79 L242.87 795.79 L243.36 795.79 L243.86 795.79 L244.36 795.79 L244.85 795.79 L245.35 795.79 L245.85 795.79 L246.34 795.79 L246.84 795.79 L247.34 795.79 L247.83 795.79 L248.33 795.79 L248.83 795.79 L249.33 795.79 L249.82 795.79 L250.32 795.79 L250.82 795.79 L251.31 795.79 L251.81 795.79 L252.31 795.79 L252.8 795.79 L253.3 795.79 L253.3 796.24 Z" fill="url(#gdup)"/>
<path d="M71.8 806.68 L71.8 806.21 L72.36 806.21 L72.92 806.21 L73.48 806.21 L74.04 806.21 L74.6 806.21 L75.16 806.2 L75.72 806.2 L76.28 806.2 L76.84 806.2 L77.4 806.19 L77.96 806.19 L78.52 806.19 L79.08 806.18 L79.64 806.18 L80.2 806.17 L80.76 806.17 L81.32 806.17 L81.88 806.16 L82.44 806.16 L83 806.15 L83.56 806.15 L84.12 806.14 L84.68 806.13 L85.24 806.13 L85.8 806.12 L86.36 806.11 L86.92 806.11 L87.48 806.1 L88.04 806.09 L88.6 806.09 L89.16 806.08 L89.72 806.07 L90.28 806.06 L90.84 806.05 L91.4 806.04 L91.96 806.04 L92.52 806.03 L93.08 806.02 L93.64 806.01 L94.2 806 L94.76 805.99 L95.32 805.98 L95.88 805.97 L96.44 805.96 L97 805.96 L97.56 805.95 L98.12 805.94 L98.68 805.93 L99.24 805.92 L99.8 805.91 L100.36 805.9 L100.92 805.9 L101.48 805.89 L102.04 805.88 L102.6 805.88 L103.16 805.87 L103.72 805.86 L104.28 805.86 L104.84 805.85 L105.4 805.85 L105.96 805.84 L106.52 805.84 L107.08 805.84 L107.64 805.83 L108.2 805.83 L108.76 805.83 L109.32 805.83 L109.88 805.83 L110.44 805.83 L111 805.83 L111.56 805.83 L112.12 805.83 L112.68 805.84 L113.24 805.84 L113.8 805.84 L114.36 805.85 L114.92 805.85 L115.48 805.86 L116.04 805.86 L116.6 805.87 L117.16 805.87 L117.72 805.88 L118.28 805.89 L118.84 805.89 L119.4 805.9 L119.96 805.91 L120.52 805.92 L121.08 805.93 L121.64 805.93 L122.2 805.94 L122.76 805.95 L123.32 805.96 L123.88 805.97 L124.44 805.98 L125 805.99 L125.56 805.99 L126.12 806 L126.68 806.01 L127.24 806.02 L127.8 806.02 L128.36 806.03 L128.92 806.03 L129.48 806.03 L130.04 806.03 L130.6 806.03 L131.16 806.03 L131.72 806.02 L132.28 806 L132.84 805.98 L133.4 805.96 L133.96 805.92 L134.52 805.89 L135.08 805.84 L135.64 805.79 L136.2 805.72 L136.76 805.65 L137.32 805.57 L137.88 805.46 L138.44 805.33 L139 805.14 L139.56 804.86 L140.12 804.44 L140.68 803.84 L141.24 802.97 L141.8 801.79 L142.36 800.25 L142.92 798.38 L143.48 796.26 L144.04 794.03 L144.6 791.91 L145.16 790.16 L145.72 788.99 L146.28 788.58 L146.84 788.99 L147.4 790.14 L147.96 791.88 L148.52 793.97 L149.08 796.17 L149.64 798.25 L150.2 800.07 L150.76 801.53 L151.32 802.64 L151.88 803.44 L152.44 803.99 L153 804.37 L153.56 804.64 L154.12 804.86 L154.68 805.04 L155.24 805.21 L155.8 805.38 L156.36 805.54 L156.92 805.68 L157.48 805.81 L158.04 805.92 L158.6 806.01 L159.16 806.07 L159.72 806.12 L160.28 806.16 L160.84 806.19 L161.4 806.2 L161.4 806.68 Z" fill="url(#gdel)"/>
<path d="M173.8 806.68 L173.8 805.95 L174.3 805.83 L174.79 805.63 L175.29 805.33 L175.79 804.89 L176.28 804.27 L176.78 803.46 L177.28 802.46 L177.78 801.31 L178.27 800.09 L178.77 798.9 L179.27 797.89 L179.76 797.16 L180.26 796.83 L180.76 796.92 L181.25 797.41 L181.75 798.21 L182.25 799.21 L182.74 800.27 L183.24 801.28 L183.74 802.16 L184.23 802.86 L184.73 803.38 L185.23 803.73 L185.73 803.94 L186.22 804.06 L186.72 804.11 L187.22 804.13 L187.71 804.13 L188.21 804.12 L188.71 804.12 L189.2 804.13 L189.7 804.14 L190.2 804.16 L190.69 804.19 L191.19 804.23 L191.69 804.28 L192.18 804.33 L192.68 804.39 L193.18 804.45 L193.68 804.51 L194.17 804.58 L194.67 804.64 L195.17 804.71 L195.66 804.77 L196.16 804.84 L196.66 804.9 L197.15 804.95 L197.65 805.01 L198.15 805.06 L198.64 805.1 L199.14 805.15 L199.64 805.19 L200.13 805.22 L200.63 805.26 L201.13 805.29 L201.62 805.31 L202.12 805.34 L202.62 805.36 L203.12 805.37 L203.61 805.38 L204.11 805.39 L204.61 805.39 L205.1 805.38 L205.6 805.36 L206.1 805.34 L206.59 805.29 L207.09 805.24 L207.59 805.18 L208.08 805.1 L208.58 805.02 L209.08 804.94 L209.58 804.87 L210.07 804.8 L210.57 804.75 L211.07 804.73 L211.56 804.73 L212.06 804.75 L212.56 804.81 L213.05 804.88 L213.55 804.98 L214.05 805.09 L214.54 805.21 L215.04 805.33 L215.54 805.44 L216.03 805.55 L216.53 805.65 L217.03 805.73 L217.53 805.8 L218.02 805.86 L218.52 805.91 L219.02 805.95 L219.51 805.98 L220.01 806.01 L220.51 806.03 L221 806.05 L221.5 806.06 L222 806.08 L222.49 806.09 L222.99 806.1 L223.49 806.11 L223.98 806.12 L224.48 806.13 L224.98 806.14 L225.48 806.15 L225.97 806.15 L226.47 806.16 L226.97 806.17 L227.46 806.17 L227.96 806.18 L228.46 806.18 L228.95 806.19 L229.45 806.19 L229.95 806.19 L230.44 806.2 L230.94 806.2 L231.44 806.2 L231.93 806.21 L232.43 806.21 L232.93 806.21 L233.43 806.21 L233.92 806.22 L234.42 806.22 L234.92 806.22 L235.41 806.22 L235.91 806.22 L236.41 806.22 L236.9 806.22 L237.4 806.22 L237.9 806.22 L238.39 806.23 L238.89 806.23 L239.39 806.23 L239.88 806.23 L240.38 806.23 L240.88 806.23 L241.38 806.23 L241.87 806.23 L242.37 806.23 L242.87 806.23 L243.36 806.23 L243.86 806.23 L244.36 806.23 L244.85 806.23 L245.35 806.23 L245.85 806.23 L246.34 806.23 L246.84 806.23 L247.34 806.23 L247.83 806.23 L248.33 806.23 L248.83 806.23 L249.33 806.23 L249.82 806.23 L250.32 806.23 L250.82 806.23 L251.31 806.23 L251.81 806.23 L252.31 806.23 L252.8 806.23 L253.3 806.23 L253.3 806.68 Z" fill="url(#gdup)"/>
<path d="M71.8 817.12 L71.8 816.62 L72.36 816.62 L72.92 816.61 L73.48 816.61 L74.04 816.6 L74.6 816.6 L75.16 816.59 L75.72 816.59 L76.28 816.58 L76.84 816.58 L77.4 816.57 L77.96 816.57 L78.52 816.56 L79.08 816.56 L79.64 816.55 L80.2 816.54 L80.76 816.54 L81.32 816.53 L81.88 816.53 L82.44 816.52 L83 816.51 L83.56 816.51 L84.12 816.5 L84.68 816.49 L85.24 816.48 L85.8 816.48 L86.36 816.47 L86.92 816.46 L87.48 816.46 L88.04 816.45 L88.6 816.44 L89.16 816.43 L89.72 816.43 L90.28 816.42 L90.84 816.41 L91.4 816.4 L91.96 816.39 L92.52 816.37 L93.08 816.36 L93.64 816.34 L94.2 816.32 L94.76 816.3 L95.32 816.27 L95.88 816.23 L96.44 816.19 L97 816.15 L97.56 816.1 L98.12 816.04 L98.68 815.98 L99.24 815.92 L99.8 815.85 L100.36 815.77 L100.92 815.7 L101.48 815.63 L102.04 815.56 L102.6 815.49 L103.16 815.43 L103.72 815.38 L104.28 815.34 L104.84 815.31 L105.4 815.29 L105.96 815.29 L106.52 815.31 L107.08 815.33 L107.64 815.37 L108.2 815.42 L108.76 815.48 L109.32 815.55 L109.88 815.63 L110.44 815.71 L111 815.79 L111.56 815.87 L112.12 815.95 L112.68 816.02 L113.24 816.09 L113.8 816.16 L114.36 816.22 L114.92 816.27 L115.48 816.32 L116.04 816.36 L116.6 816.4 L117.16 816.43 L117.72 816.45 L118.28 816.48 L118.84 816.5 L119.4 816.51 L119.96 816.53 L120.52 816.54 L121.08 816.55 L121.64 816.56 L122.2 816.56 L122.76 816.57 L123.32 816.58 L123.88 816.58 L124.44 816.59 L125 816.59 L125.56 816.6 L126.12 816.6 L126.68 816.6 L127.24 816.61 L127.8 816.61 L128.36 816.61 L128.92 816.61 L129.48 816.6 L130.04 816.6 L130.6 816.59 L131.16 816.58 L131.72 816.56 L132.28 816.54 L132.84 816.52 L133.4 816.49 L133.96 816.45 L134.52 816.41 L135.08 816.36 L135.64 816.3 L136.2 816.24 L136.76 816.16 L137.32 816.07 L137.88 815.96 L138.44 815.81 L139 815.61 L139.56 815.33 L140.12 814.9 L140.68 814.28 L141.24 813.41 L141.8 812.24 L142.36 810.73 L142.92 808.92 L143.48 806.89 L144.04 804.8 L144.6 802.87 L145.16 801.32 L145.72 800.36 L146.28 800.15 L146.84 800.71 L147.4 801.97 L147.96 803.76 L148.52 805.87 L149.08 808.04 L149.64 810.09 L150.2 811.87 L150.76 813.31 L151.32 814.41 L151.88 815.2 L152.44 815.74 L153 816.09 L153.56 816.31 L154.12 816.44 L154.68 816.52 L155.24 816.57 L155.8 816.6 L156.36 816.62 L156.92 816.64 L157.48 816.65 L158.04 816.65 L158.6 816.66 L159.16 816.66 L159.72 816.66 L160.28 816.67 L160.84 816.67 L161.4 816.67 L161.4 817.12 Z" fill="url(#gdel)"/>
<path d="M173.8 817.12 L173.8 816.35 L174.3 816.19 L174.79 815.94 L175.29 815.56 L175.79 815.03 L176.28 814.3 L176.78 813.38 L177.28 812.26 L177.78 811.01 L178.27 809.71 L178.77 808.47 L179.27 807.43 L179.76 806.7 L180.26 806.38 L180.76 806.5 L181.25 807.03 L181.75 807.9 L182.25 808.99 L182.74 810.17 L183.24 811.32 L183.74 812.34 L184.23 813.2 L184.73 813.85 L185.23 814.33 L185.73 814.65 L186.22 814.85 L186.72 814.96 L187.22 815.02 L187.71 815.04 L188.21 815.06 L188.71 815.06 L189.2 815.07 L189.7 815.07 L190.2 815.09 L190.69 815.11 L191.19 815.14 L191.69 815.17 L192.18 815.2 L192.68 815.24 L193.18 815.28 L193.68 815.33 L194.17 815.37 L194.67 815.41 L195.17 815.46 L195.66 815.5 L196.16 815.54 L196.66 815.58 L197.15 815.61 L197.65 815.64 L198.15 815.67 L198.64 815.7 L199.14 815.72 L199.64 815.74 L200.13 815.76 L200.63 815.78 L201.13 815.79 L201.62 815.8 L202.12 815.81 L202.62 815.82 L203.12 815.83 L203.61 815.83 L204.11 815.84 L204.61 815.84 L205.1 815.85 L205.6 815.85 L206.1 815.86 L206.59 815.87 L207.09 815.87 L207.59 815.88 L208.08 815.88 L208.58 815.89 L209.08 815.9 L209.58 815.91 L210.07 815.92 L210.57 815.93 L211.07 815.94 L211.56 815.95 L212.06 815.97 L212.56 815.98 L213.05 815.99 L213.55 816.01 L214.05 816.02 L214.54 816.04 L215.04 816.05 L215.54 816.07 L216.03 816.08 L216.53 816.1 L217.03 816.12 L217.53 816.13 L218.02 816.15 L218.52 816.17 L219.02 816.19 L219.51 816.2 L220.01 816.22 L220.51 816.24 L221 816.25 L221.5 816.27 L222 816.29 L222.49 816.3 L222.99 816.32 L223.49 816.34 L223.98 816.35 L224.48 816.37 L224.98 816.38 L225.48 816.4 L225.97 816.41 L226.47 816.42 L226.97 816.44 L227.46 816.45 L227.96 816.46 L228.46 816.47 L228.95 816.48 L229.45 816.5 L229.95 816.51 L230.44 816.52 L230.94 816.53 L231.44 816.54 L231.93 816.54 L232.43 816.55 L232.93 816.56 L233.43 816.57 L233.92 816.58 L234.42 816.58 L234.92 816.59 L235.41 816.59 L235.91 816.6 L236.41 816.61 L236.9 816.61 L237.4 816.62 L237.9 816.62 L238.39 816.62 L238.89 816.63 L239.39 816.63 L239.88 816.63 L240.38 816.64 L240.88 816.64 L241.38 816.64 L241.87 816.65 L242.37 816.65 L242.87 816.65 L243.36 816.65 L243.86 816.65 L244.36 816.65 L244.85 816.66 L245.35 816.66 L245.85 816.66 L246.34 816.66 L246.84 816.66 L247.34 816.66 L247.83 816.66 L248.33 816.66 L248.83 816.66 L249.33 816.66 L249.82 816.67 L250.32 816.67 L250.82 816.67 L251.31 816.67 L251.81 816.67 L252.31 816.67 L252.8 816.67 L253.3 816.67 L253.3 817.12 Z" fill="url(#gdup)"/>
<path d="M71.8 827.56 L71.8 827.07 L72.36 827.05 L72.92 827.03 L73.48 827.01 L74.04 826.98 L74.6 826.94 L75.16 826.9 L75.72 826.84 L76.28 826.78 L76.84 826.71 L77.4 826.63 L77.96 826.54 L78.52 826.46 L79.08 826.37 L79.64 826.28 L80.2 826.21 L80.76 826.14 L81.32 826.09 L81.88 826.05 L82.44 826.04 L83 826.04 L83.56 826.06 L84.12 826.1 L84.68 826.15 L85.24 826.22 L85.8 826.29 L86.36 826.37 L86.92 826.44 L87.48 826.52 L88.04 826.59 L88.6 826.65 L89.16 826.71 L89.72 826.75 L90.28 826.79 L90.84 826.82 L91.4 826.84 L91.96 826.85 L92.52 826.86 L93.08 826.87 L93.64 826.87 L94.2 826.87 L94.76 826.86 L95.32 826.86 L95.88 826.85 L96.44 826.84 L97 826.83 L97.56 826.83 L98.12 826.82 L98.68 826.81 L99.24 826.8 L99.8 826.79 L100.36 826.78 L100.92 826.78 L101.48 826.77 L102.04 826.76 L102.6 826.76 L103.16 826.75 L103.72 826.74 L104.28 826.74 L104.84 826.73 L105.4 826.73 L105.96 826.72 L106.52 826.72 L107.08 826.72 L107.64 826.71 L108.2 826.71 L108.76 826.71 L109.32 826.71 L109.88 826.71 L110.44 826.71 L111 826.71 L111.56 826.71 L112.12 826.71 L112.68 826.72 L113.24 826.72 L113.8 826.72 L114.36 826.73 L114.92 826.73 L115.48 826.74 L116.04 826.74 L116.6 826.75 L117.16 826.75 L117.72 826.76 L118.28 826.77 L118.84 826.77 L119.4 826.78 L119.96 826.79 L120.52 826.8 L121.08 826.81 L121.64 826.81 L122.2 826.82 L122.76 826.83 L123.32 826.84 L123.88 826.85 L124.44 826.85 L125 826.86 L125.56 826.86 L126.12 826.85 L126.68 826.82 L127.24 826.78 L127.8 826.71 L128.36 826.61 L128.92 826.46 L129.48 826.26 L130.04 826.01 L130.6 825.73 L131.16 825.42 L131.72 825.12 L132.28 824.86 L132.84 824.66 L133.4 824.54 L133.96 824.53 L134.52 824.6 L135.08 824.76 L135.64 824.98 L136.2 825.21 L136.76 825.43 L137.32 825.62 L137.88 825.75 L138.44 825.79 L139 825.74 L139.56 825.55 L140.12 825.2 L140.68 824.63 L141.24 823.78 L141.8 822.63 L142.36 821.13 L142.92 819.32 L143.48 817.3 L144.04 815.21 L144.6 813.28 L145.16 811.73 L145.72 810.78 L146.28 810.57 L146.84 811.13 L147.4 812.39 L147.96 814.19 L148.52 816.29 L149.08 818.47 L149.64 820.52 L150.2 822.3 L150.76 823.74 L151.32 824.84 L151.88 825.63 L152.44 826.17 L153 826.52 L153.56 826.74 L154.12 826.88 L154.68 826.96 L155.24 827.01 L155.8 827.04 L156.36 827.06 L156.92 827.07 L157.48 827.08 L158.04 827.09 L158.6 827.1 L159.16 827.1 L159.72 827.1 L160.28 827.1 L160.84 827.11 L161.4 827.11 L161.4 827.56 Z" fill="url(#gdel)"/>
<path d="M173.8 827.56 L173.8 827.11 L174.3 827.11 L174.79 827.11 L175.29 827.1 L175.79 827.1 L176.28 827.1 L176.78 827.1 L177.28 827.09 L177.78 827.09 L178.27 827.08 L178.77 827.07 L179.27 827.06 L179.76 827.05 L180.26 827.03 L180.76 827 L181.25 826.97 L181.75 826.94 L182.25 826.89 L182.74 826.84 L183.24 826.78 L183.74 826.71 L184.23 826.63 L184.73 826.54 L185.23 826.45 L185.73 826.34 L186.22 826.23 L186.72 826.11 L187.22 825.99 L187.71 825.87 L188.21 825.74 L188.71 825.62 L189.2 825.5 L189.7 825.39 L190.2 825.28 L190.69 825.17 L191.19 825.07 L191.69 824.97 L192.18 824.88 L192.68 824.79 L193.18 824.7 L193.68 824.61 L194.17 824.52 L194.67 824.43 L195.17 824.34 L195.66 824.25 L196.16 824.16 L196.66 824.07 L197.15 823.98 L197.65 823.89 L198.15 823.81 L198.64 823.74 L199.14 823.67 L199.64 823.61 L200.13 823.57 L200.63 823.53 L201.13 823.51 L201.62 823.49 L202.12 823.5 L202.62 823.51 L203.12 823.54 L203.61 823.57 L204.11 823.62 L204.61 823.68 L205.1 823.75 L205.6 823.82 L206.1 823.9 L206.59 823.99 L207.09 824.08 L207.59 824.17 L208.08 824.27 L208.58 824.36 L209.08 824.45 L209.58 824.55 L210.07 824.64 L210.57 824.72 L211.07 824.81 L211.56 824.89 L212.06 824.97 L212.56 825.04 L213.05 825.12 L213.55 825.19 L214.05 825.25 L214.54 825.32 L215.04 825.38 L215.54 825.44 L216.03 825.5 L216.53 825.56 L217.03 825.62 L217.53 825.68 L218.02 825.73 L218.52 825.79 L219.02 825.85 L219.51 825.9 L220.01 825.96 L220.51 826.02 L221 826.08 L221.5 826.13 L222 826.19 L222.49 826.24 L222.99 826.3 L223.49 826.35 L223.98 826.4 L224.48 826.45 L224.98 826.5 L225.48 826.55 L225.97 826.6 L226.47 826.64 L226.97 826.68 L227.46 826.72 L227.96 826.76 L228.46 826.79 L228.95 826.82 L229.45 826.85 L229.95 826.88 L230.44 826.91 L230.94 826.93 L231.44 826.95 L231.93 826.97 L232.43 826.99 L232.93 827 L233.43 827.02 L233.92 827.03 L234.42 827.04 L234.92 827.05 L235.41 827.06 L235.91 827.07 L236.41 827.07 L236.9 827.08 L237.4 827.08 L237.9 827.09 L238.39 827.09 L238.89 827.09 L239.39 827.1 L239.88 827.1 L240.38 827.1 L240.88 827.1 L241.38 827.1 L241.87 827.11 L242.37 827.11 L242.87 827.11 L243.36 827.11 L243.86 827.11 L244.36 827.11 L244.85 827.11 L245.35 827.11 L245.85 827.11 L246.34 827.11 L246.84 827.11 L247.34 827.11 L247.83 827.11 L248.33 827.11 L248.83 827.11 L249.33 827.11 L249.82 827.11 L250.32 827.11 L250.82 827.11 L251.31 827.11 L251.81 827.11 L252.31 827.11 L252.8 827.11 L253.3 827.11 L253.3 827.56 Z" fill="url(#gdup)"/>
<path d="M71.8 838 L71.8 837.5 L72.36 837.5 L72.92 837.49 L73.48 837.49 L74.04 837.48 L74.6 837.48 L75.16 837.47 L75.72 837.47 L76.28 837.46 L76.84 837.46 L77.4 837.45 L77.96 837.45 L78.52 837.44 L79.08 837.44 L79.64 837.43 L80.2 837.42 L80.76 837.42 L81.32 837.41 L81.88 837.41 L82.44 837.4 L83 837.39 L83.56 837.39 L84.12 837.38 L84.68 837.37 L85.24 837.37 L85.8 837.36 L86.36 837.35 L86.92 837.34 L87.48 837.34 L88.04 837.33 L88.6 837.33 L89.16 837.32 L89.72 837.31 L90.28 837.31 L90.84 837.3 L91.4 837.3 L91.96 837.29 L92.52 837.29 L93.08 837.28 L93.64 837.28 L94.2 837.27 L94.76 837.27 L95.32 837.26 L95.88 837.26 L96.44 837.26 L97 837.26 L97.56 837.25 L98.12 837.25 L98.68 837.25 L99.24 837.25 L99.8 837.25 L100.36 837.25 L100.92 837.25 L101.48 837.25 L102.04 837.25 L102.6 837.25 L103.16 837.25 L103.72 837.26 L104.28 837.26 L104.84 837.26 L105.4 837.26 L105.96 837.27 L106.52 837.27 L107.08 837.27 L107.64 837.27 L108.2 837.27 L108.76 837.28 L109.32 837.28 L109.88 837.28 L110.44 837.28 L111 837.28 L111.56 837.27 L112.12 837.27 L112.68 837.27 L113.24 837.26 L113.8 837.25 L114.36 837.25 L114.92 837.23 L115.48 837.22 L116.04 837.21 L116.6 837.19 L117.16 837.17 L117.72 837.15 L118.28 837.12 L118.84 837.1 L119.4 837.07 L119.96 837.04 L120.52 837.01 L121.08 836.97 L121.64 836.94 L122.2 836.9 L122.76 836.87 L123.32 836.83 L123.88 836.79 L124.44 836.76 L125 836.72 L125.56 836.68 L126.12 836.65 L126.68 836.62 L127.24 836.59 L127.8 836.56 L128.36 836.54 L128.92 836.52 L129.48 836.5 L130.04 836.48 L130.6 836.47 L131.16 836.46 L131.72 836.45 L132.28 836.44 L132.84 836.43 L133.4 836.41 L133.96 836.4 L134.52 836.38 L135.08 836.36 L135.64 836.34 L136.2 836.31 L136.76 836.27 L137.32 836.22 L137.88 836.15 L138.44 836.05 L139 835.89 L139.56 835.64 L140.12 835.26 L140.68 834.68 L141.24 833.85 L141.8 832.72 L142.36 831.25 L142.92 829.47 L143.48 827.47 L144.04 825.42 L144.6 823.51 L145.16 821.99 L145.72 821.06 L146.28 820.87 L146.84 821.45 L147.4 822.73 L147.96 824.54 L148.52 826.66 L149.08 828.84 L149.64 830.9 L150.2 832.69 L150.76 834.15 L151.32 835.25 L151.88 836.05 L152.44 836.59 L153 836.95 L153.56 837.17 L154.12 837.31 L154.68 837.39 L155.24 837.44 L155.8 837.47 L156.36 837.5 L156.92 837.51 L157.48 837.52 L158.04 837.53 L158.6 837.53 L159.16 837.54 L159.72 837.54 L160.28 837.54 L160.84 837.55 L161.4 837.55 L161.4 838 Z" fill="url(#gdel)"/>
<path d="M173.8 838 L173.8 837.22 L174.3 836.96 L174.79 836.54 L175.29 835.91 L175.79 835 L176.28 833.78 L176.78 832.22 L177.28 830.36 L177.78 828.28 L178.27 826.14 L178.77 824.13 L179.27 822.46 L179.76 821.31 L180.26 820.83 L180.76 821.06 L181.25 821.93 L181.75 823.32 L182.25 825.03 L182.74 826.87 L183.24 828.67 L183.74 830.29 L184.23 831.67 L184.73 832.79 L185.23 833.67 L185.73 834.37 L186.22 834.92 L186.72 835.36 L187.22 835.74 L187.71 836.06 L188.21 836.35 L188.71 836.6 L189.2 836.81 L189.7 836.99 L190.2 837.14 L190.69 837.25 L191.19 837.34 L191.69 837.41 L192.18 837.46 L192.68 837.49 L193.18 837.51 L193.68 837.53 L194.17 837.54 L194.67 837.54 L195.17 837.55 L195.66 837.55 L196.16 837.55 L196.66 837.55 L197.15 837.55 L197.65 837.55 L198.15 837.55 L198.64 837.55 L199.14 837.55 L199.64 837.55 L200.13 837.55 L200.63 837.55 L201.13 837.55 L201.62 837.55 L202.12 837.55 L202.62 837.55 L203.12 837.55 L203.61 837.55 L204.11 837.55 L204.61 837.55 L205.1 837.55 L205.6 837.55 L206.1 837.55 L206.59 837.55 L207.09 837.55 L207.59 837.55 L208.08 837.55 L208.58 837.55 L209.08 837.55 L209.58 837.55 L210.07 837.55 L210.57 837.55 L211.07 837.55 L211.56 837.55 L212.06 837.55 L212.56 837.55 L213.05 837.55 L213.55 837.55 L214.05 837.55 L214.54 837.55 L215.04 837.55 L215.54 837.55 L216.03 837.55 L216.53 837.55 L217.03 837.55 L217.53 837.55 L218.02 837.55 L218.52 837.55 L219.02 837.55 L219.51 837.55 L220.01 837.55 L220.51 837.55 L221 837.55 L221.5 837.55 L222 837.55 L222.49 837.55 L222.99 837.55 L223.49 837.55 L223.98 837.55 L224.48 837.55 L224.98 837.55 L225.48 837.55 L225.97 837.55 L226.47 837.55 L226.97 837.55 L227.46 837.55 L227.96 837.55 L228.46 837.55 L228.95 837.55 L229.45 837.55 L229.95 837.55 L230.44 837.55 L230.94 837.55 L231.44 837.55 L231.93 837.55 L232.43 837.55 L232.93 837.55 L233.43 837.55 L233.92 837.55 L234.42 837.55 L234.92 837.55 L235.41 837.55 L235.91 837.55 L236.41 837.55 L236.9 837.55 L237.4 837.55 L237.9 837.55 L238.39 837.55 L238.89 837.55 L239.39 837.55 L239.88 837.55 L240.38 837.55 L240.88 837.55 L241.38 837.55 L241.87 837.55 L242.37 837.55 L242.87 837.55 L243.36 837.55 L243.86 837.55 L244.36 837.55 L244.85 837.55 L245.35 837.55 L245.85 837.55 L246.34 837.55 L246.84 837.55 L247.34 837.55 L247.83 837.55 L248.33 837.55 L248.83 837.55 L249.33 837.55 L249.82 837.55 L250.32 837.55 L250.82 837.55 L251.31 837.55 L251.81 837.55 L252.31 837.55 L252.8 837.55 L253.3 837.55 L253.3 838 Z" fill="url(#gdup)"/>
<path d="M71.8 848.44 L71.8 847.97 L72.36 847.97 L72.92 847.97 L73.48 847.97 L74.04 847.96 L74.6 847.96 L75.16 847.96 L75.72 847.95 L76.28 847.94 L76.84 847.94 L77.4 847.93 L77.96 847.91 L78.52 847.9 L79.08 847.88 L79.64 847.86 L80.2 847.84 L80.76 847.81 L81.32 847.78 L81.88 847.74 L82.44 847.7 L83 847.65 L83.56 847.6 L84.12 847.55 L84.68 847.49 L85.24 847.43 L85.8 847.37 L86.36 847.31 L86.92 847.25 L87.48 847.19 L88.04 847.14 L88.6 847.1 L89.16 847.07 L89.72 847.04 L90.28 847.02 L90.84 847.01 L91.4 847.02 L91.96 847.03 L92.52 847.05 L93.08 847.08 L93.64 847.11 L94.2 847.15 L94.76 847.19 L95.32 847.24 L95.88 847.28 L96.44 847.33 L97 847.37 L97.56 847.41 L98.12 847.45 L98.68 847.48 L99.24 847.51 L99.8 847.53 L100.36 847.55 L100.92 847.57 L101.48 847.58 L102.04 847.59 L102.6 847.59 L103.16 847.6 L103.72 847.6 L104.28 847.6 L104.84 847.6 L105.4 847.6 L105.96 847.6 L106.52 847.6 L107.08 847.59 L107.64 847.59 L108.2 847.59 L108.76 847.59 L109.32 847.59 L109.88 847.59 L110.44 847.59 L111 847.59 L111.56 847.59 L112.12 847.59 L112.68 847.6 L113.24 847.6 L113.8 847.6 L114.36 847.61 L114.92 847.61 L115.48 847.62 L116.04 847.62 L116.6 847.63 L117.16 847.63 L117.72 847.64 L118.28 847.65 L118.84 847.65 L119.4 847.66 L119.96 847.67 L120.52 847.68 L121.08 847.69 L121.64 847.69 L122.2 847.7 L122.76 847.71 L123.32 847.72 L123.88 847.73 L124.44 847.74 L125 847.75 L125.56 847.75 L126.12 847.76 L126.68 847.77 L127.24 847.78 L127.8 847.78 L128.36 847.79 L128.92 847.79 L129.48 847.79 L130.04 847.79 L130.6 847.79 L131.16 847.79 L131.72 847.78 L132.28 847.76 L132.84 847.74 L133.4 847.72 L133.96 847.68 L134.52 847.65 L135.08 847.6 L135.64 847.55 L136.2 847.48 L136.76 847.41 L137.32 847.33 L137.88 847.22 L138.44 847.08 L139 846.88 L139.56 846.6 L140.12 846.18 L140.68 845.56 L141.24 844.7 L141.8 843.52 L142.36 842.02 L142.92 840.21 L143.48 838.18 L144.04 836.09 L144.6 834.16 L145.16 832.61 L145.72 831.66 L146.28 831.45 L146.84 832.01 L147.4 833.27 L147.96 835.07 L148.52 837.17 L149.08 839.35 L149.64 841.4 L150.2 843.18 L150.76 844.62 L151.32 845.72 L151.88 846.51 L152.44 847.05 L153 847.4 L153.56 847.62 L154.12 847.76 L154.68 847.84 L155.24 847.89 L155.8 847.92 L156.36 847.94 L156.92 847.95 L157.48 847.96 L158.04 847.97 L158.6 847.98 L159.16 847.98 L159.72 847.98 L160.28 847.98 L160.84 847.99 L161.4 847.99 L161.4 848.44 Z" fill="url(#gdel)"/>
<path d="M173.8 848.44 L173.8 847.5 L174.3 847.2 L174.79 846.75 L175.29 846.14 L175.79 845.34 L176.28 844.35 L176.78 843.2 L177.28 841.95 L177.78 840.69 L178.27 839.54 L178.77 838.6 L179.27 837.99 L179.76 837.76 L180.26 837.93 L180.76 838.46 L181.25 839.29 L181.75 840.29 L182.25 841.35 L182.74 842.36 L183.24 843.25 L183.74 843.98 L184.23 844.54 L184.73 844.93 L185.23 845.2 L185.73 845.39 L186.22 845.52 L186.72 845.64 L187.22 845.75 L187.71 845.87 L188.21 846 L188.71 846.13 L189.2 846.26 L189.7 846.38 L190.2 846.47 L190.69 846.55 L191.19 846.6 L191.69 846.62 L192.18 846.63 L192.68 846.62 L193.18 846.6 L193.68 846.57 L194.17 846.54 L194.67 846.51 L195.17 846.49 L195.66 846.48 L196.16 846.48 L196.66 846.5 L197.15 846.53 L197.65 846.57 L198.15 846.62 L198.64 846.69 L199.14 846.76 L199.64 846.84 L200.13 846.92 L200.63 847.01 L201.13 847.1 L201.62 847.19 L202.12 847.28 L202.62 847.37 L203.12 847.45 L203.61 847.52 L204.11 847.59 L204.61 847.65 L205.1 847.7 L205.6 847.75 L206.1 847.79 L206.59 847.83 L207.09 847.86 L207.59 847.89 L208.08 847.91 L208.58 847.93 L209.08 847.94 L209.58 847.95 L210.07 847.96 L210.57 847.97 L211.07 847.97 L211.56 847.98 L212.06 847.98 L212.56 847.98 L213.05 847.99 L213.55 847.99 L214.05 847.99 L214.54 847.99 L215.04 847.99 L215.54 847.99 L216.03 847.99 L216.53 847.99 L217.03 847.99 L217.53 847.99 L218.02 847.99 L218.52 847.99 L219.02 847.99 L219.51 847.99 L220.01 847.99 L220.51 847.99 L221 847.99 L221.5 847.99 L222 847.99 L222.49 847.99 L222.99 847.99 L223.49 847.99 L223.98 847.99 L224.48 847.99 L224.98 847.99 L225.48 847.99 L225.97 847.99 L226.47 847.99 L226.97 847.99 L227.46 847.99 L227.96 847.99 L228.46 847.99 L228.95 847.99 L229.45 847.99 L229.95 847.99 L230.44 847.99 L230.94 847.99 L231.44 847.99 L231.93 847.99 L232.43 847.99 L232.93 847.99 L233.43 847.99 L233.92 847.99 L234.42 847.99 L234.92 847.99 L235.41 847.99 L235.91 847.99 L236.41 847.99 L236.9 847.99 L237.4 847.99 L237.9 847.99 L238.39 847.99 L238.89 847.99 L239.39 847.99 L239.88 847.99 L240.38 847.99 L240.88 847.99 L241.38 847.99 L241.87 847.99 L242.37 847.99 L242.87 847.99 L243.36 847.99 L243.86 847.99 L244.36 847.99 L244.85 847.99 L245.35 847.99 L245.85 847.99 L246.34 847.99 L246.84 847.99 L247.34 847.99 L247.83 847.99 L248.33 847.99 L248.83 847.99 L249.33 847.99 L249.82 847.99 L250.32 847.99 L250.82 847.99 L251.31 847.99 L251.81 847.99 L252.31 847.99 L252.8 847.99 L253.3 847.99 L253.3 848.44 Z" fill="url(#gdup)"/>
<path d="M71.8 858.88 L71.8 858.36 L72.36 858.36 L72.92 858.35 L73.48 858.35 L74.04 858.34 L74.6 858.33 L75.16 858.33 L75.72 858.32 L76.28 858.32 L76.84 858.31 L77.4 858.3 L77.96 858.29 L78.52 858.29 L79.08 858.28 L79.64 858.27 L80.2 858.26 L80.76 858.25 L81.32 858.25 L81.88 858.24 L82.44 858.23 L83 858.22 L83.56 858.21 L84.12 858.2 L84.68 858.19 L85.24 858.18 L85.8 858.17 L86.36 858.17 L86.92 858.16 L87.48 858.15 L88.04 858.14 L88.6 858.13 L89.16 858.12 L89.72 858.11 L90.28 858.11 L90.84 858.1 L91.4 858.09 L91.96 858.08 L92.52 858.08 L93.08 858.07 L93.64 858.06 L94.2 858.06 L94.76 858.05 L95.32 858.05 L95.88 858.04 L96.44 858.04 L97 858.04 L97.56 858.04 L98.12 858.03 L98.68 858.03 L99.24 858.03 L99.8 858.03 L100.36 858.03 L100.92 858.03 L101.48 858.03 L102.04 858.03 L102.6 858.04 L103.16 858.04 L103.72 858.04 L104.28 858.05 L104.84 858.05 L105.4 858.06 L105.96 858.06 L106.52 858.07 L107.08 858.07 L107.64 858.08 L108.2 858.09 L108.76 858.09 L109.32 858.1 L109.88 858.11 L110.44 858.12 L111 858.12 L111.56 858.13 L112.12 858.14 L112.68 858.15 L113.24 858.16 L113.8 858.17 L114.36 858.18 L114.92 858.19 L115.48 858.2 L116.04 858.2 L116.6 858.21 L117.16 858.22 L117.72 858.23 L118.28 858.24 L118.84 858.25 L119.4 858.26 L119.96 858.26 L120.52 858.27 L121.08 858.28 L121.64 858.29 L122.2 858.3 L122.76 858.3 L123.32 858.31 L123.88 858.32 L124.44 858.32 L125 858.33 L125.56 858.33 L126.12 858.34 L126.68 858.34 L127.24 858.35 L127.8 858.35 L128.36 858.35 L128.92 858.35 L129.48 858.35 L130.04 858.34 L130.6 858.34 L131.16 858.33 L131.72 858.31 L132.28 858.29 L132.84 858.27 L133.4 858.24 L133.96 858.2 L134.52 858.16 L135.08 858.11 L135.64 858.06 L136.2 857.99 L136.76 857.91 L137.32 857.82 L137.88 857.71 L138.44 857.57 L139 857.37 L139.56 857.08 L140.12 856.66 L140.68 856.04 L141.24 855.17 L141.8 854 L142.36 852.49 L142.92 850.68 L143.48 848.65 L144.04 846.56 L144.6 844.62 L145.16 843.07 L145.72 842.12 L146.28 841.91 L146.84 842.47 L147.4 843.73 L147.96 845.52 L148.52 847.63 L149.08 849.8 L149.64 851.85 L150.2 853.63 L150.76 855.07 L151.32 856.17 L151.88 856.96 L152.44 857.5 L153 857.85 L153.56 858.07 L154.12 858.2 L154.68 858.28 L155.24 858.33 L155.8 858.36 L156.36 858.38 L156.92 858.4 L157.48 858.41 L158.04 858.41 L158.6 858.42 L159.16 858.42 L159.72 858.42 L160.28 858.43 L160.84 858.43 L161.4 858.43 L161.4 858.88 Z" fill="url(#gdel)"/>
<path d="M173.8 858.88 L173.8 857.94 L174.3 857.68 L174.79 857.31 L175.29 856.79 L175.79 856.12 L176.28 855.26 L176.78 854.22 L177.28 853.03 L177.78 851.73 L178.27 850.39 L178.77 849.12 L179.27 847.99 L179.76 847.12 L180.26 846.56 L180.76 846.38 L181.25 846.55 L181.75 847.06 L182.25 847.82 L182.74 848.76 L183.24 849.77 L183.74 850.76 L184.23 851.68 L184.73 852.48 L185.23 853.13 L185.73 853.65 L186.22 854.04 L186.72 854.33 L187.22 854.56 L187.71 854.74 L188.21 854.9 L188.71 855.06 L189.2 855.22 L189.7 855.38 L190.2 855.57 L190.69 855.76 L191.19 855.96 L191.69 856.17 L192.18 856.38 L192.68 856.59 L193.18 856.8 L193.68 856.99 L194.17 857.18 L194.67 857.35 L195.17 857.51 L195.66 857.65 L196.16 857.78 L196.66 857.89 L197.15 857.98 L197.65 858.07 L198.15 858.14 L198.64 858.2 L199.14 858.25 L199.64 858.29 L200.13 858.32 L200.63 858.34 L201.13 858.37 L201.62 858.38 L202.12 858.39 L202.62 858.4 L203.12 858.41 L203.61 858.42 L204.11 858.42 L204.61 858.42 L205.1 858.43 L205.6 858.43 L206.1 858.43 L206.59 858.43 L207.09 858.43 L207.59 858.43 L208.08 858.43 L208.58 858.43 L209.08 858.43 L209.58 858.43 L210.07 858.43 L210.57 858.43 L211.07 858.43 L211.56 858.43 L212.06 858.43 L212.56 858.43 L213.05 858.43 L213.55 858.43 L214.05 858.43 L214.54 858.43 L215.04 858.43 L215.54 858.43 L216.03 858.43 L216.53 858.43 L217.03 858.43 L217.53 858.43 L218.02 858.43 L218.52 858.43 L219.02 858.43 L219.51 858.43 L220.01 858.43 L220.51 858.43 L221 858.43 L221.5 858.43 L222 858.43 L222.49 858.43 L222.99 858.43 L223.49 858.43 L223.98 858.43 L224.48 858.43 L224.98 858.43 L225.48 858.43 L225.97 858.43 L226.47 858.43 L226.97 858.43 L227.46 858.43 L227.96 858.43 L228.46 858.43 L228.95 858.43 L229.45 858.43 L229.95 858.43 L230.44 858.43 L230.94 858.43 L231.44 858.43 L231.93 858.43 L232.43 858.43 L232.93 858.43 L233.43 858.43 L233.92 858.43 L234.42 858.43 L234.92 858.43 L235.41 858.43 L235.91 858.43 L236.41 858.43 L236.9 858.43 L237.4 858.43 L237.9 858.43 L238.39 858.43 L238.89 858.43 L239.39 858.43 L239.88 858.43 L240.38 858.43 L240.88 858.43 L241.38 858.43 L241.87 858.43 L242.37 858.43 L242.87 858.43 L243.36 858.43 L243.86 858.43 L244.36 858.43 L244.85 858.43 L245.35 858.43 L245.85 858.43 L246.34 858.43 L246.84 858.43 L247.34 858.43 L247.83 858.43 L248.33 858.43 L248.83 858.43 L249.33 858.43 L249.82 858.43 L250.32 858.43 L250.82 858.43 L251.31 858.43 L251.81 858.43 L252.31 858.43 L252.8 858.43 L253.3 858.43 L253.3 858.88 Z" fill="url(#gdup)"/>
<path d="M71.8 869.32 L71.8 868.82 L72.36 868.8 L72.92 868.78 L73.48 868.75 L74.04 868.71 L74.6 868.66 L75.16 868.6 L75.72 868.53 L76.28 868.45 L76.84 868.36 L77.4 868.26 L77.96 868.15 L78.52 868.03 L79.08 867.92 L79.64 867.81 L80.2 867.71 L80.76 867.63 L81.32 867.56 L81.88 867.52 L82.44 867.5 L83 867.5 L83.56 867.53 L84.12 867.58 L84.68 867.65 L85.24 867.74 L85.8 867.84 L86.36 867.94 L86.92 868.04 L87.48 868.14 L88.04 868.23 L88.6 868.32 L89.16 868.39 L89.72 868.45 L90.28 868.51 L90.84 868.55 L91.4 868.58 L91.96 868.6 L92.52 868.61 L93.08 868.62 L93.64 868.62 L94.2 868.62 L94.76 868.62 L95.32 868.61 L95.88 868.61 L96.44 868.6 L97 868.59 L97.56 868.59 L98.12 868.58 L98.68 868.57 L99.24 868.56 L99.8 868.55 L100.36 868.54 L100.92 868.54 L101.48 868.53 L102.04 868.52 L102.6 868.52 L103.16 868.51 L103.72 868.5 L104.28 868.5 L104.84 868.49 L105.4 868.49 L105.96 868.48 L106.52 868.48 L107.08 868.48 L107.64 868.47 L108.2 868.47 L108.76 868.47 L109.32 868.47 L109.88 868.47 L110.44 868.47 L111 868.47 L111.56 868.47 L112.12 868.47 L112.68 868.48 L113.24 868.48 L113.8 868.48 L114.36 868.49 L114.92 868.49 L115.48 868.5 L116.04 868.5 L116.6 868.51 L117.16 868.51 L117.72 868.52 L118.28 868.53 L118.84 868.53 L119.4 868.54 L119.96 868.55 L120.52 868.56 L121.08 868.57 L121.64 868.57 L122.2 868.58 L122.76 868.59 L123.32 868.6 L123.88 868.61 L124.44 868.62 L125 868.63 L125.56 868.63 L126.12 868.64 L126.68 868.65 L127.24 868.66 L127.8 868.66 L128.36 868.67 L128.92 868.67 L129.48 868.67 L130.04 868.67 L130.6 868.67 L131.16 868.67 L131.72 868.66 L132.28 868.64 L132.84 868.62 L133.4 868.6 L133.96 868.56 L134.52 868.53 L135.08 868.48 L135.64 868.43 L136.2 868.36 L136.76 868.29 L137.32 868.21 L137.88 868.1 L138.44 867.96 L139 867.76 L139.56 867.48 L140.12 867.06 L140.68 866.44 L141.24 865.58 L141.8 864.4 L142.36 862.9 L142.92 861.09 L143.48 859.06 L144.04 856.97 L144.6 855.04 L145.16 853.49 L145.72 852.54 L146.28 852.33 L146.84 852.89 L147.4 854.15 L147.96 855.95 L148.52 858.05 L149.08 860.23 L149.64 862.28 L150.2 864.06 L150.76 865.5 L151.32 866.6 L151.88 867.39 L152.44 867.93 L153 868.28 L153.56 868.5 L154.12 868.64 L154.68 868.72 L155.24 868.77 L155.8 868.8 L156.36 868.82 L156.92 868.83 L157.48 868.84 L158.04 868.85 L158.6 868.86 L159.16 868.86 L159.72 868.86 L160.28 868.86 L160.84 868.87 L161.4 868.87 L161.4 869.32 Z" fill="url(#gdel)"/>
<path d="M173.8 869.32 L173.8 868.54 L174.3 868.35 L174.79 868.06 L175.29 867.66 L175.79 867.11 L176.28 866.41 L176.78 865.53 L177.28 864.49 L177.78 863.31 L178.27 862.04 L178.77 860.75 L179.27 859.54 L179.76 858.48 L180.26 857.67 L180.76 857.18 L181.25 857.03 L181.75 857.23 L182.25 857.75 L182.74 858.52 L183.24 859.47 L183.74 860.5 L184.23 861.53 L184.73 862.5 L185.23 863.36 L185.73 864.09 L186.22 864.69 L186.72 865.16 L187.22 865.52 L187.71 865.8 L188.21 866.02 L188.71 866.19 L189.2 866.33 L189.7 866.46 L190.2 866.57 L190.69 866.68 L191.19 866.77 L191.69 866.86 L192.18 866.96 L192.68 867.05 L193.18 867.15 L193.68 867.25 L194.17 867.37 L194.67 867.5 L195.17 867.63 L195.66 867.77 L196.16 867.92 L196.66 868.06 L197.15 868.19 L197.65 868.32 L198.15 868.43 L198.64 868.53 L199.14 868.61 L199.64 868.68 L200.13 868.73 L200.63 868.78 L201.13 868.81 L201.62 868.83 L202.12 868.84 L202.62 868.85 L203.12 868.86 L203.61 868.86 L204.11 868.87 L204.61 868.87 L205.1 868.87 L205.6 868.87 L206.1 868.87 L206.59 868.87 L207.09 868.87 L207.59 868.87 L208.08 868.87 L208.58 868.87 L209.08 868.87 L209.58 868.87 L210.07 868.87 L210.57 868.87 L211.07 868.87 L211.56 868.87 L212.06 868.87 L212.56 868.87 L213.05 868.87 L213.55 868.87 L214.05 868.87 L214.54 868.87 L215.04 868.87 L215.54 868.87 L216.03 868.87 L216.53 868.87 L217.03 868.87 L217.53 868.87 L218.02 868.87 L218.52 868.87 L219.02 868.87 L219.51 868.87 L220.01 868.87 L220.51 868.87 L221 868.87 L221.5 868.87 L222 868.87 L222.49 868.87 L222.99 868.87 L223.49 868.87 L223.98 868.87 L224.48 868.87 L224.98 868.87 L225.48 868.87 L225.97 868.87 L226.47 868.87 L226.97 868.87 L227.46 868.87 L227.96 868.87 L228.46 868.87 L228.95 868.87 L229.45 868.87 L229.95 868.87 L230.44 868.87 L230.94 868.87 L231.44 868.87 L231.93 868.87 L232.43 868.87 L232.93 868.87 L233.43 868.87 L233.92 868.87 L234.42 868.87 L234.92 868.87 L235.41 868.87 L235.91 868.87 L236.41 868.87 L236.9 868.87 L237.4 868.87 L237.9 868.87 L238.39 868.87 L238.89 868.87 L239.39 868.87 L239.88 868.87 L240.38 868.87 L240.88 868.87 L241.38 868.87 L241.87 868.87 L242.37 868.87 L242.87 868.87 L243.36 868.87 L243.86 868.87 L244.36 868.87 L244.85 868.87 L245.35 868.87 L245.85 868.87 L246.34 868.87 L246.84 868.87 L247.34 868.87 L247.83 868.87 L248.33 868.87 L248.83 868.87 L249.33 868.87 L249.82 868.87 L250.32 868.87 L250.82 868.87 L251.31 868.87 L251.81 868.87 L252.31 868.87 L252.8 868.87 L253.3 868.87 L253.3 869.32 Z" fill="url(#gdup)"/>
<path d="M71.8 879.76 L71.8 879.31 L72.36 879.31 L72.92 879.31 L73.48 879.31 L74.04 879.31 L74.6 879.31 L75.16 879.31 L75.72 879.31 L76.28 879.31 L76.84 879.31 L77.4 879.31 L77.96 879.31 L78.52 879.31 L79.08 879.31 L79.64 879.31 L80.2 879.31 L80.76 879.31 L81.32 879.31 L81.88 879.31 L82.44 879.31 L83 879.31 L83.56 879.31 L84.12 879.31 L84.68 879.31 L85.24 879.31 L85.8 879.31 L86.36 879.31 L86.92 879.31 L87.48 879.31 L88.04 879.31 L88.6 879.31 L89.16 879.31 L89.72 879.31 L90.28 879.31 L90.84 879.31 L91.4 879.31 L91.96 879.31 L92.52 879.31 L93.08 879.31 L93.64 879.31 L94.2 879.31 L94.76 879.31 L95.32 879.31 L95.88 879.31 L96.44 879.31 L97 879.31 L97.56 879.31 L98.12 879.31 L98.68 879.31 L99.24 879.31 L99.8 879.31 L100.36 879.31 L100.92 879.31 L101.48 879.31 L102.04 879.31 L102.6 879.31 L103.16 879.31 L103.72 879.31 L104.28 879.31 L104.84 879.31 L105.4 879.31 L105.96 879.31 L106.52 879.31 L107.08 879.31 L107.64 879.31 L108.2 879.31 L108.76 879.31 L109.32 879.31 L109.88 879.31 L110.44 879.31 L111 879.31 L111.56 879.31 L112.12 879.31 L112.68 879.31 L113.24 879.31 L113.8 879.31 L114.36 879.31 L114.92 879.31 L115.48 879.31 L116.04 879.3 L116.6 879.3 L117.16 879.3 L117.72 879.29 L118.28 879.29 L118.84 879.28 L119.4 879.27 L119.96 879.25 L120.52 879.23 L121.08 879.21 L121.64 879.19 L122.2 879.15 L122.76 879.11 L123.32 879.07 L123.88 879.01 L124.44 878.95 L125 878.88 L125.56 878.79 L126.12 878.7 L126.68 878.6 L127.24 878.49 L127.8 878.38 L128.36 878.25 L128.92 878.11 L129.48 877.97 L130.04 877.83 L130.6 877.67 L131.16 877.52 L131.72 877.36 L132.28 877.2 L132.84 877.04 L133.4 876.88 L133.96 876.73 L134.52 876.59 L135.08 876.45 L135.64 876.32 L136.2 876.21 L136.76 876.11 L137.32 876.02 L137.88 875.93 L138.44 875.83 L139 875.7 L139.56 875.5 L140.12 875.19 L140.68 874.71 L141.24 873.99 L141.8 872.97 L142.36 871.63 L142.92 869.98 L143.48 868.12 L144.04 866.2 L144.6 864.42 L145.16 863.02 L145.72 862.21 L146.28 862.12 L146.84 862.79 L147.4 864.15 L147.96 866.03 L148.52 868.21 L149.08 870.45 L149.64 872.55 L150.2 874.37 L150.76 875.85 L151.32 876.97 L151.88 877.78 L152.44 878.33 L153 878.7 L153.56 878.92 L154.12 879.06 L154.68 879.15 L155.24 879.2 L155.8 879.24 L156.36 879.26 L156.92 879.27 L157.48 879.28 L158.04 879.29 L158.6 879.3 L159.16 879.3 L159.72 879.3 L160.28 879.31 L160.84 879.31 L161.4 879.31 L161.4 879.76 Z" fill="url(#gdel)"/>
<path d="M173.8 879.76 L173.8 878.99 L174.3 878.8 L174.79 878.53 L175.29 878.14 L175.79 877.59 L176.28 876.88 L176.78 875.97 L177.28 874.88 L177.78 873.62 L178.27 872.25 L178.77 870.85 L179.27 869.51 L179.76 868.34 L180.26 867.45 L180.76 866.91 L181.25 866.77 L181.75 867.03 L182.25 867.65 L182.74 868.55 L183.24 869.63 L183.74 870.8 L184.23 871.95 L184.73 873.02 L185.23 873.95 L185.73 874.72 L186.22 875.34 L186.72 875.81 L187.22 876.16 L187.71 876.43 L188.21 876.64 L188.71 876.81 L189.2 876.96 L189.7 877.11 L190.2 877.25 L190.69 877.4 L191.19 877.55 L191.69 877.7 L192.18 877.85 L192.68 878 L193.18 878.14 L193.68 878.28 L194.17 878.42 L194.67 878.54 L195.17 878.65 L195.66 878.75 L196.16 878.84 L196.66 878.92 L197.15 878.99 L197.65 879.05 L198.15 879.1 L198.64 879.14 L199.14 879.18 L199.64 879.21 L200.13 879.23 L200.63 879.25 L201.13 879.26 L201.62 879.28 L202.12 879.28 L202.62 879.29 L203.12 879.3 L203.61 879.3 L204.11 879.3 L204.61 879.3 L205.1 879.31 L205.6 879.31 L206.1 879.31 L206.59 879.31 L207.09 879.31 L207.59 879.31 L208.08 879.31 L208.58 879.31 L209.08 879.31 L209.58 879.31 L210.07 879.31 L210.57 879.31 L211.07 879.31 L211.56 879.31 L212.06 879.31 L212.56 879.31 L213.05 879.31 L213.55 879.31 L214.05 879.31 L214.54 879.31 L215.04 879.31 L215.54 879.31 L216.03 879.31 L216.53 879.31 L217.03 879.31 L217.53 879.31 L218.02 879.31 L218.52 879.31 L219.02 879.31 L219.51 879.31 L220.01 879.31 L220.51 879.31 L221 879.31 L221.5 879.31 L222 879.31 L222.49 879.31 L222.99 879.31 L223.49 879.31 L223.98 879.31 L224.48 879.31 L224.98 879.31 L225.48 879.31 L225.97 879.31 L226.47 879.31 L226.97 879.31 L227.46 879.31 L227.96 879.31 L228.46 879.31 L228.95 879.31 L229.45 879.31 L229.95 879.31 L230.44 879.31 L230.94 879.31 L231.44 879.31 L231.93 879.31 L232.43 879.31 L232.93 879.31 L233.43 879.31 L233.92 879.31 L234.42 879.31 L234.92 879.31 L235.41 879.31 L235.91 879.31 L236.41 879.31 L236.9 879.31 L237.4 879.31 L237.9 879.31 L238.39 879.31 L238.89 879.31 L239.39 879.31 L239.88 879.31 L240.38 879.31 L240.88 879.31 L241.38 879.31 L241.87 879.31 L242.37 879.31 L242.87 879.31 L243.36 879.31 L243.86 879.31 L244.36 879.31 L244.85 879.31 L245.35 879.31 L245.85 879.31 L246.34 879.31 L246.84 879.31 L247.34 879.31 L247.83 879.31 L248.33 879.31 L248.83 879.31 L249.33 879.31 L249.82 879.31 L250.32 879.31 L250.82 879.31 L251.31 879.31 L251.81 879.31 L252.31 879.31 L252.8 879.31 L253.3 879.31 L253.3 879.76 Z" fill="url(#gdup)"/>
<path d="M71.8 890.2 L71.8 889.68 L72.36 889.68 L72.92 889.67 L73.48 889.67 L74.04 889.66 L74.6 889.65 L75.16 889.65 L75.72 889.64 L76.28 889.64 L76.84 889.63 L77.4 889.62 L77.96 889.61 L78.52 889.61 L79.08 889.6 L79.64 889.59 L80.2 889.58 L80.76 889.57 L81.32 889.57 L81.88 889.56 L82.44 889.55 L83 889.54 L83.56 889.53 L84.12 889.52 L84.68 889.51 L85.24 889.5 L85.8 889.49 L86.36 889.49 L86.92 889.48 L87.48 889.47 L88.04 889.46 L88.6 889.45 L89.16 889.44 L89.72 889.43 L90.28 889.43 L90.84 889.42 L91.4 889.41 L91.96 889.4 L92.52 889.4 L93.08 889.39 L93.64 889.38 L94.2 889.38 L94.76 889.37 L95.32 889.37 L95.88 889.36 L96.44 889.36 L97 889.36 L97.56 889.36 L98.12 889.35 L98.68 889.35 L99.24 889.35 L99.8 889.35 L100.36 889.35 L100.92 889.35 L101.48 889.35 L102.04 889.35 L102.6 889.36 L103.16 889.36 L103.72 889.36 L104.28 889.37 L104.84 889.37 L105.4 889.38 L105.96 889.38 L106.52 889.39 L107.08 889.39 L107.64 889.4 L108.2 889.41 L108.76 889.41 L109.32 889.42 L109.88 889.43 L110.44 889.44 L111 889.44 L111.56 889.45 L112.12 889.46 L112.68 889.47 L113.24 889.48 L113.8 889.49 L114.36 889.5 L114.92 889.5 L115.48 889.51 L116.04 889.52 L116.6 889.52 L117.16 889.52 L117.72 889.52 L118.28 889.51 L118.84 889.49 L119.4 889.45 L119.96 889.41 L120.52 889.34 L121.08 889.25 L121.64 889.14 L122.2 889 L122.76 888.84 L123.32 888.66 L123.88 888.46 L124.44 888.26 L125 888.05 L125.56 887.86 L126.12 887.7 L126.68 887.57 L127.24 887.5 L127.8 887.47 L128.36 887.5 L128.92 887.58 L129.48 887.71 L130.04 887.87 L130.6 888.06 L131.16 888.26 L131.72 888.46 L132.28 888.64 L132.84 888.81 L133.4 888.95 L133.96 889.06 L134.52 889.13 L135.08 889.18 L135.64 889.2 L136.2 889.19 L136.76 889.15 L137.32 889.09 L137.88 889 L138.44 888.87 L139 888.68 L139.56 888.39 L140.12 887.97 L140.68 887.36 L141.24 886.49 L141.8 885.31 L142.36 883.81 L142.92 882 L143.48 879.97 L144.04 877.88 L144.6 875.94 L145.16 874.39 L145.72 873.44 L146.28 873.23 L146.84 873.79 L147.4 875.05 L147.96 876.84 L148.52 878.95 L149.08 881.12 L149.64 883.17 L150.2 884.95 L150.76 886.39 L151.32 887.49 L151.88 888.28 L152.44 888.82 L153 889.17 L153.56 889.39 L154.12 889.52 L154.68 889.6 L155.24 889.65 L155.8 889.68 L156.36 889.7 L156.92 889.72 L157.48 889.73 L158.04 889.73 L158.6 889.74 L159.16 889.74 L159.72 889.74 L160.28 889.75 L160.84 889.75 L161.4 889.75 L161.4 890.2 Z" fill="url(#gdel)"/>
<path d="M173.8 890.2 L173.8 889.66 L174.3 889.59 L174.79 889.45 L175.29 889.24 L175.79 888.92 L176.28 888.46 L176.78 887.86 L177.28 887.1 L177.78 886.23 L178.27 885.3 L178.77 884.41 L179.27 883.66 L179.76 883.14 L180.26 882.93 L180.76 883.07 L181.25 883.51 L181.75 884.21 L182.25 885.05 L182.74 885.94 L183.24 886.77 L183.74 887.48 L184.23 888.02 L184.73 888.4 L185.23 888.62 L185.73 888.72 L186.22 888.73 L186.72 888.68 L187.22 888.6 L187.71 888.5 L188.21 888.41 L188.71 888.34 L189.2 888.28 L189.7 888.24 L190.2 888.22 L190.69 888.21 L191.19 888.21 L191.69 888.21 L192.18 888.2 L192.68 888.17 L193.18 888.13 L193.68 888.08 L194.17 888 L194.67 887.91 L195.17 887.81 L195.66 887.71 L196.16 887.61 L196.66 887.52 L197.15 887.44 L197.65 887.38 L198.15 887.35 L198.64 887.34 L199.14 887.36 L199.64 887.41 L200.13 887.48 L200.63 887.58 L201.13 887.7 L201.62 887.83 L202.12 887.97 L202.62 888.12 L203.12 888.27 L203.61 888.42 L204.11 888.55 L204.61 888.67 L205.1 888.77 L205.6 888.84 L206.1 888.89 L206.59 888.9 L207.09 888.88 L207.59 888.84 L208.08 888.76 L208.58 888.67 L209.08 888.57 L209.58 888.46 L210.07 888.36 L210.57 888.28 L211.07 888.23 L211.56 888.21 L212.06 888.23 L212.56 888.29 L213.05 888.38 L213.55 888.5 L214.05 888.64 L214.54 888.79 L215.04 888.94 L215.54 889.09 L216.03 889.22 L216.53 889.34 L217.03 889.44 L217.53 889.52 L218.02 889.59 L218.52 889.64 L219.02 889.67 L219.51 889.7 L220.01 889.72 L220.51 889.73 L221 889.74 L221.5 889.74 L222 889.75 L222.49 889.75 L222.99 889.75 L223.49 889.75 L223.98 889.75 L224.48 889.75 L224.98 889.75 L225.48 889.75 L225.97 889.75 L226.47 889.75 L226.97 889.75 L227.46 889.75 L227.96 889.75 L228.46 889.75 L228.95 889.75 L229.45 889.75 L229.95 889.75 L230.44 889.75 L230.94 889.75 L231.44 889.75 L231.93 889.75 L232.43 889.75 L232.93 889.75 L233.43 889.75 L233.92 889.75 L234.42 889.75 L234.92 889.75 L235.41 889.75 L235.91 889.75 L236.41 889.75 L236.9 889.75 L237.4 889.75 L237.9 889.75 L238.39 889.75 L238.89 889.75 L239.39 889.75 L239.88 889.75 L240.38 889.75 L240.88 889.75 L241.38 889.75 L241.87 889.75 L242.37 889.75 L242.87 889.75 L243.36 889.75 L243.86 889.75 L244.36 889.75 L244.85 889.75 L245.35 889.75 L245.85 889.75 L246.34 889.75 L246.84 889.75 L247.34 889.75 L247.83 889.75 L248.33 889.75 L248.83 889.75 L249.33 889.75 L249.82 889.75 L250.32 889.75 L250.82 889.75 L251.31 889.75 L251.81 889.75 L252.31 889.75 L252.8 889.75 L253.3 889.75 L253.3 890.2 Z" fill="url(#gdup)"/>
<path d="M71.8 900.64 L71.8 900.16 L72.36 900.16 L72.92 900.15 L73.48 900.14 L74.04 900.13 L74.6 900.11 L75.16 900.09 L75.72 900.07 L76.28 900.05 L76.84 900.02 L77.4 899.99 L77.96 899.96 L78.52 899.92 L79.08 899.88 L79.64 899.83 L80.2 899.78 L80.76 899.73 L81.32 899.67 L81.88 899.61 L82.44 899.55 L83 899.49 L83.56 899.43 L84.12 899.38 L84.68 899.32 L85.24 899.27 L85.8 899.23 L86.36 899.19 L86.92 899.15 L87.48 899.13 L88.04 899.11 L88.6 899.11 L89.16 899.11 L89.72 899.11 L90.28 899.13 L90.84 899.15 L91.4 899.18 L91.96 899.22 L92.52 899.26 L93.08 899.31 L93.64 899.35 L94.2 899.4 L94.76 899.45 L95.32 899.5 L95.88 899.54 L96.44 899.59 L97 899.63 L97.56 899.67 L98.12 899.7 L98.68 899.73 L99.24 899.76 L99.8 899.78 L100.36 899.8 L100.92 899.82 L101.48 899.83 L102.04 899.84 L102.6 899.84 L103.16 899.85 L103.72 899.85 L104.28 899.85 L104.84 899.85 L105.4 899.85 L105.96 899.84 L106.52 899.84 L107.08 899.83 L107.64 899.83 L108.2 899.82 L108.76 899.82 L109.32 899.82 L109.88 899.81 L110.44 899.81 L111 899.8 L111.56 899.8 L112.12 899.8 L112.68 899.79 L113.24 899.79 L113.8 899.79 L114.36 899.79 L114.92 899.79 L115.48 899.79 L116.04 899.79 L116.6 899.79 L117.16 899.79 L117.72 899.8 L118.28 899.8 L118.84 899.8 L119.4 899.81 L119.96 899.81 L120.52 899.82 L121.08 899.82 L121.64 899.83 L122.2 899.83 L122.76 899.84 L123.32 899.85 L123.88 899.85 L124.44 899.86 L125 899.87 L125.56 899.88 L126.12 899.88 L126.68 899.89 L127.24 899.9 L127.8 899.9 L128.36 899.91 L128.92 899.91 L129.48 899.92 L130.04 899.92 L130.6 899.91 L131.16 899.91 L131.72 899.9 L132.28 899.89 L132.84 899.87 L133.4 899.85 L133.96 899.82 L134.52 899.78 L135.08 899.74 L135.64 899.68 L136.2 899.62 L136.76 899.55 L137.32 899.47 L137.88 899.37 L138.44 899.23 L139 899.03 L139.56 898.75 L140.12 898.33 L140.68 897.72 L141.24 896.85 L141.8 895.68 L142.36 894.18 L142.92 892.37 L143.48 890.35 L144.04 888.26 L144.6 886.33 L145.16 884.79 L145.72 883.84 L146.28 883.62 L146.84 884.19 L147.4 885.45 L147.96 887.25 L148.52 889.36 L149.08 891.53 L149.64 893.58 L150.2 895.37 L150.76 896.81 L151.32 897.91 L151.88 898.7 L152.44 899.24 L153 899.59 L153.56 899.81 L154.12 899.95 L154.68 900.03 L155.24 900.08 L155.8 900.11 L156.36 900.13 L156.92 900.15 L157.48 900.16 L158.04 900.17 L158.6 900.17 L159.16 900.18 L159.72 900.18 L160.28 900.18 L160.84 900.18 L161.4 900.18 L161.4 900.64 Z" fill="url(#gdel)"/>
<path d="M173.8 900.64 L173.8 899.89 L174.3 899.87 L174.79 899.84 L175.29 899.82 L175.79 899.79 L176.28 899.76 L176.78 899.73 L177.28 899.7 L177.78 899.67 L178.27 899.64 L178.77 899.6 L179.27 899.57 L179.76 899.54 L180.26 899.51 L180.76 899.47 L181.25 899.44 L181.75 899.41 L182.25 899.37 L182.74 899.34 L183.24 899.31 L183.74 899.28 L184.23 899.26 L184.73 899.23 L185.23 899.2 L185.73 899.18 L186.22 899.16 L186.72 899.14 L187.22 899.12 L187.71 899.1 L188.21 899.09 L188.71 899.08 L189.2 899.07 L189.7 899.06 L190.2 899.05 L190.69 899.05 L191.19 899.04 L191.69 899.04 L192.18 899.04 L192.68 899.04 L193.18 899.04 L193.68 899.04 L194.17 899.04 L194.67 899.04 L195.17 899.04 L195.66 899.04 L196.16 899.03 L196.66 899.03 L197.15 899.02 L197.65 899.01 L198.15 898.99 L198.64 898.97 L199.14 898.95 L199.64 898.93 L200.13 898.9 L200.63 898.87 L201.13 898.83 L201.62 898.79 L202.12 898.74 L202.62 898.69 L203.12 898.64 L203.61 898.58 L204.11 898.52 L204.61 898.46 L205.1 898.4 L205.6 898.34 L206.1 898.27 L206.59 898.21 L207.09 898.14 L207.59 898.08 L208.08 898.02 L208.58 897.96 L209.08 897.91 L209.58 897.86 L210.07 897.82 L210.57 897.78 L211.07 897.75 L211.56 897.73 L212.06 897.71 L212.56 897.7 L213.05 897.7 L213.55 897.71 L214.05 897.72 L214.54 897.75 L215.04 897.78 L215.54 897.82 L216.03 897.86 L216.53 897.91 L217.03 897.96 L217.53 898.02 L218.02 898.09 L218.52 898.15 L219.02 898.22 L219.51 898.29 L220.01 898.36 L220.51 898.43 L221 898.49 L221.5 898.56 L222 898.63 L222.49 898.69 L222.99 898.75 L223.49 898.8 L223.98 898.86 L224.48 898.91 L224.98 898.95 L225.48 899 L225.97 899.04 L226.47 899.08 L226.97 899.11 L227.46 899.15 L227.96 899.19 L228.46 899.22 L228.95 899.25 L229.45 899.29 L229.95 899.32 L230.44 899.36 L230.94 899.39 L231.44 899.43 L231.93 899.47 L232.43 899.5 L232.93 899.54 L233.43 899.58 L233.92 899.62 L234.42 899.66 L234.92 899.7 L235.41 899.74 L235.91 899.78 L236.41 899.81 L236.9 899.85 L237.4 899.88 L237.9 899.92 L238.39 899.95 L238.89 899.98 L239.39 900 L239.88 900.03 L240.38 900.05 L240.88 900.07 L241.38 900.09 L241.87 900.1 L242.37 900.12 L242.87 900.13 L243.36 900.14 L243.86 900.15 L244.36 900.15 L244.85 900.16 L245.35 900.17 L245.85 900.17 L246.34 900.17 L246.84 900.18 L247.34 900.18 L247.83 900.18 L248.33 900.18 L248.83 900.19 L249.33 900.19 L249.82 900.19 L250.32 900.19 L250.82 900.19 L251.31 900.19 L251.81 900.19 L252.31 900.19 L252.8 900.19 L253.3 900.19 L253.3 900.64 Z" fill="url(#gdup)"/>
<path d="M71.8 911.08 L71.8 910.59 L72.36 910.57 L72.92 910.55 L73.48 910.53 L74.04 910.5 L74.6 910.46 L75.16 910.4 L75.72 910.34 L76.28 910.26 L76.84 910.17 L77.4 910.06 L77.96 909.94 L78.52 909.81 L79.08 909.68 L79.64 909.54 L80.2 909.4 L80.76 909.27 L81.32 909.15 L81.88 909.06 L82.44 908.98 L83 908.94 L83.56 908.93 L84.12 908.94 L84.68 908.99 L85.24 909.06 L85.8 909.16 L86.36 909.27 L86.92 909.39 L87.48 909.52 L88.04 909.64 L88.6 909.76 L89.16 909.87 L89.72 909.97 L90.28 910.05 L90.84 910.13 L91.4 910.18 L91.96 910.23 L92.52 910.26 L93.08 910.28 L93.64 910.29 L94.2 910.3 L94.76 910.3 L95.32 910.3 L95.88 910.3 L96.44 910.29 L97 910.28 L97.56 910.27 L98.12 910.26 L98.68 910.25 L99.24 910.24 L99.8 910.23 L100.36 910.22 L100.92 910.21 L101.48 910.2 L102.04 910.2 L102.6 910.19 L103.16 910.18 L103.72 910.17 L104.28 910.17 L104.84 910.16 L105.4 910.15 L105.96 910.15 L106.52 910.14 L107.08 910.14 L107.64 910.14 L108.2 910.13 L108.76 910.13 L109.32 910.13 L109.88 910.13 L110.44 910.13 L111 910.13 L111.56 910.13 L112.12 910.13 L112.68 910.14 L113.24 910.14 L113.8 910.15 L114.36 910.15 L114.92 910.16 L115.48 910.16 L116.04 910.17 L116.6 910.18 L117.16 910.18 L117.72 910.19 L118.28 910.2 L118.84 910.21 L119.4 910.22 L119.96 910.23 L120.52 910.24 L121.08 910.25 L121.64 910.26 L122.2 910.27 L122.76 910.28 L123.32 910.29 L123.88 910.3 L124.44 910.31 L125 910.33 L125.56 910.34 L126.12 910.35 L126.68 910.36 L127.24 910.37 L127.8 910.37 L128.36 910.38 L128.92 910.39 L129.48 910.39 L130.04 910.39 L130.6 910.39 L131.16 910.39 L131.72 910.38 L132.28 910.37 L132.84 910.35 L133.4 910.33 L133.96 910.3 L134.52 910.26 L135.08 910.21 L135.64 910.16 L136.2 910.1 L136.76 910.03 L137.32 909.95 L137.88 909.84 L138.44 909.7 L139 909.51 L139.56 909.22 L140.12 908.8 L140.68 908.19 L141.24 907.32 L141.8 906.15 L142.36 904.65 L142.92 902.84 L143.48 900.81 L144.04 898.73 L144.6 896.79 L145.16 895.25 L145.72 894.3 L146.28 894.08 L146.84 894.65 L147.4 895.91 L147.96 897.71 L148.52 899.81 L149.08 901.99 L149.64 904.04 L150.2 905.82 L150.76 907.26 L151.32 908.36 L151.88 909.15 L152.44 909.69 L153 910.04 L153.56 910.26 L154.12 910.4 L154.68 910.48 L155.24 910.53 L155.8 910.56 L156.36 910.58 L156.92 910.59 L157.48 910.6 L158.04 910.61 L158.6 910.61 L159.16 910.62 L159.72 910.62 L160.28 910.62 L160.84 910.63 L161.4 910.63 L161.4 911.08 Z" fill="url(#gdel)"/>
<path d="M173.8 911.08 L173.8 910.47 L174.3 910.35 L174.79 910.17 L175.29 909.88 L175.79 909.46 L176.28 908.89 L176.78 908.16 L177.28 907.29 L177.78 906.33 L178.27 905.36 L178.77 904.47 L179.27 903.78 L179.76 903.36 L180.26 903.27 L180.76 903.51 L181.25 904.02 L181.75 904.73 L182.25 905.52 L182.74 906.32 L183.24 907.03 L183.74 907.61 L184.23 908.06 L184.73 908.37 L185.23 908.59 L185.73 908.72 L186.22 908.81 L186.72 908.88 L187.22 908.95 L187.71 909.01 L188.21 909.09 L188.71 909.17 L189.2 909.26 L189.7 909.36 L190.2 909.46 L190.69 909.55 L191.19 909.64 L191.69 909.73 L192.18 909.81 L192.68 909.87 L193.18 909.93 L193.68 909.98 L194.17 910.02 L194.67 910.05 L195.17 910.07 L195.66 910.09 L196.16 910.1 L196.66 910.11 L197.15 910.11 L197.65 910.11 L198.15 910.11 L198.64 910.11 L199.14 910.1 L199.64 910.1 L200.13 910.09 L200.63 910.09 L201.13 910.08 L201.62 910.07 L202.12 910.06 L202.62 910.05 L203.12 910.04 L203.61 910.03 L204.11 910.02 L204.61 910 L205.1 909.98 L205.6 909.95 L206.1 909.93 L206.59 909.89 L207.09 909.86 L207.59 909.82 L208.08 909.77 L208.58 909.72 L209.08 909.66 L209.58 909.6 L210.07 909.54 L210.57 909.47 L211.07 909.39 L211.56 909.31 L212.06 909.23 L212.56 909.14 L213.05 909.05 L213.55 908.96 L214.05 908.87 L214.54 908.79 L215.04 908.7 L215.54 908.61 L216.03 908.53 L216.53 908.46 L217.03 908.39 L217.53 908.33 L218.02 908.28 L218.52 908.23 L219.02 908.2 L219.51 908.18 L220.01 908.17 L220.51 908.17 L221 908.18 L221.5 908.2 L222 908.24 L222.49 908.29 L222.99 908.34 L223.49 908.41 L223.98 908.48 L224.48 908.56 L224.98 908.65 L225.48 908.75 L225.97 908.84 L226.47 908.95 L226.97 909.05 L227.46 909.16 L227.96 909.26 L228.46 909.36 L228.95 909.46 L229.45 909.56 L229.95 909.66 L230.44 909.75 L230.94 909.84 L231.44 909.92 L231.93 909.99 L232.43 910.07 L232.93 910.13 L233.43 910.19 L233.92 910.25 L234.42 910.3 L234.92 910.34 L235.41 910.38 L235.91 910.42 L236.41 910.45 L236.9 910.48 L237.4 910.5 L237.9 910.52 L238.39 910.54 L238.89 910.55 L239.39 910.57 L239.88 910.58 L240.38 910.59 L240.88 910.6 L241.38 910.6 L241.87 910.61 L242.37 910.61 L242.87 910.62 L243.36 910.62 L243.86 910.62 L244.36 910.62 L244.85 910.62 L245.35 910.63 L245.85 910.63 L246.34 910.63 L246.84 910.63 L247.34 910.63 L247.83 910.63 L248.33 910.63 L248.83 910.63 L249.33 910.63 L249.82 910.63 L250.32 910.63 L250.82 910.63 L251.31 910.63 L251.81 910.63 L252.31 910.63 L252.8 910.63 L253.3 910.63 L253.3 911.08 Z" fill="url(#gdup)"/>
<path d="M71.8 921.52 L71.8 921.04 L72.36 921.03 L72.92 921.01 L73.48 920.99 L74.04 920.95 L74.6 920.91 L75.16 920.85 L75.72 920.78 L76.28 920.7 L76.84 920.6 L77.4 920.48 L77.96 920.35 L78.52 920.21 L79.08 920.06 L79.64 919.9 L80.2 919.75 L80.76 919.6 L81.32 919.47 L81.88 919.36 L82.44 919.28 L83 919.23 L83.56 919.2 L84.12 919.21 L84.68 919.25 L85.24 919.32 L85.8 919.41 L86.36 919.51 L86.92 919.63 L87.48 919.74 L88.04 919.85 L88.6 919.96 L89.16 920.05 L89.72 920.13 L90.28 920.19 L90.84 920.24 L91.4 920.27 L91.96 920.29 L92.52 920.31 L93.08 920.31 L93.64 920.31 L94.2 920.3 L94.76 920.29 L95.32 920.28 L95.88 920.26 L96.44 920.24 L97 920.22 L97.56 920.19 L98.12 920.16 L98.68 920.13 L99.24 920.09 L99.8 920.05 L100.36 920.01 L100.92 919.97 L101.48 919.92 L102.04 919.89 L102.6 919.85 L103.16 919.83 L103.72 919.81 L104.28 919.81 L104.84 919.81 L105.4 919.83 L105.96 919.86 L106.52 919.91 L107.08 919.96 L107.64 920.02 L108.2 920.09 L108.76 920.17 L109.32 920.25 L109.88 920.34 L110.44 920.42 L111 920.5 L111.56 920.57 L112.12 920.65 L112.68 920.71 L113.24 920.77 L113.8 920.82 L114.36 920.87 L114.92 920.91 L115.48 920.94 L116.04 920.97 L116.6 920.99 L117.16 921.01 L117.72 921.03 L118.28 921.04 L118.84 921.05 L119.4 921.05 L119.96 921.06 L120.52 921.06 L121.08 921.06 L121.64 921.07 L122.2 921.07 L122.76 921.07 L123.32 921.07 L123.88 921.07 L124.44 921.07 L125 921.07 L125.56 921.07 L126.12 921.07 L126.68 921.07 L127.24 921.06 L127.8 921.06 L128.36 921.06 L128.92 921.05 L129.48 921.05 L130.04 921.04 L130.6 921.03 L131.16 921.01 L131.72 921 L132.28 920.97 L132.84 920.95 L133.4 920.91 L133.96 920.88 L134.52 920.83 L135.08 920.78 L135.64 920.72 L136.2 920.65 L136.76 920.57 L137.32 920.48 L137.88 920.37 L138.44 920.23 L139 920.02 L139.56 919.73 L140.12 919.31 L140.68 918.69 L141.24 917.82 L141.8 916.64 L142.36 915.14 L142.92 913.32 L143.48 911.29 L144.04 909.21 L144.6 907.27 L145.16 905.72 L145.72 904.77 L146.28 904.55 L146.84 905.11 L147.4 906.37 L147.96 908.17 L148.52 910.27 L149.08 912.44 L149.64 914.49 L150.2 916.27 L150.76 917.71 L151.32 918.81 L151.88 919.6 L152.44 920.14 L153 920.49 L153.56 920.71 L154.12 920.84 L154.68 920.92 L155.24 920.97 L155.8 921 L156.36 921.02 L156.92 921.04 L157.48 921.05 L158.04 921.05 L158.6 921.06 L159.16 921.06 L159.72 921.06 L160.28 921.07 L160.84 921.07 L161.4 921.07 L161.4 921.52 Z" fill="url(#gdel)"/>
<path d="M173.8 921.52 L173.8 920.45 L174.3 920.1 L174.79 919.63 L175.29 918.99 L175.79 918.19 L176.28 917.22 L176.78 916.11 L177.28 914.94 L177.78 913.76 L178.27 912.69 L178.77 911.81 L179.27 911.21 L179.76 910.95 L180.26 911.04 L180.76 911.46 L181.25 912.15 L181.75 913.01 L182.25 913.96 L182.74 914.91 L183.24 915.77 L183.74 916.52 L184.23 917.12 L184.73 917.58 L185.23 917.91 L185.73 918.15 L186.22 918.32 L186.72 918.45 L187.22 918.56 L187.71 918.66 L188.21 918.77 L188.71 918.88 L189.2 919 L189.7 919.12 L190.2 919.25 L190.69 919.37 L191.19 919.49 L191.69 919.61 L192.18 919.71 L192.68 919.8 L193.18 919.89 L193.68 919.96 L194.17 920.02 L194.67 920.07 L195.17 920.11 L195.66 920.14 L196.16 920.17 L196.66 920.19 L197.15 920.21 L197.65 920.22 L198.15 920.23 L198.64 920.24 L199.14 920.24 L199.64 920.23 L200.13 920.23 L200.63 920.21 L201.13 920.19 L201.62 920.17 L202.12 920.14 L202.62 920.1 L203.12 920.06 L203.61 920.01 L204.11 919.95 L204.61 919.9 L205.1 919.84 L205.6 919.77 L206.1 919.71 L206.59 919.65 L207.09 919.59 L207.59 919.54 L208.08 919.5 L208.58 919.47 L209.08 919.44 L209.58 919.43 L210.07 919.44 L210.57 919.45 L211.07 919.48 L211.56 919.52 L212.06 919.58 L212.56 919.64 L213.05 919.72 L213.55 919.8 L214.05 919.89 L214.54 919.98 L215.04 920.08 L215.54 920.17 L216.03 920.27 L216.53 920.36 L217.03 920.45 L217.53 920.53 L218.02 920.6 L218.52 920.67 L219.02 920.73 L219.51 920.79 L220.01 920.84 L220.51 920.88 L221 920.91 L221.5 920.94 L222 920.97 L222.49 920.99 L222.99 921.01 L223.49 921.02 L223.98 921.03 L224.48 921.04 L224.98 921.05 L225.48 921.05 L225.97 921.06 L226.47 921.06 L226.97 921.06 L227.46 921.07 L227.96 921.07 L228.46 921.07 L228.95 921.07 L229.45 921.07 L229.95 921.07 L230.44 921.07 L230.94 921.07 L231.44 921.07 L231.93 921.07 L232.43 921.07 L232.93 921.07 L233.43 921.07 L233.92 921.07 L234.42 921.07 L234.92 921.07 L235.41 921.07 L235.91 921.07 L236.41 921.07 L236.9 921.07 L237.4 921.07 L237.9 921.07 L238.39 921.07 L238.89 921.07 L239.39 921.07 L239.88 921.07 L240.38 921.07 L240.88 921.07 L241.38 921.07 L241.87 921.07 L242.37 921.07 L242.87 921.07 L243.36 921.07 L243.86 921.07 L244.36 921.07 L244.85 921.07 L245.35 921.07 L245.85 921.07 L246.34 921.07 L246.84 921.07 L247.34 921.07 L247.83 921.07 L248.33 921.07 L248.83 921.07 L249.33 921.07 L249.82 921.07 L250.32 921.07 L250.82 921.07 L251.31 921.07 L251.81 921.07 L252.31 921.07 L252.8 921.07 L253.3 921.07 L253.3 921.52 Z" fill="url(#gdup)"/>
<path d="M71.8 931.96 L71.8 931.45 L72.36 931.44 L72.92 931.42 L73.48 931.41 L74.04 931.39 L74.6 931.37 L75.16 931.34 L75.72 931.32 L76.28 931.29 L76.84 931.25 L77.4 931.22 L77.96 931.18 L78.52 931.14 L79.08 931.1 L79.64 931.05 L80.2 931 L80.76 930.95 L81.32 930.9 L81.88 930.85 L82.44 930.81 L83 930.76 L83.56 930.71 L84.12 930.66 L84.68 930.62 L85.24 930.59 L85.8 930.55 L86.36 930.52 L86.92 930.5 L87.48 930.48 L88.04 930.47 L88.6 930.47 L89.16 930.47 L89.72 930.47 L90.28 930.49 L90.84 930.5 L91.4 930.53 L91.96 930.56 L92.52 930.59 L93.08 930.62 L93.64 930.66 L94.2 930.7 L94.76 930.74 L95.32 930.78 L95.88 930.83 L96.44 930.87 L97 930.91 L97.56 930.95 L98.12 930.98 L98.68 931.02 L99.24 931.05 L99.8 931.08 L100.36 931.1 L100.92 931.12 L101.48 931.14 L102.04 931.16 L102.6 931.17 L103.16 931.19 L103.72 931.19 L104.28 931.2 L104.84 931.2 L105.4 931.21 L105.96 931.21 L106.52 931.21 L107.08 931.2 L107.64 931.2 L108.2 931.2 L108.76 931.19 L109.32 931.19 L109.88 931.18 L110.44 931.18 L111 931.17 L111.56 931.16 L112.12 931.16 L112.68 931.15 L113.24 931.15 L113.8 931.14 L114.36 931.14 L114.92 931.13 L115.48 931.13 L116.04 931.12 L116.6 931.12 L117.16 931.12 L117.72 931.11 L118.28 931.11 L118.84 931.11 L119.4 931.11 L119.96 931.11 L120.52 931.11 L121.08 931.11 L121.64 931.11 L122.2 931.11 L122.76 931.12 L123.32 931.12 L123.88 931.12 L124.44 931.13 L125 931.13 L125.56 931.13 L126.12 931.14 L126.68 931.14 L127.24 931.15 L127.8 931.15 L128.36 931.16 L128.92 931.16 L129.48 931.16 L130.04 931.16 L130.6 931.16 L131.16 931.15 L131.72 931.14 L132.28 931.13 L132.84 931.11 L133.4 931.09 L133.96 931.06 L134.52 931.02 L135.08 930.98 L135.64 930.93 L136.2 930.87 L136.76 930.8 L137.32 930.72 L137.88 930.61 L138.44 930.48 L139 930.29 L139.56 930 L140.12 929.59 L140.68 928.98 L141.24 928.11 L141.8 926.94 L142.36 925.44 L142.92 923.64 L143.48 921.62 L144.04 919.53 L144.6 917.6 L145.16 916.06 L145.72 915.11 L146.28 914.9 L146.84 915.47 L147.4 916.74 L147.96 918.54 L148.52 920.64 L149.08 922.82 L149.64 924.87 L150.2 926.66 L150.76 928.11 L151.32 929.21 L151.88 930 L152.44 930.54 L153 930.89 L153.56 931.12 L154.12 931.25 L154.68 931.33 L155.24 931.39 L155.8 931.42 L156.36 931.44 L156.92 931.46 L157.48 931.47 L158.04 931.48 L158.6 931.48 L159.16 931.49 L159.72 931.49 L160.28 931.49 L160.84 931.5 L161.4 931.5 L161.4 931.96 Z" fill="url(#gdel)"/>
<path d="M173.8 931.96 L173.8 931.11 L174.3 930.85 L174.79 930.47 L175.29 929.94 L175.79 929.22 L176.28 928.29 L176.78 927.17 L177.28 925.88 L177.78 924.48 L178.27 923.07 L178.77 921.75 L179.27 920.65 L179.76 919.88 L180.26 919.5 L180.76 919.55 L181.25 920.01 L181.75 920.82 L182.25 921.88 L182.74 923.07 L183.24 924.28 L183.74 925.41 L184.23 926.42 L184.73 927.26 L185.23 927.93 L185.73 928.44 L186.22 928.83 L186.72 929.12 L187.22 929.35 L187.71 929.55 L188.21 929.72 L188.71 929.88 L189.2 930.04 L189.7 930.2 L190.2 930.35 L190.69 930.5 L191.19 930.65 L191.69 930.78 L192.18 930.9 L192.68 931.01 L193.18 931.11 L193.68 931.19 L194.17 931.26 L194.67 931.32 L195.17 931.37 L195.66 931.4 L196.16 931.43 L196.66 931.45 L197.15 931.47 L197.65 931.48 L198.15 931.49 L198.64 931.5 L199.14 931.5 L199.64 931.5 L200.13 931.51 L200.63 931.51 L201.13 931.51 L201.62 931.51 L202.12 931.51 L202.62 931.51 L203.12 931.51 L203.61 931.51 L204.11 931.51 L204.61 931.51 L205.1 931.51 L205.6 931.51 L206.1 931.51 L206.59 931.51 L207.09 931.51 L207.59 931.51 L208.08 931.51 L208.58 931.51 L209.08 931.51 L209.58 931.51 L210.07 931.51 L210.57 931.51 L211.07 931.51 L211.56 931.51 L212.06 931.51 L212.56 931.51 L213.05 931.51 L213.55 931.51 L214.05 931.51 L214.54 931.51 L215.04 931.51 L215.54 931.51 L216.03 931.51 L216.53 931.51 L217.03 931.5 L217.53 931.5 L218.02 931.5 L218.52 931.49 L219.02 931.48 L219.51 931.46 L220.01 931.44 L220.51 931.42 L221 931.38 L221.5 931.34 L222 931.3 L222.49 931.24 L222.99 931.18 L223.49 931.12 L223.98 931.06 L224.48 931.01 L224.98 930.97 L225.48 930.93 L225.97 930.91 L226.47 930.91 L226.97 930.92 L227.46 930.95 L227.96 931 L228.46 931.05 L228.95 931.1 L229.45 931.16 L229.95 931.22 L230.44 931.28 L230.94 931.33 L231.44 931.37 L231.93 931.41 L232.43 931.44 L232.93 931.46 L233.43 931.47 L233.92 931.49 L234.42 931.49 L234.92 931.5 L235.41 931.5 L235.91 931.51 L236.41 931.51 L236.9 931.51 L237.4 931.51 L237.9 931.51 L238.39 931.51 L238.89 931.51 L239.39 931.51 L239.88 931.51 L240.38 931.51 L240.88 931.51 L241.38 931.51 L241.87 931.51 L242.37 931.51 L242.87 931.51 L243.36 931.51 L243.86 931.51 L244.36 931.51 L244.85 931.51 L245.35 931.51 L245.85 931.51 L246.34 931.51 L246.84 931.51 L247.34 931.51 L247.83 931.51 L248.33 931.51 L248.83 931.51 L249.33 931.51 L249.82 931.51 L250.32 931.51 L250.82 931.51 L251.31 931.51 L251.81 931.51 L252.31 931.51 L252.8 931.51 L253.3 931.51 L253.3 931.96 Z" fill="url(#gdup)"/>
<path d="M71.8 942.4 L71.8 941.85 L72.36 941.83 L72.92 941.82 L73.48 941.8 L74.04 941.77 L74.6 941.73 L75.16 941.69 L75.72 941.64 L76.28 941.57 L76.84 941.5 L77.4 941.41 L77.96 941.3 L78.52 941.18 L79.08 941.05 L79.64 940.91 L80.2 940.76 L80.76 940.6 L81.32 940.45 L81.88 940.29 L82.44 940.15 L83 940.01 L83.56 939.9 L84.12 939.81 L84.68 939.75 L85.24 939.72 L85.8 939.72 L86.36 939.75 L86.92 939.8 L87.48 939.89 L88.04 939.99 L88.6 940.11 L89.16 940.25 L89.72 940.39 L90.28 940.53 L90.84 940.67 L91.4 940.8 L91.96 940.93 L92.52 941.04 L93.08 941.13 L93.64 941.22 L94.2 941.29 L94.76 941.35 L95.32 941.39 L95.88 941.43 L96.44 941.45 L97 941.47 L97.56 941.49 L98.12 941.49 L98.68 941.5 L99.24 941.5 L99.8 941.5 L100.36 941.5 L100.92 941.49 L101.48 941.49 L102.04 941.49 L102.6 941.48 L103.16 941.48 L103.72 941.47 L104.28 941.47 L104.84 941.47 L105.4 941.46 L105.96 941.46 L106.52 941.46 L107.08 941.46 L107.64 941.45 L108.2 941.45 L108.76 941.45 L109.32 941.45 L109.88 941.45 L110.44 941.45 L111 941.45 L111.56 941.45 L112.12 941.45 L112.68 941.45 L113.24 941.46 L113.8 941.46 L114.36 941.46 L114.92 941.46 L115.48 941.47 L116.04 941.47 L116.6 941.48 L117.16 941.48 L117.72 941.49 L118.28 941.49 L118.84 941.5 L119.4 941.5 L119.96 941.51 L120.52 941.51 L121.08 941.52 L121.64 941.53 L122.2 941.53 L122.76 941.54 L123.32 941.55 L123.88 941.56 L124.44 941.56 L125 941.57 L125.56 941.58 L126.12 941.59 L126.68 941.59 L127.24 941.6 L127.8 941.6 L128.36 941.61 L128.92 941.61 L129.48 941.62 L130.04 941.62 L130.6 941.61 L131.16 941.61 L131.72 941.6 L132.28 941.58 L132.84 941.57 L133.4 941.54 L133.96 941.51 L134.52 941.47 L135.08 941.43 L135.64 941.38 L136.2 941.32 L136.76 941.25 L137.32 941.17 L137.88 941.06 L138.44 940.92 L139 940.73 L139.56 940.45 L140.12 940.03 L140.68 939.42 L141.24 938.55 L141.8 937.38 L142.36 935.88 L142.92 934.07 L143.48 932.05 L144.04 929.97 L144.6 928.04 L145.16 926.49 L145.72 925.54 L146.28 925.33 L146.84 925.9 L147.4 927.16 L147.96 928.96 L148.52 931.07 L149.08 933.25 L149.64 935.3 L150.2 937.09 L150.76 938.53 L151.32 939.63 L151.88 940.43 L152.44 940.97 L153 941.32 L153.56 941.54 L154.12 941.68 L154.68 941.76 L155.24 941.81 L155.8 941.85 L156.36 941.87 L156.92 941.88 L157.48 941.9 L158.04 941.9 L158.6 941.91 L159.16 941.92 L159.72 941.92 L160.28 941.92 L160.84 941.93 L161.4 941.93 L161.4 942.4 Z" fill="url(#gdel)"/>
<path d="M173.8 942.4 L173.8 941.54 L174.3 941.31 L174.79 940.97 L175.29 940.51 L175.79 939.9 L176.28 939.15 L176.78 938.25 L177.28 937.23 L177.78 936.15 L178.27 935.07 L178.77 934.07 L179.27 933.23 L179.76 932.63 L180.26 932.32 L180.76 932.32 L181.25 932.61 L181.75 933.15 L182.25 933.86 L182.74 934.68 L183.24 935.53 L183.74 936.32 L184.23 937.03 L184.73 937.62 L185.23 938.09 L185.73 938.44 L186.22 938.7 L186.72 938.9 L187.22 939.06 L187.71 939.19 L188.21 939.32 L188.71 939.46 L189.2 939.61 L189.7 939.77 L190.2 939.94 L190.69 940.11 L191.19 940.28 L191.69 940.44 L192.18 940.59 L192.68 940.72 L193.18 940.84 L193.68 940.93 L194.17 941 L194.67 941.05 L195.17 941.08 L195.66 941.09 L196.16 941.08 L196.66 941.06 L197.15 941.02 L197.65 940.97 L198.15 940.92 L198.64 940.86 L199.14 940.8 L199.64 940.74 L200.13 940.68 L200.63 940.63 L201.13 940.58 L201.62 940.53 L202.12 940.5 L202.62 940.47 L203.12 940.46 L203.61 940.45 L204.11 940.45 L204.61 940.47 L205.1 940.49 L205.6 940.52 L206.1 940.57 L206.59 940.61 L207.09 940.67 L207.59 940.73 L208.08 940.8 L208.58 940.87 L209.08 940.95 L209.58 941.02 L210.07 941.1 L210.57 941.17 L211.07 941.24 L211.56 941.31 L212.06 941.38 L212.56 941.45 L213.05 941.5 L213.55 941.56 L214.05 941.61 L214.54 941.66 L215.04 941.7 L215.54 941.74 L216.03 941.77 L216.53 941.8 L217.03 941.82 L217.53 941.84 L218.02 941.86 L218.52 941.88 L219.02 941.89 L219.51 941.9 L220.01 941.91 L220.51 941.92 L221 941.93 L221.5 941.93 L222 941.94 L222.49 941.94 L222.99 941.94 L223.49 941.94 L223.98 941.95 L224.48 941.95 L224.98 941.95 L225.48 941.95 L225.97 941.95 L226.47 941.95 L226.97 941.95 L227.46 941.95 L227.96 941.95 L228.46 941.95 L228.95 941.95 L229.45 941.95 L229.95 941.95 L230.44 941.95 L230.94 941.95 L231.44 941.95 L231.93 941.95 L232.43 941.95 L232.93 941.95 L233.43 941.95 L233.92 941.95 L234.42 941.95 L234.92 941.95 L235.41 941.95 L235.91 941.95 L236.41 941.95 L236.9 941.95 L237.4 941.95 L237.9 941.95 L238.39 941.95 L238.89 941.95 L239.39 941.95 L239.88 941.95 L240.38 941.95 L240.88 941.95 L241.38 941.95 L241.87 941.95 L242.37 941.95 L242.87 941.95 L243.36 941.95 L243.86 941.95 L244.36 941.95 L244.85 941.95 L245.35 941.95 L245.85 941.95 L246.34 941.95 L246.84 941.95 L247.34 941.95 L247.83 941.95 L248.33 941.95 L248.83 941.95 L249.33 941.95 L249.82 941.95 L250.32 941.95 L250.82 941.95 L251.31 941.95 L251.81 941.95 L252.31 941.95 L252.8 941.95 L253.3 941.95 L253.3 942.4 Z" fill="url(#gdup)"/>
<rect x="365.7" y="743.3" width="90.1" height="97.1" fill="none" stroke="#c0c0c0" stroke-width="0.9"/>
<rect x="542.6" y="743.3" width="92.6" height="97.3" fill="none" stroke="#c0c0c0" stroke-width="0.9"/>
<circle cx="386.2" cy="758.4" r="5.9" fill="#bdbdbd"/>
<circle cx="443.2" cy="758.4" r="1.3" fill="#bdbdbd"/>
<circle cx="443.2" cy="831.9" r="3.2" fill="#aea23a"/>
<circle cx="562.9" cy="758.9" r="5.9" fill="#bdbdbd"/>
<circle cx="619.9" cy="832.7" r="1.1" fill="#aea23a"/>
<line x1="362.5" y1="758.4" x2="365.7" y2="758.4" stroke="#aaa" stroke-width="0.6"/>
<line x1="362.5" y1="831.5" x2="365.7" y2="831.5" stroke="#aaa" stroke-width="0.6"/>
<text x="361" y="760.6" font-size="9.6" text-anchor="end" fill="#333">fixed</text>
<text x="361" y="833.8" font-size="9.6" text-anchor="end" fill="#333">deletion</text>
<text x="386.1" y="853" font-size="9.6" text-anchor="middle" fill="#333">Presence</text>
<text x="433.3" y="853" font-size="9.6" text-anchor="middle" fill="#333">Absence</text>
<text x="565.6" y="853.1" font-size="9.6" text-anchor="middle" fill="#333">Presence</text>
<text x="612.9" y="853.1" font-size="9.6" text-anchor="middle" fill="#333">Absence</text>
<text x="321.8" y="793.8" font-size="12" text-anchor="middle" fill="#1a1a1a" transform="rotate(-90 321.8 793.8)">Unfiltered CNV call</text>
<text x="531.2" y="789.1" font-size="12" text-anchor="middle" fill="#1a1a1a" transform="rotate(-90 531.2 789.1)">Filtered CNV call</text>
<text x="492" y="879.3" font-size="12" text-anchor="middle" fill="#1a1a1a">PCR validation</text>
<text x="472.6" y="761" font-size="10.8" text-anchor="start" fill="#1a1a1a">Count</text>
<text x="643.4" y="761.2" font-size="10.8" text-anchor="start" fill="#1a1a1a">Count</text>
<circle cx="477.2" cy="770.1" r="3.2" fill="none" stroke="#222" stroke-width="0.9"/>
<text x="483.6" y="772.5" font-size="7" text-anchor="start" fill="#333">50</text>
<circle cx="477.2" cy="779.6" r="4.6" fill="none" stroke="#222" stroke-width="0.9"/>
<text x="483.6" y="782" font-size="7" text-anchor="start" fill="#333">100</text>
<circle cx="477.2" cy="790.6" r="5.3" fill="none" stroke="#222" stroke-width="0.9"/>
<text x="483.6" y="793" font-size="7" text-anchor="start" fill="#333">150</text>
<circle cx="649.2" cy="770.9" r="3.1" fill="none" stroke="#222" stroke-width="0.9"/>
<text x="654.6" y="773.3" font-size="7" text-anchor="start" fill="#333">25</text>
<circle cx="649.2" cy="780.6" r="4.5" fill="none" stroke="#222" stroke-width="0.9"/>
<text x="654.6" y="783" font-size="7" text-anchor="start" fill="#333">50</text>
<circle cx="649.2" cy="791.3" r="5.1" fill="none" stroke="#222" stroke-width="0.9"/>
<text x="654.6" y="793.7" font-size="7" text-anchor="start" fill="#333">75</text>
</svg>
</body></html>
